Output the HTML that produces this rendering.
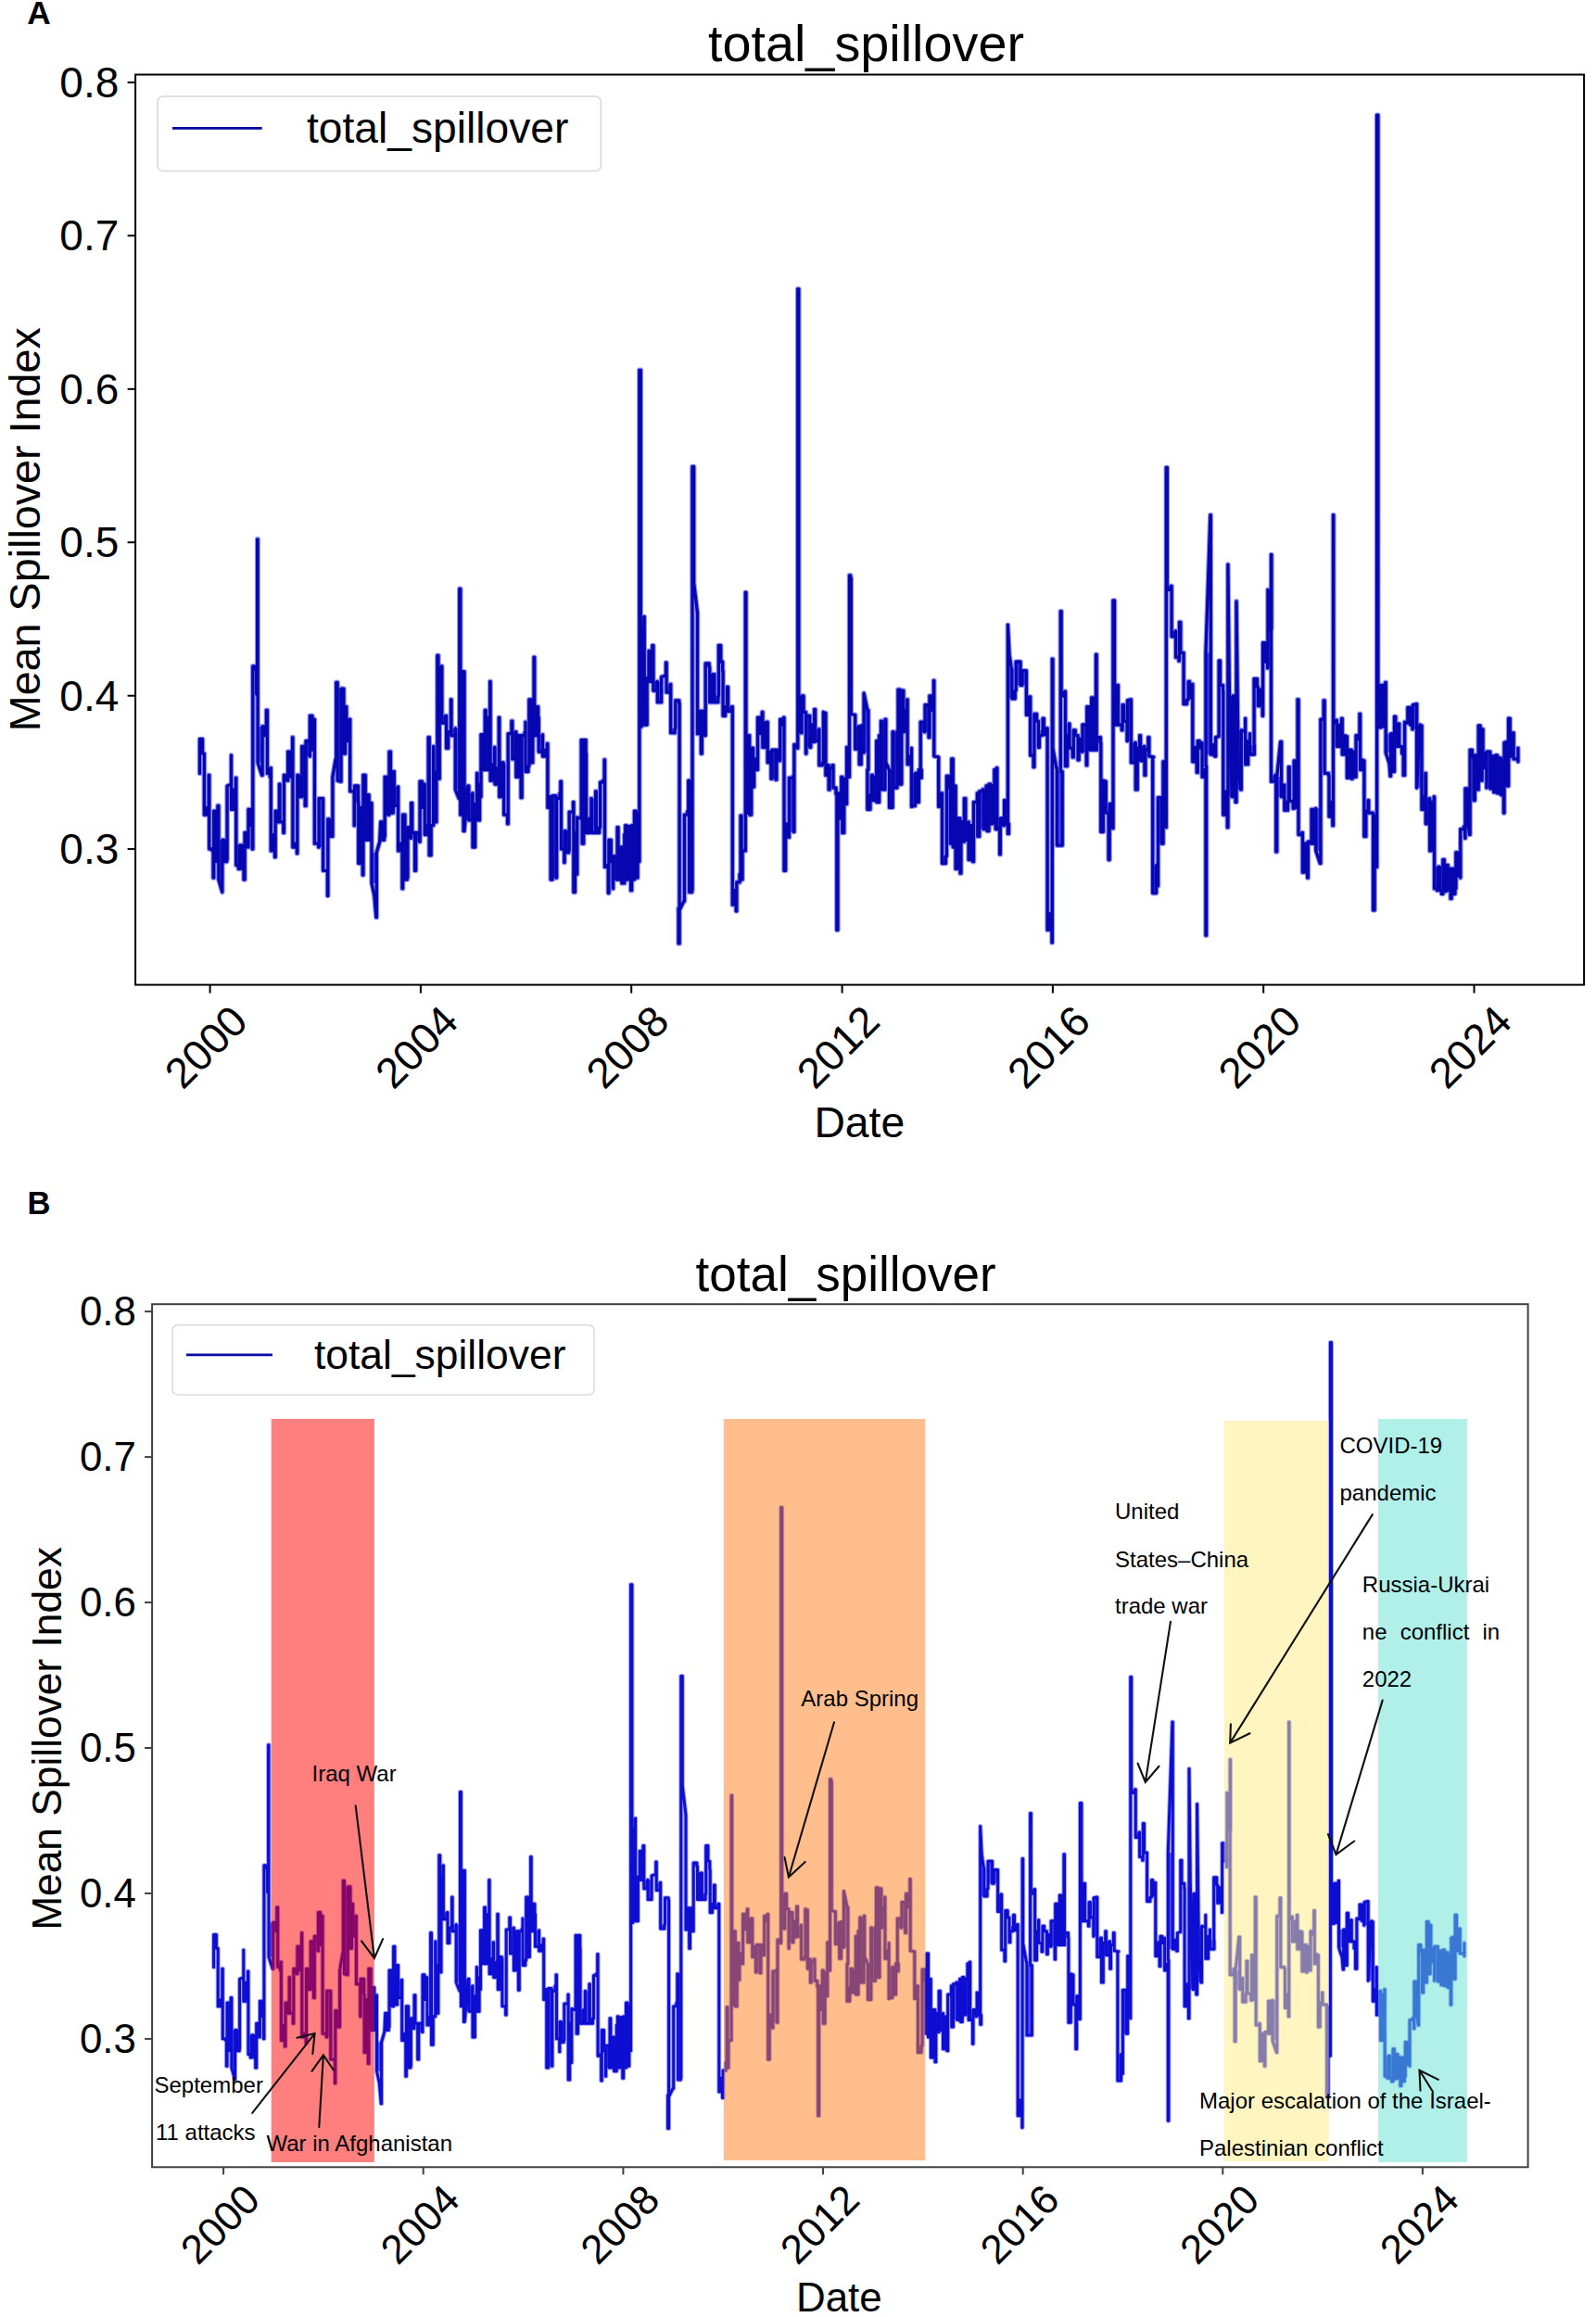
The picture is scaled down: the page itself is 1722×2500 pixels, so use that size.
<!DOCTYPE html>
<html lang="en"><head><meta charset="utf-8"><title>total_spillover</title>
<style>html,body{margin:0;padding:0;background:#fff}body{width:1722px;height:2500px;overflow:hidden}svg{display:block}text{font-family:'Liberation Sans', Arial, sans-serif;fill:#000}</style></head><body>
<svg width="1722" height="2500" viewBox="0 0 1722 2500">
<rect x="0" y="0" width="1722" height="2500" fill="#ffffff"/>
<text x="29.3" y="26.2" font-size="35.3" font-weight="bold">A</text>
<text x="29.6" y="1310" font-size="34.6" font-weight="bold">B</text>
<g id="chartA">
<path d="M215.5 799.5H218.5V813.1H215.5Z M220.4 871.3H223.3V879.1H220.4Z M230.7 875.2H233.0V929.6H230.7Z M233.0 875.2H235.0V929.6H233.0Z M235.9 906.3H239.8V949.0H235.9Z M239.8 906.3H241.8V929.6H239.8Z M241.8 906.3H245.1V927.6H241.8Z M249.5 851.9H252.4V873.3H249.5Z M258.3 912.1H261.2V937.4H258.3Z M264.1 898.5H267.0V914.0H264.1Z M268.0 873.3H270.9V890.7H268.0Z M278.1 783.9H283.1V822.8H278.1Z M283.1 783.9H285.5V793.6H283.1Z M285.5 783.9H287.4V793.6H285.5Z M292.3 900.5H295.2V917.9H292.3Z M295.2 900.5H296.5V917.9H295.2Z M297.1 875.2H300.0V886.9H297.1Z M300.0 875.2H301.4V886.9H300.0Z M306.4 836.4H309.7V842.2H306.4Z M310.7 811.1H313.6V838.3H310.7Z M313.6 811.1H315.6V838.3H313.6Z M315.9 910.2H318.5V914.0H315.9Z M318.5 910.2H320.4V914.0H318.5Z M320.8 836.4H322.4V859.7H320.8Z M322.4 836.4H325.8V859.7H322.4Z M325.8 805.3H329.2V859.7H325.8Z M330.1 799.5H334.0V816.0H330.1Z M334.4 772.3H336.9V809.2H334.4Z M336.9 776.2H339.4V809.2H336.9Z M344.1 863.6H348.6V914.0H344.1Z M353.8 883.9H355.4V902.4H353.8Z M355.4 883.9H358.9V902.4H355.4Z M362.8 736.3H364.1V818.9H362.8Z M364.1 743.1H368.0V842.2H364.1Z M368.0 743.1H370.9V813.1H368.0Z M370.9 762.6H372.5V813.1H370.9Z M372.5 762.6H373.8V799.5H372.5Z M373.8 776.2H377.1V799.5H373.8Z M382.6 848.0H386.4V865.5H382.6Z M386.8 871.3H388.4V931.5H386.8Z M388.4 871.3H391.3V931.5H388.4Z M391.9 836.4H394.2V906.3H391.9Z M394.2 857.7H396.2V906.3H394.2Z M396.2 857.7H398.1V906.3H396.2Z M398.1 866.5H401.0V906.3H398.1Z M401.0 919.9H406.3V952.9H401.0Z M412.7 902.4H414.6V906.3H412.7Z M415.2 838.3H418.5V879.1H415.2Z M418.5 838.3H420.0V879.1H418.5Z M420.0 811.1H421.4V877.1H420.0Z M421.4 832.5H424.3V877.1H421.4Z M425.3 849.0H429.2V869.4H425.3Z M429.6 910.2H432.1V917.9H429.6Z M432.1 910.2H434.0V917.9H432.1Z M434.6 879.1H436.9V949.0H434.6Z M436.9 892.7H439.9V947.1H436.9Z M439.9 892.7H442.8V904.3H439.9Z M448.6 898.5H452.5V908.2H448.6Z M453.1 843.2H455.4V871.3H453.1Z M455.4 846.1H457.9V871.3H455.4Z M458.3 890.7H461.2V900.5H458.3Z M463.2 890.7H465.1V922.8H463.2Z M468.0 832.5H470.9V886.9H468.0Z M472.9 731.5H474.2V840.2H472.9Z M476.8 772.3H480.6V780.0H476.8Z M481.6 789.7H483.6V807.2H481.6Z M487.0 785.9H491.3V793.6H487.0Z M491.3 785.9H495.8V851.9H491.3Z M496.8 724.7H499.1V879.1H496.8Z M501.0 848.0H505.8V884.9H501.0Z M505.8 855.8H509.7V884.9H505.8Z M510.1 867.4H512.6V914.0H510.1Z M515.1 846.1H517.5V884.9H515.1Z M519.0 792.7H521.4V830.5H519.0Z M521.4 792.7H523.3V830.5H521.4Z M524.3 774.2H527.2V830.5H524.3Z M529.1 824.7H532.0V842.2H529.1Z M534.0 828.6H536.9V846.1H534.0Z M538.8 822.8H540.8V859.7H538.8Z M540.8 824.7H543.7V859.7H540.8Z M552.8 789.7H556.3V818.9H552.8Z M556.9 793.6H559.2V838.3H556.9Z M559.2 795.6H562.1V838.3H559.2Z M567.0 826.6H569.9V832.5H567.0Z M570.9 754.8H573.4V822.8H570.9Z M573.4 754.8H574.8V822.8H573.4Z M576.7 762.6H578.7V793.6H576.7Z M578.7 762.6H580.6V774.2H578.7Z M581.2 792.7H585.5V811.1H581.2Z M585.5 809.2H588.4V816.0H585.5Z M590.9 859.7H593.2V871.3H590.9Z M594.2 859.7H596.1V949.0H594.2Z M596.1 858.7H600.0V947.1H596.1Z M609.1 896.6H610.7V919.9H609.1Z M610.7 896.6H614.2V917.9H610.7Z M618.9 898.5H620.4V962.6H618.9Z M620.4 898.5H622.4V943.2H620.4Z M628.2 798.5H629.7V910.2H628.2Z M629.7 798.5H632.1V813.1H629.7Z M632.5 883.0H635.9V898.5H632.5Z M638.3 861.6H642.7V898.5H638.3Z M643.3 892.7H646.6V898.5H643.3Z M656.9 906.3H659.3V929.6H656.9Z M661.6 923.8H665.1V949.0H661.6Z M667.0 914.0H669.9V949.0H667.0Z M670.9 914.0H673.8V952.9H670.9Z M675.8 891.7H677.7V949.0H675.8Z M677.7 891.7H680.6V949.0H677.7Z M681.6 890.7H683.5V949.0H681.6Z M684.5 875.2H686.4V947.1H684.5Z M686.4 879.1H688.0V947.1H686.4Z M688.0 879.1H689.4V929.6H688.0Z M689.9 399.4H691.3V783.9H689.9Z M695.2 731.5H698.1V782.0H695.2Z M701.0 702.4H703.9V735.4H701.0Z M704.9 735.4H708.8V745.1H704.9Z M709.4 735.4H713.6V757.7H709.4Z M719.1 738.3H723.3V747.0H719.1Z M723.7 785.9H728.2V790.7H723.7Z M743.7 842.2H747.0V960.7H743.7Z M747.0 503.5H748.6V628.6H747.0Z M752.5 767.4H754.4V791.7H752.5Z M754.4 767.4H756.4V791.7H754.4Z M757.3 767.4H760.2V793.6H757.3Z M761.2 715.9H765.1V719.8H761.2Z M765.7 727.6H769.0V757.7H765.7Z M769.0 727.6H770.9V757.7H769.0Z M770.9 750.9H774.8V757.7H770.9Z M775.4 696.5H777.7V714.0H775.4Z M780.1 762.6H782.6V772.3H780.1Z M785.5 762.6H789.4V767.4H785.5Z M791.3 960.7H794.2V976.2H791.3Z M804.9 793.6H807.8V877.1H804.9Z M808.7 807.2H810.7V879.1H808.7Z M810.7 807.2H812.6V849.0H810.7Z M813.6 818.9H816.5V830.5H813.6Z M817.5 774.2H820.4V791.7H817.5Z M820.4 774.2H822.3V791.7H820.4Z M822.9 780.0H825.2V806.3H822.9Z M825.2 780.0H828.2V806.3H825.2Z M828.2 811.1H831.1V822.8H828.2Z M833.0 809.2H836.9V840.2H833.0Z M837.9 809.2H840.8V820.8H837.9Z M841.8 776.2H844.3V782.0H841.8Z M844.3 776.2H845.6V782.0H844.3Z M846.0 888.8H847.6V939.3H846.0Z M847.6 888.8H850.9V903.4H847.6Z M851.5 839.3H856.3V897.5H851.5Z M856.9 803.3H860.2V807.2H856.9Z M865.1 750.9H867.0V768.4H865.1Z M869.9 772.3H873.8V806.3H869.9Z M874.8 782.0H876.7V800.4H874.8Z M876.7 782.0H878.7V800.4H876.7Z M879.6 786.8H883.5V799.5H879.6Z M888.4 769.4H890.9V822.8H888.4Z M890.9 825.7H893.2V836.4H890.9Z M903.9 855.8H905.8V883.0H903.9Z M905.8 855.8H907.8V883.0H905.8Z M908.8 840.2H910.7V898.5H908.8Z M910.7 840.2H912.6V867.4H910.7Z M913.6 806.3H916.1V838.3H913.6Z M922.7 783.9H926.2V808.2H922.7Z M927.2 783.9H929.2V824.7H927.2Z M929.2 783.0H931.1V812.1H929.2Z M932.1 766.4H936.9V812.1H932.1Z M935.9 857.7H938.9V873.3H935.9Z M940.2 836.4H941.8V857.7H940.2Z M941.8 838.3H944.7V863.6H941.8Z M946.0 799.5H948.6V865.5H946.0Z M951.5 778.1H955.0V851.9H951.5Z M959.6 832.5H963.1V871.3H959.6Z M964.1 789.7H968.0V850.0H964.1Z M969.0 744.1H970.9V788.8H969.0Z M970.9 745.1H972.8V846.1H970.9Z M972.8 745.1H974.8V789.7H972.8Z M979.1 816.0H981.6V824.7H979.1Z M983.5 834.4H987.4V869.4H983.5Z M987.4 834.4H990.3V865.5H987.4Z M991.3 830.5H994.2V839.3H991.3Z M993.2 779.1H997.1V789.7H993.2Z M998.1 760.6H1002.0V789.7H998.1Z M1003.0 750.9H1005.9V766.4H1003.0Z M1005.9 750.9H1007.4V766.4H1005.9Z M1012.7 855.8H1015.6V870.3H1012.7Z M1016.5 923.8H1020.4V931.5H1016.5Z M1021.4 837.3H1024.3V850.0H1021.4Z M1025.3 850.0H1026.8V910.2H1025.3Z M1026.8 818.9H1028.2V910.2H1026.8Z M1028.2 848.0H1030.7V914.0H1028.2Z M1031.1 883.0H1033.1V937.4H1031.1Z M1033.1 883.0H1036.0V937.4H1033.1Z M1036.9 886.9H1039.9V908.2H1036.9Z M1040.4 861.6H1041.8V906.3H1040.4Z M1041.8 886.9H1045.1V906.3H1041.8Z M1045.1 890.7H1047.6V927.6H1045.1Z M1047.6 890.7H1049.6V927.6H1047.6Z M1054.8 855.8H1056.7V902.4H1054.8Z M1056.7 853.8H1061.2V894.6H1056.7Z M1061.2 851.9H1064.1V894.6H1061.2Z M1065.1 848.0H1067.0V896.6H1065.1Z M1067.0 846.1H1069.0V888.8H1067.0Z M1069.0 848.0H1070.9V888.8H1069.0Z M1072.9 830.5H1074.2V848.0H1072.9Z M1074.2 830.5H1075.4V894.6H1074.2Z M1079.3 883.0H1082.6V890.7H1079.3Z M1087.4 721.8H1091.9V753.8H1087.4Z M1091.9 745.1H1095.2V753.8H1091.9Z M1096.2 714.0H1101.0V739.3H1096.2Z M1101.0 723.7H1102.9V739.3H1101.0Z M1102.9 723.7H1107.4V739.3H1102.9Z M1107.4 751.9H1110.7V771.3H1107.4Z M1115.9 770.3H1118.5V778.1H1115.9Z M1126.2 785.9H1129.1V792.7H1126.2Z M1130.1 985.9H1132.0V1003.4H1130.1Z M1132.0 985.9H1135.0V1003.4H1132.0Z M1140.4 832.5H1146.2V912.1H1140.4Z M1145.1 746.1H1148.6V750.9H1145.1Z M1149.5 793.6H1151.5V826.6H1149.5Z M1158.3 787.8H1160.2V793.6H1158.3Z M1164.1 797.5H1167.0V811.1H1164.1Z M1168.0 782.0H1172.2V811.1H1168.0Z M1172.8 762.6H1175.7V809.2H1172.8Z M1175.7 762.6H1177.7V809.2H1175.7Z M1177.7 752.8H1179.6V809.2H1177.7Z M1179.6 752.8H1182.5V809.2H1179.6Z M1183.5 795.6H1187.4V801.4H1183.5Z M1187.8 842.2H1190.3V897.5H1187.8Z M1190.3 843.2H1193.2V877.1H1190.3Z M1197.1 867.4H1200.0V893.7H1197.1Z M1201.0 648.0H1202.5V782.0H1201.0Z M1202.5 739.3H1204.9V782.0H1202.5Z M1204.9 739.3H1206.4V782.0H1204.9Z M1211.1 760.6H1212.6V778.1H1211.1Z M1216.5 755.8H1220.4V799.5H1216.5Z M1220.4 801.4H1224.3V822.8H1220.4Z M1225.3 807.2H1227.2V851.9H1225.3Z M1230.5 805.3H1234.0V820.8H1230.5Z M1243.7 933.5H1247.6V963.6H1243.7Z M1247.6 933.5H1249.2V955.8H1247.6Z M1249.5 860.6H1253.4V910.2H1249.5Z M1253.4 860.6H1255.0V910.2H1253.4Z M1255.0 821.8H1258.3V892.7H1255.0Z M1259.3 632.4H1263.1V636.3H1259.3Z M1264.1 681.0H1268.0V686.8H1264.1Z M1272.5 671.3H1273.8V704.3H1272.5Z M1277.1 754.8H1280.6V759.6H1277.1Z M1282.2 735.4H1283.5V752.8H1282.2Z M1283.5 738.3H1286.4V752.8H1283.5Z M1286.8 806.3H1289.4V821.8H1286.8Z M1289.4 806.3H1291.3V821.8H1289.4Z M1292.3 799.5H1294.2V807.2H1292.3Z M1294.2 801.4H1297.1V807.2H1294.2Z M1297.1 830.5H1300.0V838.3H1297.1Z M1301.0 704.3H1306.3V814.0H1301.0Z M1306.3 803.3H1308.8V814.0H1306.3Z M1308.8 803.3H1310.7V814.0H1308.8Z M1315.2 713.0H1316.5V739.3H1315.2Z M1319.8 853.8H1322.4V879.1H1319.8Z M1322.4 853.8H1324.3V879.1H1322.4Z M1324.9 750.9H1330.1V859.7H1324.9Z M1330.1 750.9H1333.1V859.7H1330.1Z M1334.0 787.8H1339.3V851.9H1334.0Z M1343.7 799.5H1346.6V824.7H1343.7Z M1348.6 804.3H1353.4V814.0H1348.6Z M1353.1 732.5H1356.4V741.2H1353.1Z M1357.3 744.1H1359.3V761.6H1357.3Z M1359.3 744.1H1362.2V761.6H1359.3Z M1362.6 693.6H1365.1V714.0H1362.6Z M1368.0 636.3H1371.9V679.0H1368.0Z M1371.5 836.4H1375.8V843.2H1371.5Z M1377.7 838.3H1382.6V859.7H1377.7Z M1382.6 847.0H1385.5V859.7H1382.6Z M1385.9 864.5H1389.4V874.2H1385.9Z M1396.2 820.8H1398.1V871.3H1396.2Z M1398.1 820.8H1400.1V871.3H1398.1Z M1405.4 910.2H1407.8V941.2H1405.4Z M1407.8 910.2H1410.7V941.2H1407.8Z M1415.1 873.3H1417.5V910.2H1415.1Z M1417.5 873.3H1419.4V910.2H1417.5Z M1419.8 872.3H1424.9V917.9H1419.8Z M1434.0 865.5H1435.9V881.0H1434.0Z M1435.9 865.5H1437.9V881.0H1435.9Z M1442.3 782.0H1445.6V805.3H1442.3Z M1448.2 793.6H1450.9V814.0H1448.2Z M1450.9 794.6H1453.4V814.0H1450.9Z M1453.4 809.2H1455.4V839.3H1453.4Z M1455.4 809.2H1458.3V839.3H1455.4Z M1459.2 811.1H1462.1V838.3H1459.2Z M1463.1 793.6H1465.6V797.5H1463.1Z M1465.6 793.6H1467.0V797.5H1465.6Z M1467.6 819.9H1469.9V830.5H1467.6Z M1469.9 820.8H1471.9V830.5H1469.9Z M1471.9 875.2H1473.8V902.4H1471.9Z M1481.6 880.1H1483.1V982.0H1481.6Z M1483.1 880.1H1484.7V935.4H1483.1Z M1485.6 124.2H1486.8V784.9H1485.6Z M1486.8 739.3H1489.7V784.9H1486.8Z M1489.7 739.3H1492.3V783.9H1489.7Z M1492.3 739.3H1494.8V783.9H1492.3Z M1495.2 791.7H1500.6V812.1H1495.2Z M1500.6 791.7H1502.9V832.5H1500.6Z M1502.9 791.7H1504.5V832.5H1502.9Z M1504.5 773.2H1505.8V805.3H1504.5Z M1505.8 781.0H1508.8V805.3H1505.8Z M1514.2 813.1H1515.6V836.4H1514.2Z M1518.9 763.5H1521.4V780.0H1518.9Z M1524.3 760.6H1528.6V786.8H1524.3Z M1528.6 783.0H1534.0V850.0H1528.6Z M1534.0 859.7H1535.9V873.3H1534.0Z M1538.3 861.6H1541.8V888.8H1538.3Z M1542.7 865.5H1544.7V917.9H1542.7Z M1547.6 935.4H1551.5V958.7H1547.6Z M1551.5 935.4H1553.4V960.7H1551.5Z M1555.4 960.7H1556.9V964.5H1555.4Z M1556.9 927.6H1558.3V961.6H1556.9Z M1558.3 933.5H1560.2V961.6H1558.3Z M1560.2 933.5H1562.2V960.7H1560.2Z M1565.1 937.4H1568.0V964.5H1565.1Z M1568.0 958.7H1569.9V964.5H1568.0Z M1570.9 919.9H1572.8V945.1H1570.9Z M1572.8 919.9H1575.8V945.1H1572.8Z M1581.0 850.9H1583.5V884.9H1581.0Z M1583.5 850.9H1586.1V884.9H1583.5Z M1586.1 809.2H1588.4V816.9H1586.1Z M1589.9 816.9H1591.3V863.6H1589.9Z M1591.3 815.0H1594.2V851.9H1591.3Z M1595.2 783.0H1597.1V842.2H1595.2Z M1597.1 786.8H1599.1V842.2H1597.1Z M1600.0 813.1H1602.0V828.6H1600.0Z M1602.0 813.1H1603.9V828.6H1602.0Z M1603.9 811.1H1607.8V850.0H1603.9Z M1608.8 816.0H1611.7V850.9H1608.8Z M1611.7 816.0H1613.6V854.8H1611.7Z M1613.6 815.0H1615.6V854.8H1613.6Z M1615.6 817.9H1617.5V855.8H1615.6Z M1617.5 817.9H1619.5V855.8H1617.5Z M1619.5 820.8H1621.4V857.7H1619.5Z M1623.0 801.4H1626.3V848.0H1623.0Z M1626.3 800.4H1627.6V848.0H1626.3Z M1627.6 775.2H1629.2V816.0H1627.6Z M1629.2 790.7H1632.1V816.0H1629.2Z" fill="#2a2aee" fill-opacity="0.80" stroke="none"/>
<path d="M215.5 834.4 L215.5 797.5 L218.5 797.5 L218.5 799.5 L218.5 813.1 L220.4 813.1 L220.4 879.1 L223.3 879.1 L223.3 871.3 L225.2 871.3 L225.2 836.4 L225.8 836.4 L225.8 916.0 L229.1 916.0 L229.1 917.9 L230.1 917.9 L230.1 947.1 L230.7 947.1 L230.7 875.2 L233.0 875.2 L233.0 929.6 L235.0 929.6 L235.0 869.4 L235.9 869.4 L235.9 949.0 L239.8 962.6 L239.8 906.3 L241.8 906.3 L241.8 929.6 L244.7 929.6 L244.7 927.6 L245.1 927.6 L245.1 848.0 L247.6 847.0 L249.5 847.0 L249.5 815.0 L249.5 873.3 L252.4 873.3 L252.4 851.9 L254.4 851.9 L254.4 839.3 L254.8 839.3 L254.8 933.5 L257.3 933.5 L257.3 937.4 L258.3 937.4 L258.3 912.1 L260.2 912.1 L261.2 912.1 L261.2 937.4 L263.1 937.4 L263.1 949.0 L264.1 949.0 L264.1 898.5 L267.0 898.5 L267.0 914.0 L268.0 914.0 L268.0 873.3 L270.9 873.3 L270.9 890.7 L272.2 890.7 L272.2 916.0 L272.8 916.0 L272.8 718.9 L274.8 718.9 L274.8 721.8 L276.7 721.8 L276.7 749.0 L277.7 749.0 L277.7 581.9 L278.1 581.9 L278.1 822.8 L282.5 836.4 L283.1 836.4 L283.1 783.9 L285.5 783.9 L285.5 793.6 L287.4 793.6 L287.4 766.4 L288.4 766.4 L288.4 834.4 L291.3 834.4 L291.3 838.3 L291.7 838.3 L291.7 828.6 L292.3 828.6 L292.3 917.9 L295.2 917.9 L295.2 900.5 L296.5 900.5 L296.5 924.7 L297.1 924.7 L297.1 875.2 L300.0 875.2 L300.0 886.9 L301.4 886.9 L301.4 846.1 L302.0 846.1 L302.0 886.9 L305.8 886.9 L305.8 898.5 L306.4 898.5 L306.4 836.4 L309.7 836.4 L309.7 842.2 L310.7 842.2 L310.7 811.1 L313.6 811.1 L313.6 838.3 L315.6 838.3 L315.6 795.6 L315.9 795.6 L315.9 914.0 L318.5 914.0 L318.5 910.2 L320.4 910.2 L320.4 920.8 L320.8 920.8 L320.8 836.4 L322.4 836.4 L322.4 859.7 L325.3 859.7 L325.8 859.7 L325.8 805.3 L329.2 805.3 L329.2 869.4 L330.1 869.4 L330.1 799.5 L334.0 799.5 L334.0 816.0 L334.4 816.0 L334.4 772.3 L336.9 772.3 L336.9 809.2 L339.4 809.2 L339.4 776.2 L339.4 910.2 L343.7 910.2 L343.7 914.0 L344.1 914.0 L344.1 861.6 L348.6 861.6 L348.6 863.6 L348.6 939.3 L351.5 939.3 L353.4 939.3 L353.4 966.5 L353.8 966.5 L353.8 883.9 L355.4 883.9 L355.4 902.4 L358.3 902.4 L358.9 902.4 L358.9 838.3 L362.2 818.9 L362.8 818.9 L362.8 736.3 L364.1 736.3 L364.1 842.2 L367.4 843.2 L368.0 843.2 L368.0 743.1 L370.9 743.1 L370.9 813.1 L372.5 813.1 L372.5 762.6 L373.8 762.6 L373.8 799.5 L377.1 799.5 L377.1 776.2 L377.7 776.2 L377.7 853.8 L380.6 853.8 L382.2 853.8 L382.2 890.7 L382.6 890.7 L382.6 848.0 L386.4 848.0 L386.4 865.5 L386.8 865.5 L386.8 931.5 L388.4 931.5 L388.4 871.3 L391.3 871.3 L391.3 944.1 L391.9 944.1 L391.9 836.4 L394.2 836.4 L394.2 906.3 L396.2 906.3 L396.2 857.7 L398.1 857.7 L398.1 906.3 L401.0 906.3 L401.0 866.5 L401.0 952.9 L403.9 966.5 L405.9 989.8 L406.3 989.8 L406.3 919.9 L409.7 908.2 L410.7 886.9 L412.7 886.9 L412.7 906.3 L414.6 906.3 L414.6 902.4 L415.2 902.4 L415.2 838.3 L418.5 838.3 L418.5 879.1 L420.0 879.1 L420.0 811.1 L421.4 811.1 L421.4 877.1 L424.3 877.1 L424.3 832.5 L425.3 832.5 L425.3 869.4 L429.2 869.4 L429.2 849.0 L429.6 849.0 L429.6 917.9 L432.1 917.9 L432.1 910.2 L434.0 910.2 L434.0 958.7 L434.6 958.7 L434.6 879.1 L436.9 879.1 L436.9 949.0 L439.3 949.0 L439.3 947.1 L439.9 947.1 L439.9 892.7 L442.8 892.7 L442.8 904.3 L443.7 904.3 L443.7 866.5 L444.7 866.5 L444.7 898.5 L447.6 898.5 L447.6 939.3 L448.6 939.3 L448.6 898.5 L452.5 898.5 L452.5 908.2 L453.1 908.2 L453.1 843.2 L455.4 843.2 L455.4 871.3 L457.9 871.3 L457.9 846.1 L458.3 846.1 L458.3 900.5 L461.2 900.5 L461.2 890.7 L462.2 890.7 L462.2 795.6 L463.2 795.6 L463.2 922.8 L465.1 922.8 L465.1 890.7 L467.6 890.7 L467.6 805.3 L468.0 805.3 L468.0 886.9 L470.9 886.9 L470.9 832.5 L471.9 832.5 L471.9 707.2 L472.9 707.2 L472.9 840.2 L474.2 840.2 L474.2 731.5 L476.2 731.5 L476.2 718.9 L476.8 718.9 L476.8 780.0 L480.6 780.0 L480.6 772.3 L481.6 772.3 L481.6 807.2 L483.6 807.2 L483.6 789.7 L486.5 789.7 L486.5 754.8 L487.0 754.8 L487.0 793.6 L491.3 793.6 L491.3 785.9 L491.3 851.9 L495.2 861.6 L495.8 861.6 L495.8 635.4 L496.8 635.4 L496.8 879.1 L499.1 879.1 L499.1 724.7 L500.1 724.7 L500.1 896.6 L500.0 724.7 L501.0 724.7 L501.0 896.6 L504.9 848.0 L505.8 848.0 L505.8 884.9 L509.7 884.9 L509.7 855.8 L510.1 855.8 L510.1 914.0 L512.6 914.0 L512.6 867.4 L514.6 867.4 L514.6 834.4 L515.1 834.4 L515.1 884.9 L517.5 884.9 L517.5 846.1 L518.5 846.1 L518.5 859.7 L519.0 859.7 L519.0 792.7 L521.4 792.7 L521.4 830.5 L523.3 830.5 L523.3 766.4 L524.3 766.4 L524.3 830.5 L527.2 830.5 L527.2 774.2 L528.7 774.2 L528.7 735.4 L529.1 735.4 L529.1 842.2 L532.0 842.2 L532.0 824.7 L533.4 824.7 L533.4 806.3 L534.0 806.3 L534.0 846.1 L536.9 846.1 L536.9 828.6 L538.3 828.6 L538.3 774.2 L538.8 774.2 L538.8 859.7 L540.8 859.7 L540.8 822.8 L543.1 822.8 L543.1 824.7 L543.7 824.7 L543.7 879.1 L547.6 879.1 L547.6 888.8 L548.2 888.8 L548.2 791.7 L552.0 791.7 L552.0 778.1 L552.8 778.1 L552.8 818.9 L555.4 818.9 L556.3 818.9 L556.3 789.7 L556.9 789.7 L556.9 838.3 L559.2 838.3 L559.2 793.6 L561.8 793.6 L561.8 795.6 L562.1 795.6 L562.1 860.6 L563.1 860.6 L563.1 793.6 L566.0 793.6 L566.0 790.7 L567.0 790.7 L567.0 779.1 L567.0 832.5 L569.9 832.5 L569.9 826.6 L570.9 826.6 L570.9 754.8 L573.4 754.8 L573.4 822.8 L574.8 822.8 L574.8 754.8 L576.1 754.8 L576.1 709.2 L576.7 709.2 L576.7 793.6 L578.7 793.6 L578.7 762.6 L580.6 762.6 L580.6 774.2 L581.2 774.2 L581.2 811.1 L583.5 811.1 L585.5 811.1 L585.5 792.7 L585.5 816.0 L588.4 816.0 L588.4 809.2 L590.3 809.2 L590.3 802.4 L590.9 802.4 L590.9 871.3 L593.2 871.3 L593.2 859.7 L594.2 859.7 L594.2 949.0 L596.1 949.0 L596.1 858.7 L600.0 858.7 L600.0 947.1 L600.6 947.1 L600.6 861.6 L603.9 861.6 L603.9 855.8 L604.9 855.8 L604.9 843.2 L605.5 843.2 L605.5 916.0 L608.8 916.0 L608.8 930.6 L609.1 930.6 L609.1 896.6 L610.7 896.6 L610.7 919.9 L613.6 919.9 L613.6 917.9 L614.2 917.9 L614.2 876.2 L618.5 876.2 L618.5 865.5 L618.9 865.5 L618.9 962.6 L620.4 962.6 L620.4 898.5 L622.4 898.5 L622.4 943.2 L622.7 943.2 L622.7 882.0 L626.2 883.0 L627.2 883.0 L627.2 798.5 L628.2 798.5 L628.2 910.2 L629.7 910.2 L629.7 798.5 L632.1 798.5 L632.1 813.1 L632.5 813.1 L632.5 898.5 L635.9 898.5 L635.9 883.0 L637.9 883.0 L637.9 861.6 L638.3 861.6 L638.3 898.5 L641.8 898.5 L642.7 898.5 L642.7 853.8 L643.3 853.8 L643.3 898.5 L646.6 898.5 L646.6 892.7 L647.6 892.7 L647.6 844.1 L650.5 844.1 L650.5 842.2 L652.1 842.2 L652.1 819.9 L652.5 819.9 L652.5 935.4 L655.4 935.4 L655.4 933.5 L656.3 933.5 L656.3 963.6 L656.9 963.6 L656.9 906.3 L659.3 906.3 L659.3 929.6 L661.2 929.6 L661.2 958.7 L661.6 958.7 L661.6 923.8 L665.1 923.8 L665.1 949.0 L666.1 949.0 L666.1 892.7 L667.0 892.7 L667.0 949.0 L669.9 949.0 L669.9 914.0 L670.9 914.0 L670.9 952.9 L673.8 952.9 L673.8 900.5 L674.8 900.5 L674.8 890.7 L675.8 890.7 L675.8 949.0 L677.7 949.0 L677.7 891.7 L680.6 891.7 L680.6 960.7 L681.6 960.7 L681.6 890.7 L683.5 890.7 L683.5 949.0 L684.5 949.0 L684.5 875.2 L686.4 875.2 L686.4 947.1 L688.0 947.1 L688.0 879.1 L689.4 879.1 L689.4 929.6 L689.9 929.6 L689.9 399.4 L691.3 399.4 L691.3 783.9 L692.3 783.9 L692.3 677.1 L694.8 677.1 L694.8 665.5 L695.2 665.5 L695.2 782.0 L698.1 782.0 L698.1 731.5 L700.0 731.5 L700.0 702.4 L701.0 702.4 L701.0 735.4 L703.9 735.4 L703.9 696.5 L704.9 696.5 L704.9 745.1 L708.8 745.1 L708.8 735.4 L709.4 735.4 L709.4 757.7 L712.7 757.7 L713.6 757.7 L713.6 730.5 L716.5 729.5 L718.5 729.5 L718.5 715.0 L719.1 715.0 L719.1 747.0 L723.3 747.0 L723.3 738.3 L723.7 738.3 L723.7 790.7 L728.2 790.7 L728.2 785.9 L728.8 785.9 L728.8 755.8 L732.7 755.8 L732.7 758.7 L733.1 758.7 L733.1 980.1 L732.1 980.1 L732.1 1017.9 L733.1 1017.9 L733.1 982.0 L737.9 972.3 L738.5 972.3 L738.5 879.1 L741.8 879.1 L741.8 875.2 L742.8 875.2 L742.8 842.2 L743.7 842.2 L743.7 962.6 L746.6 962.6 L746.6 960.7 L747.0 960.7 L747.0 503.5 L748.6 503.5 L748.6 628.6 L752.5 661.6 L752.5 791.7 L754.4 791.7 L754.4 767.4 L756.4 767.4 L756.4 813.1 L757.3 813.1 L757.3 767.4 L760.2 767.4 L760.2 793.6 L761.2 793.6 L761.2 715.9 L765.1 715.9 L765.1 719.8 L765.7 719.8 L765.7 757.7 L769.0 757.7 L769.0 727.6 L770.9 727.6 L770.9 757.7 L774.8 757.7 L774.8 750.9 L775.4 750.9 L775.4 696.5 L777.7 696.5 L777.7 714.0 L779.7 714.0 L779.7 723.7 L780.1 723.7 L780.1 772.3 L782.6 772.3 L782.6 762.6 L784.5 762.6 L784.5 741.2 L785.5 741.2 L785.5 767.4 L789.4 767.4 L789.4 762.6 L790.3 762.6 L790.3 976.2 L791.3 976.2 L791.3 960.7 L794.2 960.7 L794.2 983.0 L794.8 983.0 L794.8 951.9 L798.1 951.9 L798.1 943.2 L799.1 943.2 L799.1 880.1 L800.1 880.1 L800.1 943.2 L800.0 880.1 L800.0 949.0 L801.0 949.0 L801.0 917.9 L803.9 917.9 L804.3 917.9 L804.3 639.2 L804.9 639.2 L804.9 877.1 L807.8 877.1 L807.8 793.6 L808.7 793.6 L808.7 879.1 L810.7 879.1 L810.7 807.2 L812.6 807.2 L812.6 849.0 L813.6 849.0 L813.6 818.9 L816.5 818.9 L816.5 830.5 L817.5 830.5 L817.5 774.2 L820.4 774.2 L820.4 791.7 L822.3 791.7 L822.3 768.4 L822.9 768.4 L822.9 806.3 L825.2 806.3 L825.2 780.0 L827.6 779.1 L828.2 779.1 L828.2 822.8 L831.1 822.8 L831.1 811.1 L832.0 811.1 L832.0 840.2 L833.0 840.2 L833.0 809.2 L836.9 809.2 L836.9 841.2 L837.9 841.2 L837.9 809.2 L840.8 809.2 L840.8 820.8 L841.8 820.8 L841.8 776.2 L844.3 776.2 L844.3 782.0 L845.6 782.0 L845.6 774.2 L846.0 774.2 L846.0 939.3 L847.6 939.3 L847.6 888.8 L850.9 888.8 L850.9 903.4 L851.5 903.4 L851.5 839.3 L855.9 839.3 L855.9 837.3 L856.3 837.3 L856.3 897.5 L856.9 897.5 L856.9 803.3 L860.2 803.3 L860.2 807.2 L860.8 807.2 L860.8 311.8 L861.8 311.8 L861.8 754.8 L864.1 754.8 L864.1 790.7 L865.1 790.7 L865.1 750.9 L867.0 750.9 L867.0 768.4 L869.5 768.4 L869.5 813.1 L869.9 813.1 L869.9 772.3 L873.8 772.3 L873.8 806.3 L874.8 806.3 L874.8 782.0 L876.7 782.0 L876.7 800.4 L878.7 800.4 L878.7 765.5 L879.6 765.5 L879.6 799.5 L883.5 799.5 L883.5 786.8 L883.9 786.8 L883.9 825.7 L887.4 825.7 L887.4 822.8 L888.4 822.8 L888.4 768.4 L890.3 769.4 L890.9 769.4 L890.9 836.4 L893.2 836.4 L893.2 825.7 L894.2 825.7 L894.2 851.9 L895.2 851.9 L895.2 828.6 L898.1 828.6 L898.1 825.7 L899.0 825.7 L899.0 850.0 L902.0 850.0 L902.0 856.8 L902.9 856.8 L902.9 1003.4 L903.9 1003.4 L903.9 855.8 L905.8 855.8 L905.8 883.0 L907.8 883.0 L907.8 838.3 L908.8 838.3 L908.8 898.5 L910.7 898.5 L910.7 840.2 L912.6 840.2 L912.6 867.4 L913.6 867.4 L913.6 806.3 L916.1 806.3 L916.1 838.3 L916.5 838.3 L916.5 620.8 L917.7 620.8 L917.7 623.7 L918.3 623.7 L918.3 770.3 L922.0 771.3 L922.7 771.3 L922.7 808.2 L926.2 808.2 L926.2 783.9 L927.2 783.9 L927.2 824.7 L929.2 824.7 L929.2 783.0 L931.1 783.0 L931.1 812.1 L932.1 812.1 L932.1 748.0 L935.9 766.4 L936.9 766.4 L936.9 830.5 L935.9 830.5 L935.9 873.3 L938.9 873.3 L938.9 857.7 L940.2 857.7 L940.2 836.4 L941.8 836.4 L941.8 863.6 L944.7 863.6 L944.7 838.3 L945.7 838.3 L945.7 799.5 L946.0 799.5 L946.0 865.5 L948.6 865.5 L948.6 793.6 L950.5 793.6 L950.5 778.1 L951.5 778.1 L951.5 851.9 L955.0 851.9 L955.0 776.2 L955.8 776.2 L955.8 822.8 L960.2 832.5 L959.6 832.5 L959.6 871.3 L963.1 871.3 L963.1 789.7 L964.1 789.7 L964.1 850.0 L968.0 850.0 L968.0 788.8 L969.0 788.8 L969.0 744.1 L970.9 744.1 L970.9 846.1 L972.8 846.1 L972.8 745.1 L974.8 745.1 L974.8 789.7 L975.8 789.7 L975.8 766.4 L978.7 766.4 L978.7 754.8 L979.1 754.8 L979.1 824.7 L981.6 824.7 L981.6 816.0 L983.5 816.0 L983.5 807.2 L983.5 870.3 L986.4 869.4 L987.4 869.4 L987.4 834.4 L990.3 834.4 L990.3 865.5 L991.3 865.5 L991.3 830.5 L994.2 830.5 L994.2 839.3 L993.2 839.3 L993.2 779.1 L997.1 779.1 L997.1 789.7 L998.1 789.7 L998.1 760.6 L1002.0 760.6 L1002.0 795.6 L1003.0 795.6 L1003.0 750.9 L1005.9 750.9 L1005.9 766.4 L1007.4 766.4 L1007.4 734.4 L1007.8 734.4 L1007.8 816.0 L1012.7 816.9 L1012.7 870.3 L1015.6 870.3 L1015.6 855.8 L1016.5 855.8 L1016.5 931.5 L1020.4 931.5 L1020.4 923.8 L1021.4 923.8 L1021.4 837.3 L1024.3 837.3 L1024.3 850.0 L1025.3 850.0 L1025.3 910.2 L1026.8 910.2 L1026.8 818.9 L1028.2 818.9 L1028.2 914.0 L1030.7 914.0 L1030.7 848.0 L1031.1 848.0 L1031.1 937.4 L1033.1 937.4 L1033.1 883.0 L1036.0 883.0 L1036.0 942.2 L1036.9 942.2 L1036.9 886.9 L1039.9 886.9 L1039.9 908.2 L1040.4 908.2 L1040.4 861.6 L1041.8 861.6 L1041.8 906.3 L1045.1 906.3 L1045.1 886.9 L1045.1 927.6 L1047.6 927.6 L1047.6 890.7 L1049.6 890.7 L1049.6 929.6 L1050.5 929.6 L1050.5 865.5 L1054.4 865.5 L1054.4 855.8 L1054.8 855.8 L1054.8 902.4 L1056.7 902.4 L1056.7 853.8 L1060.2 853.8 L1060.2 851.9 L1061.2 851.9 L1061.2 894.6 L1064.1 894.6 L1064.1 848.0 L1065.1 848.0 L1065.1 896.6 L1067.0 896.6 L1067.0 846.1 L1069.0 846.1 L1069.0 888.8 L1070.9 888.8 L1070.9 848.0 L1072.9 848.0 L1072.9 830.5 L1074.2 830.5 L1074.2 894.6 L1075.4 894.6 L1075.4 828.6 L1075.8 828.6 L1075.8 894.6 L1078.7 894.6 L1078.7 921.8 L1079.3 921.8 L1079.3 883.0 L1082.6 883.0 L1082.6 890.7 L1083.6 890.7 L1083.6 863.6 L1084.5 863.6 L1084.5 888.8 L1088.4 888.8 L1088.4 899.5 L1087.4 899.5 L1087.4 674.2 L1089.0 706.2 L1091.3 721.8 L1091.9 721.8 L1091.9 753.8 L1095.2 753.8 L1095.2 745.1 L1096.2 745.1 L1096.2 714.0 L1100.1 714.0 L1100.0 714.0 L1101.0 714.0 L1101.0 739.3 L1102.9 739.3 L1102.9 723.7 L1106.8 723.7 L1107.4 723.7 L1107.4 771.3 L1110.7 771.3 L1110.7 751.9 L1111.7 751.9 L1111.7 815.0 L1115.1 815.0 L1115.1 827.6 L1115.9 827.6 L1115.9 770.3 L1118.5 770.3 L1118.5 778.1 L1120.4 778.1 L1120.4 806.3 L1121.4 806.3 L1121.4 793.6 L1124.3 793.6 L1124.3 788.8 L1125.2 788.8 L1125.2 775.2 L1126.2 775.2 L1126.2 792.7 L1129.1 792.7 L1129.1 785.9 L1130.1 785.9 L1130.1 1003.4 L1132.0 1003.4 L1132.0 985.9 L1135.0 985.9 L1135.0 1017.0 L1135.3 1017.0 L1135.3 711.1 L1135.9 711.1 L1135.9 807.2 L1139.8 828.6 L1140.4 828.6 L1140.4 912.1 L1145.6 912.1 L1146.2 912.1 L1146.2 832.5 L1144.3 832.5 L1144.3 659.6 L1145.1 659.6 L1145.1 750.9 L1148.6 750.9 L1148.6 746.1 L1149.5 746.1 L1149.5 826.6 L1151.5 826.6 L1151.5 793.6 L1153.4 793.6 L1153.4 781.0 L1154.0 781.0 L1154.0 807.2 L1157.3 807.2 L1157.3 816.9 L1158.3 816.9 L1158.3 787.8 L1160.2 787.8 L1160.2 793.6 L1163.1 793.6 L1163.1 819.9 L1164.1 819.9 L1164.1 797.5 L1167.0 797.5 L1167.0 811.1 L1168.0 811.1 L1168.0 782.0 L1172.2 782.0 L1172.2 825.7 L1172.8 825.7 L1172.8 762.6 L1175.7 762.6 L1175.7 809.2 L1177.7 809.2 L1177.7 752.8 L1179.6 752.8 L1179.6 809.2 L1182.5 809.2 L1182.5 706.2 L1183.1 706.2 L1183.1 809.2 L1183.5 809.2 L1183.5 795.6 L1187.4 795.6 L1187.4 801.4 L1187.8 801.4 L1187.8 897.5 L1190.3 897.5 L1190.3 842.2 L1192.8 843.2 L1193.2 843.2 L1193.2 877.1 L1196.1 877.1 L1196.1 927.6 L1197.1 927.6 L1197.1 867.4 L1200.0 867.4 L1200.0 893.7 L1201.0 893.7 L1201.0 648.0 L1202.5 648.0 L1202.5 782.0 L1204.9 782.0 L1204.9 739.3 L1206.4 739.3 L1206.4 782.0 L1210.3 782.0 L1210.3 787.8 L1211.1 787.8 L1211.1 760.6 L1212.6 760.6 L1212.6 778.1 L1216.1 778.1 L1216.1 799.5 L1216.5 799.5 L1216.5 755.8 L1220.0 754.8 L1220.4 754.8 L1220.4 822.8 L1224.3 822.8 L1224.3 801.4 L1225.3 801.4 L1225.3 851.9 L1227.2 851.9 L1227.2 807.2 L1229.7 807.2 L1229.7 793.6 L1230.5 793.6 L1230.5 820.8 L1234.0 820.8 L1234.0 805.3 L1235.0 805.3 L1235.0 836.4 L1235.9 836.4 L1235.9 809.2 L1238.9 809.2 L1238.9 795.6 L1239.8 795.6 L1239.8 816.0 L1244.7 816.9 L1243.7 816.9 L1243.7 963.6 L1247.6 963.6 L1247.6 933.5 L1249.2 933.5 L1249.2 955.8 L1249.5 955.8 L1249.5 860.6 L1253.4 860.6 L1253.4 910.2 L1255.0 910.2 L1255.0 821.8 L1258.3 821.8 L1258.3 892.7 L1258.3 504.5 L1259.3 504.5 L1259.3 636.3 L1263.1 636.3 L1263.1 632.4 L1264.1 632.4 L1264.1 686.8 L1268.0 686.8 L1268.0 681.0 L1268.6 681.0 L1268.6 709.2 L1271.9 709.2 L1271.9 713.0 L1272.5 713.0 L1272.5 671.3 L1273.8 671.3 L1273.8 704.3 L1277.1 704.3 L1277.1 706.2 L1277.1 759.6 L1280.6 759.6 L1280.6 754.8 L1282.2 754.8 L1282.2 735.4 L1283.5 735.4 L1283.5 752.8 L1286.4 752.8 L1286.4 738.3 L1286.8 738.3 L1286.8 821.8 L1289.4 821.8 L1289.4 806.3 L1291.3 806.3 L1291.3 833.4 L1292.3 833.4 L1292.3 799.5 L1294.2 799.5 L1294.2 807.2 L1297.1 807.2 L1297.1 801.4 L1297.1 838.3 L1300.0 838.3 L1300.0 830.5 L1301.0 830.5 L1301.0 1009.2 L1301.6 1009.2 L1301.6 826.6 L1301.0 826.6 L1301.0 704.3 L1305.9 555.7 L1306.3 555.7 L1306.3 814.0 L1308.8 814.0 L1308.8 803.3 L1310.7 803.3 L1310.7 816.0 L1311.7 816.0 L1311.7 795.6 L1314.6 794.6 L1315.2 794.6 L1315.2 713.0 L1316.5 713.0 L1316.5 739.3 L1319.5 739.3 L1319.5 745.1 L1319.8 745.1 L1319.8 879.1 L1322.4 879.1 L1322.4 853.8 L1324.3 853.8 L1324.3 892.7 L1324.9 892.7 L1324.9 609.1 L1326.3 739.3 L1329.2 859.7 L1330.1 859.7 L1330.1 750.9 L1333.1 750.9 L1333.1 865.5 L1334.0 865.5 L1334.0 648.9 L1336.0 824.7 L1338.5 851.9 L1339.3 851.9 L1339.3 787.8 L1342.8 788.8 L1343.7 788.8 L1343.7 775.2 L1343.7 824.7 L1346.6 824.7 L1346.6 799.5 L1348.6 799.5 L1348.6 791.7 L1348.6 814.0 L1353.4 814.0 L1353.4 804.3 L1353.1 804.3 L1353.1 732.5 L1356.4 732.5 L1356.4 741.2 L1357.3 741.2 L1357.3 761.6 L1359.3 761.6 L1359.3 744.1 L1362.2 744.1 L1362.2 772.3 L1362.6 772.3 L1362.6 693.6 L1365.1 693.6 L1365.1 714.0 L1367.6 714.0 L1367.6 720.8 L1368.0 720.8 L1368.0 636.3 L1370.9 679.0 L1371.9 679.0 L1371.9 598.5 L1371.5 598.5 L1371.5 843.2 L1375.8 843.2 L1375.8 836.4 L1376.8 836.4 L1376.8 918.9 L1377.7 918.9 L1377.7 838.3 L1381.6 800.4 L1382.6 800.4 L1382.6 859.7 L1385.5 859.7 L1385.5 847.0 L1385.9 847.0 L1385.9 874.2 L1389.4 874.2 L1389.4 864.5 L1390.3 864.5 L1390.3 827.6 L1391.3 827.6 L1391.3 864.5 L1395.2 864.5 L1395.2 872.3 L1396.2 872.3 L1396.2 820.8 L1398.1 820.8 L1398.1 871.3 L1400.1 871.3 L1400.1 754.8 L1400.0 754.8 L1401.0 754.8 L1401.0 900.5 L1404.9 900.5 L1404.9 898.5 L1405.4 898.5 L1405.4 941.2 L1407.8 941.2 L1407.8 910.2 L1410.7 910.2 L1410.7 947.1 L1411.3 947.1 L1411.3 908.2 L1414.6 908.2 L1414.6 910.2 L1415.1 910.2 L1415.1 873.3 L1417.5 873.3 L1417.5 910.2 L1419.4 910.2 L1419.4 872.3 L1419.8 872.3 L1419.8 917.9 L1424.3 931.5 L1424.9 931.5 L1424.9 776.2 L1427.2 776.2 L1428.2 776.2 L1428.2 755.8 L1429.1 755.8 L1429.1 834.4 L1433.4 834.4 L1433.4 836.4 L1434.0 836.4 L1434.0 881.0 L1435.9 881.0 L1435.9 865.5 L1437.9 865.5 L1437.9 890.7 L1438.5 890.7 L1438.5 555.7 L1438.8 555.7 L1438.8 780.0 L1441.8 780.0 L1441.8 777.1 L1442.3 777.1 L1442.3 805.3 L1445.6 805.3 L1445.6 782.0 L1447.6 782.0 L1447.6 775.2 L1448.2 775.2 L1448.2 814.0 L1450.9 814.0 L1450.9 793.6 L1452.8 794.6 L1453.4 794.6 L1453.4 839.3 L1455.4 839.3 L1455.4 809.2 L1458.3 809.2 L1458.3 840.2 L1459.2 840.2 L1459.2 811.1 L1462.1 811.1 L1462.1 838.3 L1463.1 838.3 L1463.1 793.6 L1465.6 793.6 L1465.6 797.5 L1467.0 797.5 L1467.0 770.3 L1467.6 770.3 L1467.6 830.5 L1469.9 830.5 L1469.9 819.9 L1471.5 820.8 L1471.9 820.8 L1471.9 902.4 L1473.8 902.4 L1473.8 875.2 L1476.1 875.2 L1476.1 863.6 L1476.7 863.6 L1476.7 877.1 L1481.6 877.1 L1481.6 880.1 L1481.6 982.0 L1483.1 982.0 L1483.1 880.1 L1484.7 880.1 L1484.7 935.4 L1485.6 935.4 L1485.6 124.2 L1486.8 124.2 L1486.8 784.9 L1489.7 784.9 L1489.7 739.3 L1492.3 739.3 L1492.3 783.9 L1494.8 783.9 L1494.8 736.3 L1495.2 736.3 L1495.2 812.1 L1499.0 823.7 L1500.0 837.3 L1500.6 837.3 L1500.6 791.7 L1502.9 791.7 L1502.9 832.5 L1504.5 832.5 L1504.5 773.2 L1505.8 773.2 L1505.8 805.3 L1508.8 805.3 L1508.8 781.0 L1509.7 781.0 L1509.7 805.3 L1512.6 805.3 L1512.6 813.1 L1514.2 813.1 L1514.2 836.4 L1515.6 836.4 L1515.6 779.1 L1518.5 780.0 L1518.9 780.0 L1518.9 763.5 L1521.4 763.5 L1521.4 782.0 L1523.9 782.0 L1523.9 786.8 L1524.3 786.8 L1524.3 760.6 L1528.2 759.6 L1528.6 759.6 L1528.6 850.0 L1532.1 782.0 L1533.6 783.0 L1534.0 783.0 L1534.0 873.3 L1535.9 873.3 L1535.9 859.7 L1537.9 859.7 L1537.9 834.4 L1538.3 834.4 L1538.3 888.8 L1541.8 888.8 L1541.8 861.6 L1542.7 861.6 L1542.7 917.9 L1544.7 917.9 L1544.7 865.5 L1547.2 865.5 L1547.2 859.7 L1547.6 859.7 L1547.6 958.7 L1550.5 958.7 L1550.5 960.7 L1551.5 960.7 L1551.5 935.4 L1553.4 935.4 L1553.4 960.7 L1555.4 960.7 L1555.4 964.5 L1556.9 964.5 L1556.9 927.6 L1558.3 927.6 L1558.3 961.6 L1560.2 961.6 L1560.2 933.5 L1562.2 933.5 L1562.2 960.7 L1566.1 960.7 L1566.1 969.4 L1565.1 969.4 L1565.1 937.4 L1568.0 937.4 L1568.0 964.5 L1569.9 964.5 L1569.9 958.7 L1570.9 958.7 L1570.9 919.9 L1572.8 919.9 L1572.8 945.1 L1575.8 945.1 L1575.8 947.1 L1575.8 894.6 L1579.6 894.6 L1579.6 891.7 L1580.6 891.7 L1580.6 904.3 L1581.0 904.3 L1581.0 850.9 L1583.5 850.9 L1583.5 884.9 L1585.5 900.5 L1586.1 900.5 L1586.1 809.2 L1588.4 809.2 L1588.4 816.9 L1589.9 816.9 L1589.9 863.6 L1591.3 863.6 L1591.3 815.0 L1594.2 815.0 L1594.2 851.9 L1595.2 851.9 L1595.2 783.0 L1597.1 783.0 L1597.1 842.2 L1599.1 842.2 L1599.1 786.8 L1600.0 786.8 L1600.0 828.6 L1602.0 828.6 L1602.0 813.1 L1603.9 813.1 L1603.9 850.0 L1603.9 811.1 L1607.8 811.1 L1607.8 850.9 L1608.8 850.9 L1608.8 816.0 L1611.7 816.0 L1611.7 854.8 L1613.6 854.8 L1613.6 815.0 L1615.6 815.0 L1615.6 855.8 L1617.5 855.8 L1617.5 817.9 L1619.5 817.9 L1619.5 857.7 L1621.4 857.7 L1621.4 820.8 L1622.4 820.8 L1622.4 877.1 L1623.0 877.1 L1623.0 801.4 L1625.3 800.4 L1626.3 800.4 L1626.3 848.0 L1627.6 848.0 L1627.6 775.2 L1629.2 775.2 L1629.2 816.0 L1632.1 816.0 L1632.1 790.7 L1633.1 790.7 L1633.1 818.9 L1637.9 818.9 L1637.9 821.8 L1637.9 807.2" fill="none" stroke="#2424f0" stroke-opacity="0.5" stroke-width="5.6" stroke-linejoin="round" stroke-linecap="round"/>
<path d="M215.5 834.4 L215.5 797.5 L218.5 797.5 L218.5 799.5 L218.5 813.1 L220.4 813.1 L220.4 879.1 L223.3 879.1 L223.3 871.3 L225.2 871.3 L225.2 836.4 L225.8 836.4 L225.8 916.0 L229.1 916.0 L229.1 917.9 L230.1 917.9 L230.1 947.1 L230.7 947.1 L230.7 875.2 L233.0 875.2 L233.0 929.6 L235.0 929.6 L235.0 869.4 L235.9 869.4 L235.9 949.0 L239.8 962.6 L239.8 906.3 L241.8 906.3 L241.8 929.6 L244.7 929.6 L244.7 927.6 L245.1 927.6 L245.1 848.0 L247.6 847.0 L249.5 847.0 L249.5 815.0 L249.5 873.3 L252.4 873.3 L252.4 851.9 L254.4 851.9 L254.4 839.3 L254.8 839.3 L254.8 933.5 L257.3 933.5 L257.3 937.4 L258.3 937.4 L258.3 912.1 L260.2 912.1 L261.2 912.1 L261.2 937.4 L263.1 937.4 L263.1 949.0 L264.1 949.0 L264.1 898.5 L267.0 898.5 L267.0 914.0 L268.0 914.0 L268.0 873.3 L270.9 873.3 L270.9 890.7 L272.2 890.7 L272.2 916.0 L272.8 916.0 L272.8 718.9 L274.8 718.9 L274.8 721.8 L276.7 721.8 L276.7 749.0 L277.7 749.0 L277.7 581.9 L278.1 581.9 L278.1 822.8 L282.5 836.4 L283.1 836.4 L283.1 783.9 L285.5 783.9 L285.5 793.6 L287.4 793.6 L287.4 766.4 L288.4 766.4 L288.4 834.4 L291.3 834.4 L291.3 838.3 L291.7 838.3 L291.7 828.6 L292.3 828.6 L292.3 917.9 L295.2 917.9 L295.2 900.5 L296.5 900.5 L296.5 924.7 L297.1 924.7 L297.1 875.2 L300.0 875.2 L300.0 886.9 L301.4 886.9 L301.4 846.1 L302.0 846.1 L302.0 886.9 L305.8 886.9 L305.8 898.5 L306.4 898.5 L306.4 836.4 L309.7 836.4 L309.7 842.2 L310.7 842.2 L310.7 811.1 L313.6 811.1 L313.6 838.3 L315.6 838.3 L315.6 795.6 L315.9 795.6 L315.9 914.0 L318.5 914.0 L318.5 910.2 L320.4 910.2 L320.4 920.8 L320.8 920.8 L320.8 836.4 L322.4 836.4 L322.4 859.7 L325.3 859.7 L325.8 859.7 L325.8 805.3 L329.2 805.3 L329.2 869.4 L330.1 869.4 L330.1 799.5 L334.0 799.5 L334.0 816.0 L334.4 816.0 L334.4 772.3 L336.9 772.3 L336.9 809.2 L339.4 809.2 L339.4 776.2 L339.4 910.2 L343.7 910.2 L343.7 914.0 L344.1 914.0 L344.1 861.6 L348.6 861.6 L348.6 863.6 L348.6 939.3 L351.5 939.3 L353.4 939.3 L353.4 966.5 L353.8 966.5 L353.8 883.9 L355.4 883.9 L355.4 902.4 L358.3 902.4 L358.9 902.4 L358.9 838.3 L362.2 818.9 L362.8 818.9 L362.8 736.3 L364.1 736.3 L364.1 842.2 L367.4 843.2 L368.0 843.2 L368.0 743.1 L370.9 743.1 L370.9 813.1 L372.5 813.1 L372.5 762.6 L373.8 762.6 L373.8 799.5 L377.1 799.5 L377.1 776.2 L377.7 776.2 L377.7 853.8 L380.6 853.8 L382.2 853.8 L382.2 890.7 L382.6 890.7 L382.6 848.0 L386.4 848.0 L386.4 865.5 L386.8 865.5 L386.8 931.5 L388.4 931.5 L388.4 871.3 L391.3 871.3 L391.3 944.1 L391.9 944.1 L391.9 836.4 L394.2 836.4 L394.2 906.3 L396.2 906.3 L396.2 857.7 L398.1 857.7 L398.1 906.3 L401.0 906.3 L401.0 866.5 L401.0 952.9 L403.9 966.5 L405.9 989.8 L406.3 989.8 L406.3 919.9 L409.7 908.2 L410.7 886.9 L412.7 886.9 L412.7 906.3 L414.6 906.3 L414.6 902.4 L415.2 902.4 L415.2 838.3 L418.5 838.3 L418.5 879.1 L420.0 879.1 L420.0 811.1 L421.4 811.1 L421.4 877.1 L424.3 877.1 L424.3 832.5 L425.3 832.5 L425.3 869.4 L429.2 869.4 L429.2 849.0 L429.6 849.0 L429.6 917.9 L432.1 917.9 L432.1 910.2 L434.0 910.2 L434.0 958.7 L434.6 958.7 L434.6 879.1 L436.9 879.1 L436.9 949.0 L439.3 949.0 L439.3 947.1 L439.9 947.1 L439.9 892.7 L442.8 892.7 L442.8 904.3 L443.7 904.3 L443.7 866.5 L444.7 866.5 L444.7 898.5 L447.6 898.5 L447.6 939.3 L448.6 939.3 L448.6 898.5 L452.5 898.5 L452.5 908.2 L453.1 908.2 L453.1 843.2 L455.4 843.2 L455.4 871.3 L457.9 871.3 L457.9 846.1 L458.3 846.1 L458.3 900.5 L461.2 900.5 L461.2 890.7 L462.2 890.7 L462.2 795.6 L463.2 795.6 L463.2 922.8 L465.1 922.8 L465.1 890.7 L467.6 890.7 L467.6 805.3 L468.0 805.3 L468.0 886.9 L470.9 886.9 L470.9 832.5 L471.9 832.5 L471.9 707.2 L472.9 707.2 L472.9 840.2 L474.2 840.2 L474.2 731.5 L476.2 731.5 L476.2 718.9 L476.8 718.9 L476.8 780.0 L480.6 780.0 L480.6 772.3 L481.6 772.3 L481.6 807.2 L483.6 807.2 L483.6 789.7 L486.5 789.7 L486.5 754.8 L487.0 754.8 L487.0 793.6 L491.3 793.6 L491.3 785.9 L491.3 851.9 L495.2 861.6 L495.8 861.6 L495.8 635.4 L496.8 635.4 L496.8 879.1 L499.1 879.1 L499.1 724.7 L500.1 724.7 L500.1 896.6 L500.0 724.7 L501.0 724.7 L501.0 896.6 L504.9 848.0 L505.8 848.0 L505.8 884.9 L509.7 884.9 L509.7 855.8 L510.1 855.8 L510.1 914.0 L512.6 914.0 L512.6 867.4 L514.6 867.4 L514.6 834.4 L515.1 834.4 L515.1 884.9 L517.5 884.9 L517.5 846.1 L518.5 846.1 L518.5 859.7 L519.0 859.7 L519.0 792.7 L521.4 792.7 L521.4 830.5 L523.3 830.5 L523.3 766.4 L524.3 766.4 L524.3 830.5 L527.2 830.5 L527.2 774.2 L528.7 774.2 L528.7 735.4 L529.1 735.4 L529.1 842.2 L532.0 842.2 L532.0 824.7 L533.4 824.7 L533.4 806.3 L534.0 806.3 L534.0 846.1 L536.9 846.1 L536.9 828.6 L538.3 828.6 L538.3 774.2 L538.8 774.2 L538.8 859.7 L540.8 859.7 L540.8 822.8 L543.1 822.8 L543.1 824.7 L543.7 824.7 L543.7 879.1 L547.6 879.1 L547.6 888.8 L548.2 888.8 L548.2 791.7 L552.0 791.7 L552.0 778.1 L552.8 778.1 L552.8 818.9 L555.4 818.9 L556.3 818.9 L556.3 789.7 L556.9 789.7 L556.9 838.3 L559.2 838.3 L559.2 793.6 L561.8 793.6 L561.8 795.6 L562.1 795.6 L562.1 860.6 L563.1 860.6 L563.1 793.6 L566.0 793.6 L566.0 790.7 L567.0 790.7 L567.0 779.1 L567.0 832.5 L569.9 832.5 L569.9 826.6 L570.9 826.6 L570.9 754.8 L573.4 754.8 L573.4 822.8 L574.8 822.8 L574.8 754.8 L576.1 754.8 L576.1 709.2 L576.7 709.2 L576.7 793.6 L578.7 793.6 L578.7 762.6 L580.6 762.6 L580.6 774.2 L581.2 774.2 L581.2 811.1 L583.5 811.1 L585.5 811.1 L585.5 792.7 L585.5 816.0 L588.4 816.0 L588.4 809.2 L590.3 809.2 L590.3 802.4 L590.9 802.4 L590.9 871.3 L593.2 871.3 L593.2 859.7 L594.2 859.7 L594.2 949.0 L596.1 949.0 L596.1 858.7 L600.0 858.7 L600.0 947.1 L600.6 947.1 L600.6 861.6 L603.9 861.6 L603.9 855.8 L604.9 855.8 L604.9 843.2 L605.5 843.2 L605.5 916.0 L608.8 916.0 L608.8 930.6 L609.1 930.6 L609.1 896.6 L610.7 896.6 L610.7 919.9 L613.6 919.9 L613.6 917.9 L614.2 917.9 L614.2 876.2 L618.5 876.2 L618.5 865.5 L618.9 865.5 L618.9 962.6 L620.4 962.6 L620.4 898.5 L622.4 898.5 L622.4 943.2 L622.7 943.2 L622.7 882.0 L626.2 883.0 L627.2 883.0 L627.2 798.5 L628.2 798.5 L628.2 910.2 L629.7 910.2 L629.7 798.5 L632.1 798.5 L632.1 813.1 L632.5 813.1 L632.5 898.5 L635.9 898.5 L635.9 883.0 L637.9 883.0 L637.9 861.6 L638.3 861.6 L638.3 898.5 L641.8 898.5 L642.7 898.5 L642.7 853.8 L643.3 853.8 L643.3 898.5 L646.6 898.5 L646.6 892.7 L647.6 892.7 L647.6 844.1 L650.5 844.1 L650.5 842.2 L652.1 842.2 L652.1 819.9 L652.5 819.9 L652.5 935.4 L655.4 935.4 L655.4 933.5 L656.3 933.5 L656.3 963.6 L656.9 963.6 L656.9 906.3 L659.3 906.3 L659.3 929.6 L661.2 929.6 L661.2 958.7 L661.6 958.7 L661.6 923.8 L665.1 923.8 L665.1 949.0 L666.1 949.0 L666.1 892.7 L667.0 892.7 L667.0 949.0 L669.9 949.0 L669.9 914.0 L670.9 914.0 L670.9 952.9 L673.8 952.9 L673.8 900.5 L674.8 900.5 L674.8 890.7 L675.8 890.7 L675.8 949.0 L677.7 949.0 L677.7 891.7 L680.6 891.7 L680.6 960.7 L681.6 960.7 L681.6 890.7 L683.5 890.7 L683.5 949.0 L684.5 949.0 L684.5 875.2 L686.4 875.2 L686.4 947.1 L688.0 947.1 L688.0 879.1 L689.4 879.1 L689.4 929.6 L689.9 929.6 L689.9 399.4 L691.3 399.4 L691.3 783.9 L692.3 783.9 L692.3 677.1 L694.8 677.1 L694.8 665.5 L695.2 665.5 L695.2 782.0 L698.1 782.0 L698.1 731.5 L700.0 731.5 L700.0 702.4 L701.0 702.4 L701.0 735.4 L703.9 735.4 L703.9 696.5 L704.9 696.5 L704.9 745.1 L708.8 745.1 L708.8 735.4 L709.4 735.4 L709.4 757.7 L712.7 757.7 L713.6 757.7 L713.6 730.5 L716.5 729.5 L718.5 729.5 L718.5 715.0 L719.1 715.0 L719.1 747.0 L723.3 747.0 L723.3 738.3 L723.7 738.3 L723.7 790.7 L728.2 790.7 L728.2 785.9 L728.8 785.9 L728.8 755.8 L732.7 755.8 L732.7 758.7 L733.1 758.7 L733.1 980.1 L732.1 980.1 L732.1 1017.9 L733.1 1017.9 L733.1 982.0 L737.9 972.3 L738.5 972.3 L738.5 879.1 L741.8 879.1 L741.8 875.2 L742.8 875.2 L742.8 842.2 L743.7 842.2 L743.7 962.6 L746.6 962.6 L746.6 960.7 L747.0 960.7 L747.0 503.5 L748.6 503.5 L748.6 628.6 L752.5 661.6 L752.5 791.7 L754.4 791.7 L754.4 767.4 L756.4 767.4 L756.4 813.1 L757.3 813.1 L757.3 767.4 L760.2 767.4 L760.2 793.6 L761.2 793.6 L761.2 715.9 L765.1 715.9 L765.1 719.8 L765.7 719.8 L765.7 757.7 L769.0 757.7 L769.0 727.6 L770.9 727.6 L770.9 757.7 L774.8 757.7 L774.8 750.9 L775.4 750.9 L775.4 696.5 L777.7 696.5 L777.7 714.0 L779.7 714.0 L779.7 723.7 L780.1 723.7 L780.1 772.3 L782.6 772.3 L782.6 762.6 L784.5 762.6 L784.5 741.2 L785.5 741.2 L785.5 767.4 L789.4 767.4 L789.4 762.6 L790.3 762.6 L790.3 976.2 L791.3 976.2 L791.3 960.7 L794.2 960.7 L794.2 983.0 L794.8 983.0 L794.8 951.9 L798.1 951.9 L798.1 943.2 L799.1 943.2 L799.1 880.1 L800.1 880.1 L800.1 943.2 L800.0 880.1 L800.0 949.0 L801.0 949.0 L801.0 917.9 L803.9 917.9 L804.3 917.9 L804.3 639.2 L804.9 639.2 L804.9 877.1 L807.8 877.1 L807.8 793.6 L808.7 793.6 L808.7 879.1 L810.7 879.1 L810.7 807.2 L812.6 807.2 L812.6 849.0 L813.6 849.0 L813.6 818.9 L816.5 818.9 L816.5 830.5 L817.5 830.5 L817.5 774.2 L820.4 774.2 L820.4 791.7 L822.3 791.7 L822.3 768.4 L822.9 768.4 L822.9 806.3 L825.2 806.3 L825.2 780.0 L827.6 779.1 L828.2 779.1 L828.2 822.8 L831.1 822.8 L831.1 811.1 L832.0 811.1 L832.0 840.2 L833.0 840.2 L833.0 809.2 L836.9 809.2 L836.9 841.2 L837.9 841.2 L837.9 809.2 L840.8 809.2 L840.8 820.8 L841.8 820.8 L841.8 776.2 L844.3 776.2 L844.3 782.0 L845.6 782.0 L845.6 774.2 L846.0 774.2 L846.0 939.3 L847.6 939.3 L847.6 888.8 L850.9 888.8 L850.9 903.4 L851.5 903.4 L851.5 839.3 L855.9 839.3 L855.9 837.3 L856.3 837.3 L856.3 897.5 L856.9 897.5 L856.9 803.3 L860.2 803.3 L860.2 807.2 L860.8 807.2 L860.8 311.8 L861.8 311.8 L861.8 754.8 L864.1 754.8 L864.1 790.7 L865.1 790.7 L865.1 750.9 L867.0 750.9 L867.0 768.4 L869.5 768.4 L869.5 813.1 L869.9 813.1 L869.9 772.3 L873.8 772.3 L873.8 806.3 L874.8 806.3 L874.8 782.0 L876.7 782.0 L876.7 800.4 L878.7 800.4 L878.7 765.5 L879.6 765.5 L879.6 799.5 L883.5 799.5 L883.5 786.8 L883.9 786.8 L883.9 825.7 L887.4 825.7 L887.4 822.8 L888.4 822.8 L888.4 768.4 L890.3 769.4 L890.9 769.4 L890.9 836.4 L893.2 836.4 L893.2 825.7 L894.2 825.7 L894.2 851.9 L895.2 851.9 L895.2 828.6 L898.1 828.6 L898.1 825.7 L899.0 825.7 L899.0 850.0 L902.0 850.0 L902.0 856.8 L902.9 856.8 L902.9 1003.4 L903.9 1003.4 L903.9 855.8 L905.8 855.8 L905.8 883.0 L907.8 883.0 L907.8 838.3 L908.8 838.3 L908.8 898.5 L910.7 898.5 L910.7 840.2 L912.6 840.2 L912.6 867.4 L913.6 867.4 L913.6 806.3 L916.1 806.3 L916.1 838.3 L916.5 838.3 L916.5 620.8 L917.7 620.8 L917.7 623.7 L918.3 623.7 L918.3 770.3 L922.0 771.3 L922.7 771.3 L922.7 808.2 L926.2 808.2 L926.2 783.9 L927.2 783.9 L927.2 824.7 L929.2 824.7 L929.2 783.0 L931.1 783.0 L931.1 812.1 L932.1 812.1 L932.1 748.0 L935.9 766.4 L936.9 766.4 L936.9 830.5 L935.9 830.5 L935.9 873.3 L938.9 873.3 L938.9 857.7 L940.2 857.7 L940.2 836.4 L941.8 836.4 L941.8 863.6 L944.7 863.6 L944.7 838.3 L945.7 838.3 L945.7 799.5 L946.0 799.5 L946.0 865.5 L948.6 865.5 L948.6 793.6 L950.5 793.6 L950.5 778.1 L951.5 778.1 L951.5 851.9 L955.0 851.9 L955.0 776.2 L955.8 776.2 L955.8 822.8 L960.2 832.5 L959.6 832.5 L959.6 871.3 L963.1 871.3 L963.1 789.7 L964.1 789.7 L964.1 850.0 L968.0 850.0 L968.0 788.8 L969.0 788.8 L969.0 744.1 L970.9 744.1 L970.9 846.1 L972.8 846.1 L972.8 745.1 L974.8 745.1 L974.8 789.7 L975.8 789.7 L975.8 766.4 L978.7 766.4 L978.7 754.8 L979.1 754.8 L979.1 824.7 L981.6 824.7 L981.6 816.0 L983.5 816.0 L983.5 807.2 L983.5 870.3 L986.4 869.4 L987.4 869.4 L987.4 834.4 L990.3 834.4 L990.3 865.5 L991.3 865.5 L991.3 830.5 L994.2 830.5 L994.2 839.3 L993.2 839.3 L993.2 779.1 L997.1 779.1 L997.1 789.7 L998.1 789.7 L998.1 760.6 L1002.0 760.6 L1002.0 795.6 L1003.0 795.6 L1003.0 750.9 L1005.9 750.9 L1005.9 766.4 L1007.4 766.4 L1007.4 734.4 L1007.8 734.4 L1007.8 816.0 L1012.7 816.9 L1012.7 870.3 L1015.6 870.3 L1015.6 855.8 L1016.5 855.8 L1016.5 931.5 L1020.4 931.5 L1020.4 923.8 L1021.4 923.8 L1021.4 837.3 L1024.3 837.3 L1024.3 850.0 L1025.3 850.0 L1025.3 910.2 L1026.8 910.2 L1026.8 818.9 L1028.2 818.9 L1028.2 914.0 L1030.7 914.0 L1030.7 848.0 L1031.1 848.0 L1031.1 937.4 L1033.1 937.4 L1033.1 883.0 L1036.0 883.0 L1036.0 942.2 L1036.9 942.2 L1036.9 886.9 L1039.9 886.9 L1039.9 908.2 L1040.4 908.2 L1040.4 861.6 L1041.8 861.6 L1041.8 906.3 L1045.1 906.3 L1045.1 886.9 L1045.1 927.6 L1047.6 927.6 L1047.6 890.7 L1049.6 890.7 L1049.6 929.6 L1050.5 929.6 L1050.5 865.5 L1054.4 865.5 L1054.4 855.8 L1054.8 855.8 L1054.8 902.4 L1056.7 902.4 L1056.7 853.8 L1060.2 853.8 L1060.2 851.9 L1061.2 851.9 L1061.2 894.6 L1064.1 894.6 L1064.1 848.0 L1065.1 848.0 L1065.1 896.6 L1067.0 896.6 L1067.0 846.1 L1069.0 846.1 L1069.0 888.8 L1070.9 888.8 L1070.9 848.0 L1072.9 848.0 L1072.9 830.5 L1074.2 830.5 L1074.2 894.6 L1075.4 894.6 L1075.4 828.6 L1075.8 828.6 L1075.8 894.6 L1078.7 894.6 L1078.7 921.8 L1079.3 921.8 L1079.3 883.0 L1082.6 883.0 L1082.6 890.7 L1083.6 890.7 L1083.6 863.6 L1084.5 863.6 L1084.5 888.8 L1088.4 888.8 L1088.4 899.5 L1087.4 899.5 L1087.4 674.2 L1089.0 706.2 L1091.3 721.8 L1091.9 721.8 L1091.9 753.8 L1095.2 753.8 L1095.2 745.1 L1096.2 745.1 L1096.2 714.0 L1100.1 714.0 L1100.0 714.0 L1101.0 714.0 L1101.0 739.3 L1102.9 739.3 L1102.9 723.7 L1106.8 723.7 L1107.4 723.7 L1107.4 771.3 L1110.7 771.3 L1110.7 751.9 L1111.7 751.9 L1111.7 815.0 L1115.1 815.0 L1115.1 827.6 L1115.9 827.6 L1115.9 770.3 L1118.5 770.3 L1118.5 778.1 L1120.4 778.1 L1120.4 806.3 L1121.4 806.3 L1121.4 793.6 L1124.3 793.6 L1124.3 788.8 L1125.2 788.8 L1125.2 775.2 L1126.2 775.2 L1126.2 792.7 L1129.1 792.7 L1129.1 785.9 L1130.1 785.9 L1130.1 1003.4 L1132.0 1003.4 L1132.0 985.9 L1135.0 985.9 L1135.0 1017.0 L1135.3 1017.0 L1135.3 711.1 L1135.9 711.1 L1135.9 807.2 L1139.8 828.6 L1140.4 828.6 L1140.4 912.1 L1145.6 912.1 L1146.2 912.1 L1146.2 832.5 L1144.3 832.5 L1144.3 659.6 L1145.1 659.6 L1145.1 750.9 L1148.6 750.9 L1148.6 746.1 L1149.5 746.1 L1149.5 826.6 L1151.5 826.6 L1151.5 793.6 L1153.4 793.6 L1153.4 781.0 L1154.0 781.0 L1154.0 807.2 L1157.3 807.2 L1157.3 816.9 L1158.3 816.9 L1158.3 787.8 L1160.2 787.8 L1160.2 793.6 L1163.1 793.6 L1163.1 819.9 L1164.1 819.9 L1164.1 797.5 L1167.0 797.5 L1167.0 811.1 L1168.0 811.1 L1168.0 782.0 L1172.2 782.0 L1172.2 825.7 L1172.8 825.7 L1172.8 762.6 L1175.7 762.6 L1175.7 809.2 L1177.7 809.2 L1177.7 752.8 L1179.6 752.8 L1179.6 809.2 L1182.5 809.2 L1182.5 706.2 L1183.1 706.2 L1183.1 809.2 L1183.5 809.2 L1183.5 795.6 L1187.4 795.6 L1187.4 801.4 L1187.8 801.4 L1187.8 897.5 L1190.3 897.5 L1190.3 842.2 L1192.8 843.2 L1193.2 843.2 L1193.2 877.1 L1196.1 877.1 L1196.1 927.6 L1197.1 927.6 L1197.1 867.4 L1200.0 867.4 L1200.0 893.7 L1201.0 893.7 L1201.0 648.0 L1202.5 648.0 L1202.5 782.0 L1204.9 782.0 L1204.9 739.3 L1206.4 739.3 L1206.4 782.0 L1210.3 782.0 L1210.3 787.8 L1211.1 787.8 L1211.1 760.6 L1212.6 760.6 L1212.6 778.1 L1216.1 778.1 L1216.1 799.5 L1216.5 799.5 L1216.5 755.8 L1220.0 754.8 L1220.4 754.8 L1220.4 822.8 L1224.3 822.8 L1224.3 801.4 L1225.3 801.4 L1225.3 851.9 L1227.2 851.9 L1227.2 807.2 L1229.7 807.2 L1229.7 793.6 L1230.5 793.6 L1230.5 820.8 L1234.0 820.8 L1234.0 805.3 L1235.0 805.3 L1235.0 836.4 L1235.9 836.4 L1235.9 809.2 L1238.9 809.2 L1238.9 795.6 L1239.8 795.6 L1239.8 816.0 L1244.7 816.9 L1243.7 816.9 L1243.7 963.6 L1247.6 963.6 L1247.6 933.5 L1249.2 933.5 L1249.2 955.8 L1249.5 955.8 L1249.5 860.6 L1253.4 860.6 L1253.4 910.2 L1255.0 910.2 L1255.0 821.8 L1258.3 821.8 L1258.3 892.7 L1258.3 504.5 L1259.3 504.5 L1259.3 636.3 L1263.1 636.3 L1263.1 632.4 L1264.1 632.4 L1264.1 686.8 L1268.0 686.8 L1268.0 681.0 L1268.6 681.0 L1268.6 709.2 L1271.9 709.2 L1271.9 713.0 L1272.5 713.0 L1272.5 671.3 L1273.8 671.3 L1273.8 704.3 L1277.1 704.3 L1277.1 706.2 L1277.1 759.6 L1280.6 759.6 L1280.6 754.8 L1282.2 754.8 L1282.2 735.4 L1283.5 735.4 L1283.5 752.8 L1286.4 752.8 L1286.4 738.3 L1286.8 738.3 L1286.8 821.8 L1289.4 821.8 L1289.4 806.3 L1291.3 806.3 L1291.3 833.4 L1292.3 833.4 L1292.3 799.5 L1294.2 799.5 L1294.2 807.2 L1297.1 807.2 L1297.1 801.4 L1297.1 838.3 L1300.0 838.3 L1300.0 830.5 L1301.0 830.5 L1301.0 1009.2 L1301.6 1009.2 L1301.6 826.6 L1301.0 826.6 L1301.0 704.3 L1305.9 555.7 L1306.3 555.7 L1306.3 814.0 L1308.8 814.0 L1308.8 803.3 L1310.7 803.3 L1310.7 816.0 L1311.7 816.0 L1311.7 795.6 L1314.6 794.6 L1315.2 794.6 L1315.2 713.0 L1316.5 713.0 L1316.5 739.3 L1319.5 739.3 L1319.5 745.1 L1319.8 745.1 L1319.8 879.1 L1322.4 879.1 L1322.4 853.8 L1324.3 853.8 L1324.3 892.7 L1324.9 892.7 L1324.9 609.1 L1326.3 739.3 L1329.2 859.7 L1330.1 859.7 L1330.1 750.9 L1333.1 750.9 L1333.1 865.5 L1334.0 865.5 L1334.0 648.9 L1336.0 824.7 L1338.5 851.9 L1339.3 851.9 L1339.3 787.8 L1342.8 788.8 L1343.7 788.8 L1343.7 775.2 L1343.7 824.7 L1346.6 824.7 L1346.6 799.5 L1348.6 799.5 L1348.6 791.7 L1348.6 814.0 L1353.4 814.0 L1353.4 804.3 L1353.1 804.3 L1353.1 732.5 L1356.4 732.5 L1356.4 741.2 L1357.3 741.2 L1357.3 761.6 L1359.3 761.6 L1359.3 744.1 L1362.2 744.1 L1362.2 772.3 L1362.6 772.3 L1362.6 693.6 L1365.1 693.6 L1365.1 714.0 L1367.6 714.0 L1367.6 720.8 L1368.0 720.8 L1368.0 636.3 L1370.9 679.0 L1371.9 679.0 L1371.9 598.5 L1371.5 598.5 L1371.5 843.2 L1375.8 843.2 L1375.8 836.4 L1376.8 836.4 L1376.8 918.9 L1377.7 918.9 L1377.7 838.3 L1381.6 800.4 L1382.6 800.4 L1382.6 859.7 L1385.5 859.7 L1385.5 847.0 L1385.9 847.0 L1385.9 874.2 L1389.4 874.2 L1389.4 864.5 L1390.3 864.5 L1390.3 827.6 L1391.3 827.6 L1391.3 864.5 L1395.2 864.5 L1395.2 872.3 L1396.2 872.3 L1396.2 820.8 L1398.1 820.8 L1398.1 871.3 L1400.1 871.3 L1400.1 754.8 L1400.0 754.8 L1401.0 754.8 L1401.0 900.5 L1404.9 900.5 L1404.9 898.5 L1405.4 898.5 L1405.4 941.2 L1407.8 941.2 L1407.8 910.2 L1410.7 910.2 L1410.7 947.1 L1411.3 947.1 L1411.3 908.2 L1414.6 908.2 L1414.6 910.2 L1415.1 910.2 L1415.1 873.3 L1417.5 873.3 L1417.5 910.2 L1419.4 910.2 L1419.4 872.3 L1419.8 872.3 L1419.8 917.9 L1424.3 931.5 L1424.9 931.5 L1424.9 776.2 L1427.2 776.2 L1428.2 776.2 L1428.2 755.8 L1429.1 755.8 L1429.1 834.4 L1433.4 834.4 L1433.4 836.4 L1434.0 836.4 L1434.0 881.0 L1435.9 881.0 L1435.9 865.5 L1437.9 865.5 L1437.9 890.7 L1438.5 890.7 L1438.5 555.7 L1438.8 555.7 L1438.8 780.0 L1441.8 780.0 L1441.8 777.1 L1442.3 777.1 L1442.3 805.3 L1445.6 805.3 L1445.6 782.0 L1447.6 782.0 L1447.6 775.2 L1448.2 775.2 L1448.2 814.0 L1450.9 814.0 L1450.9 793.6 L1452.8 794.6 L1453.4 794.6 L1453.4 839.3 L1455.4 839.3 L1455.4 809.2 L1458.3 809.2 L1458.3 840.2 L1459.2 840.2 L1459.2 811.1 L1462.1 811.1 L1462.1 838.3 L1463.1 838.3 L1463.1 793.6 L1465.6 793.6 L1465.6 797.5 L1467.0 797.5 L1467.0 770.3 L1467.6 770.3 L1467.6 830.5 L1469.9 830.5 L1469.9 819.9 L1471.5 820.8 L1471.9 820.8 L1471.9 902.4 L1473.8 902.4 L1473.8 875.2 L1476.1 875.2 L1476.1 863.6 L1476.7 863.6 L1476.7 877.1 L1481.6 877.1 L1481.6 880.1 L1481.6 982.0 L1483.1 982.0 L1483.1 880.1 L1484.7 880.1 L1484.7 935.4 L1485.6 935.4 L1485.6 124.2 L1486.8 124.2 L1486.8 784.9 L1489.7 784.9 L1489.7 739.3 L1492.3 739.3 L1492.3 783.9 L1494.8 783.9 L1494.8 736.3 L1495.2 736.3 L1495.2 812.1 L1499.0 823.7 L1500.0 837.3 L1500.6 837.3 L1500.6 791.7 L1502.9 791.7 L1502.9 832.5 L1504.5 832.5 L1504.5 773.2 L1505.8 773.2 L1505.8 805.3 L1508.8 805.3 L1508.8 781.0 L1509.7 781.0 L1509.7 805.3 L1512.6 805.3 L1512.6 813.1 L1514.2 813.1 L1514.2 836.4 L1515.6 836.4 L1515.6 779.1 L1518.5 780.0 L1518.9 780.0 L1518.9 763.5 L1521.4 763.5 L1521.4 782.0 L1523.9 782.0 L1523.9 786.8 L1524.3 786.8 L1524.3 760.6 L1528.2 759.6 L1528.6 759.6 L1528.6 850.0 L1532.1 782.0 L1533.6 783.0 L1534.0 783.0 L1534.0 873.3 L1535.9 873.3 L1535.9 859.7 L1537.9 859.7 L1537.9 834.4 L1538.3 834.4 L1538.3 888.8 L1541.8 888.8 L1541.8 861.6 L1542.7 861.6 L1542.7 917.9 L1544.7 917.9 L1544.7 865.5 L1547.2 865.5 L1547.2 859.7 L1547.6 859.7 L1547.6 958.7 L1550.5 958.7 L1550.5 960.7 L1551.5 960.7 L1551.5 935.4 L1553.4 935.4 L1553.4 960.7 L1555.4 960.7 L1555.4 964.5 L1556.9 964.5 L1556.9 927.6 L1558.3 927.6 L1558.3 961.6 L1560.2 961.6 L1560.2 933.5 L1562.2 933.5 L1562.2 960.7 L1566.1 960.7 L1566.1 969.4 L1565.1 969.4 L1565.1 937.4 L1568.0 937.4 L1568.0 964.5 L1569.9 964.5 L1569.9 958.7 L1570.9 958.7 L1570.9 919.9 L1572.8 919.9 L1572.8 945.1 L1575.8 945.1 L1575.8 947.1 L1575.8 894.6 L1579.6 894.6 L1579.6 891.7 L1580.6 891.7 L1580.6 904.3 L1581.0 904.3 L1581.0 850.9 L1583.5 850.9 L1583.5 884.9 L1585.5 900.5 L1586.1 900.5 L1586.1 809.2 L1588.4 809.2 L1588.4 816.9 L1589.9 816.9 L1589.9 863.6 L1591.3 863.6 L1591.3 815.0 L1594.2 815.0 L1594.2 851.9 L1595.2 851.9 L1595.2 783.0 L1597.1 783.0 L1597.1 842.2 L1599.1 842.2 L1599.1 786.8 L1600.0 786.8 L1600.0 828.6 L1602.0 828.6 L1602.0 813.1 L1603.9 813.1 L1603.9 850.0 L1603.9 811.1 L1607.8 811.1 L1607.8 850.9 L1608.8 850.9 L1608.8 816.0 L1611.7 816.0 L1611.7 854.8 L1613.6 854.8 L1613.6 815.0 L1615.6 815.0 L1615.6 855.8 L1617.5 855.8 L1617.5 817.9 L1619.5 817.9 L1619.5 857.7 L1621.4 857.7 L1621.4 820.8 L1622.4 820.8 L1622.4 877.1 L1623.0 877.1 L1623.0 801.4 L1625.3 800.4 L1626.3 800.4 L1626.3 848.0 L1627.6 848.0 L1627.6 775.2 L1629.2 775.2 L1629.2 816.0 L1632.1 816.0 L1632.1 790.7 L1633.1 790.7 L1633.1 818.9 L1637.9 818.9 L1637.9 821.8 L1637.9 807.2" fill="none" stroke="#0707b2" stroke-width="3.3" stroke-linejoin="round" stroke-linecap="round"/>
<rect x="146.1" y="80.5" width="1563.0" height="982.1" fill="none" stroke="#000" stroke-width="2"/>
<line x1="137.6" y1="916.1" x2="146.1" y2="916.1" stroke="#000" stroke-width="2"/>
<text x="128.3" y="932.0" font-size="46" text-anchor="end">0.3</text>
<line x1="137.6" y1="750.7" x2="146.1" y2="750.7" stroke="#000" stroke-width="2"/>
<text x="128.3" y="766.6" font-size="46" text-anchor="end">0.4</text>
<line x1="137.6" y1="585.2" x2="146.1" y2="585.2" stroke="#000" stroke-width="2"/>
<text x="128.3" y="601.1" font-size="46" text-anchor="end">0.5</text>
<line x1="137.6" y1="419.8" x2="146.1" y2="419.8" stroke="#000" stroke-width="2"/>
<text x="128.3" y="435.7" font-size="46" text-anchor="end">0.6</text>
<line x1="137.6" y1="254.3" x2="146.1" y2="254.3" stroke="#000" stroke-width="2"/>
<text x="128.3" y="270.2" font-size="46" text-anchor="end">0.7</text>
<line x1="137.6" y1="88.9" x2="146.1" y2="88.9" stroke="#000" stroke-width="2"/>
<text x="128.3" y="104.8" font-size="46" text-anchor="end">0.8</text>
<line x1="226.6" y1="1062.6" x2="226.6" y2="1071.6" stroke="#000" stroke-width="2"/>
<text transform="translate(221.8 1129.2) rotate(-45)" x="0" y="16.5" font-size="46" text-anchor="middle">2000</text>
<line x1="453.9" y1="1062.6" x2="453.9" y2="1071.6" stroke="#000" stroke-width="2"/>
<text transform="translate(449.1 1129.2) rotate(-45)" x="0" y="16.5" font-size="46" text-anchor="middle">2004</text>
<line x1="681.2" y1="1062.6" x2="681.2" y2="1071.6" stroke="#000" stroke-width="2"/>
<text transform="translate(676.4 1129.2) rotate(-45)" x="0" y="16.5" font-size="46" text-anchor="middle">2008</text>
<line x1="908.6" y1="1062.6" x2="908.6" y2="1071.6" stroke="#000" stroke-width="2"/>
<text transform="translate(903.8 1129.2) rotate(-45)" x="0" y="16.5" font-size="46" text-anchor="middle">2012</text>
<line x1="1135.9" y1="1062.6" x2="1135.9" y2="1071.6" stroke="#000" stroke-width="2"/>
<text transform="translate(1131.1 1129.2) rotate(-45)" x="0" y="16.5" font-size="46" text-anchor="middle">2016</text>
<line x1="1363.2" y1="1062.6" x2="1363.2" y2="1071.6" stroke="#000" stroke-width="2"/>
<text transform="translate(1358.4 1129.2) rotate(-45)" x="0" y="16.5" font-size="46" text-anchor="middle">2020</text>
<line x1="1590.5" y1="1062.6" x2="1590.5" y2="1071.6" stroke="#000" stroke-width="2"/>
<text transform="translate(1585.7 1129.2) rotate(-45)" x="0" y="16.5" font-size="46" text-anchor="middle">2024</text>
<text x="934.5" y="65.8" font-size="55.8" text-anchor="middle">total_spillover</text>
<text x="927.3" y="1226.7" font-size="46.3" text-anchor="middle">Date</text>
<text transform="translate(42.7 571.2) rotate(-90)" font-size="46.7" text-anchor="middle">Mean Spillover Index</text>
<rect x="170" y="104" width="478.4" height="80.5" rx="6" ry="6" fill="#fff" stroke="#d8d8d8" stroke-width="1.6"/>
<line x1="186" y1="138.4" x2="282.7" y2="138.4" stroke="#0505a2" stroke-width="2.7"/>
<text x="331" y="154" font-size="46.2">total_spillover</text>
</g>
<g id="chartB">
<path d="M230.6 2089.3H233.4V2102.2H230.6Z M235.2 2157.4H238.0V2164.8H235.2Z M245.0 2161.1H247.2V2212.7H245.0Z M247.2 2161.1H249.1V2212.7H247.2Z M249.9 2190.6H253.6V2231.1H249.9Z M253.6 2190.6H255.5V2212.7H253.6Z M255.5 2190.6H258.6V2210.8H255.5Z M262.8 2139.0H265.6V2159.3H262.8Z M271.2 2196.1H273.9V2220.1H271.2Z M276.7 2183.2H279.4V2197.9H276.7Z M280.4 2159.3H283.1V2175.8H280.4Z M290.0 2074.5H294.7V2111.4H290.0Z M294.7 2074.5H297.0V2083.7H294.7Z M297.0 2074.5H298.8V2083.7H297.0Z M303.4 2185.1H306.2V2201.6H303.4Z M306.2 2185.1H307.4V2201.6H306.2Z M308.0 2161.1H310.7V2172.2H308.0Z M310.7 2161.1H312.1V2172.2H310.7Z M316.8 2124.3H319.9V2129.8H316.8Z M320.9 2100.3H323.6V2126.1H320.9Z M323.6 2100.3H325.5V2126.1H323.6Z M325.8 2194.3H328.3V2197.9H325.8Z M328.3 2194.3H330.1V2197.9H328.3Z M330.5 2124.3H332.0V2146.4H330.5Z M332.0 2124.3H335.2V2146.4H332.0Z M335.2 2094.8H338.4V2146.4H335.2Z M339.3 2089.3H343.0V2104.9H339.3Z M343.4 2063.5H345.7V2098.5H343.4Z M345.7 2067.2H348.1V2098.5H345.7Z M352.6 2150.1H356.8V2197.9H352.6Z M361.8 2169.4H363.3V2186.9H361.8Z M363.3 2169.4H366.6V2186.9H363.3Z M370.3 2029.3H371.5V2107.7H370.3Z M371.5 2035.8H375.2V2129.8H371.5Z M375.2 2035.8H378.0V2102.2H375.2Z M378.0 2054.3H379.5V2102.2H378.0Z M379.5 2054.3H380.7V2089.3H379.5Z M380.7 2067.2H383.9V2089.3H380.7Z M389.1 2135.3H392.7V2151.9H389.1Z M393.1 2157.4H394.6V2214.5H393.1Z M394.6 2157.4H397.3V2214.5H394.6Z M397.9 2124.3H400.1V2190.6H397.9Z M400.1 2144.5H402.0V2190.6H400.1Z M402.0 2144.5H403.8V2190.6H402.0Z M403.8 2152.8H406.5V2190.6H403.8Z M406.5 2203.5H411.6V2234.8H406.5Z M417.6 2186.9H419.4V2190.6H417.6Z M420.0 2126.1H423.1V2164.8H420.0Z M423.1 2126.1H424.6V2164.8H423.1Z M424.6 2100.3H425.9V2162.9H424.6Z M425.9 2120.6H428.6V2162.9H425.9Z M429.6 2136.2H433.3V2155.6H429.6Z M433.7 2194.3H436.0V2201.6H433.7Z M436.0 2194.3H437.8V2201.6H436.0Z M438.4 2164.8H440.6V2231.1H438.4Z M440.6 2177.7H443.4V2229.3H440.6Z M443.4 2177.7H446.2V2188.7H443.4Z M451.7 2183.2H455.4V2192.4H451.7Z M456.0 2130.7H458.1V2157.4H456.0Z M458.1 2133.5H460.5V2157.4H458.1Z M460.9 2175.8H463.6V2185.1H460.9Z M465.5 2175.8H467.3V2206.3H465.5Z M470.1 2120.6H472.8V2172.2H470.1Z M474.7 2024.8H476.0V2127.9H474.7Z M478.4 2063.5H482.0V2070.8H478.4Z M483.0 2080.0H484.9V2096.6H483.0Z M488.1 2076.4H492.2V2083.7H488.1Z M492.2 2076.4H496.5V2139.0H492.2Z M497.4 2018.3H499.6V2164.8H497.4Z M501.4 2135.3H506.0V2170.3H501.4Z M506.0 2142.7H509.7V2170.3H506.0Z M510.0 2153.7H512.4V2197.9H510.0Z M514.8 2133.5H517.1V2170.3H514.8Z M518.5 2082.8H520.8V2118.7H518.5Z M520.8 2082.8H522.6V2118.7H520.8Z M523.5 2065.3H526.3V2118.7H523.5Z M528.1 2113.2H530.8V2129.8H528.1Z M532.7 2116.9H535.5V2133.5H532.7Z M537.3 2111.4H539.2V2146.4H537.3Z M539.2 2113.2H541.9V2146.4H539.2Z M550.5 2080.0H553.9V2107.7H550.5Z M554.4 2083.7H556.6V2126.1H554.4Z M556.6 2085.6H559.4V2126.1H556.6Z M564.0 2115.0H566.8V2120.6H564.0Z M567.7 2046.9H570.1V2111.4H567.7Z M570.1 2046.9H571.4V2111.4H570.1Z M573.2 2054.3H575.1V2083.7H573.2Z M575.1 2054.3H576.9V2065.3H575.1Z M577.5 2082.8H581.6V2100.3H577.5Z M581.6 2098.5H584.3V2104.9H581.6Z M586.7 2146.4H588.9V2157.4H586.7Z M589.8 2146.4H591.6V2231.1H589.8Z M591.6 2145.4H595.3V2229.3H591.6Z M603.9 2181.4H605.5V2203.5H603.9Z M605.5 2181.4H608.8V2201.6H605.5Z M613.2 2183.2H614.7V2244.0H613.2Z M614.7 2183.2H616.6V2225.6H614.7Z M622.1 2088.3H623.5V2194.3H622.1Z M623.5 2088.3H625.8V2102.2H623.5Z M626.1 2168.5H629.4V2183.2H626.1Z M631.6 2148.2H635.8V2183.2H631.6Z M636.4 2177.7H639.5V2183.2H636.4Z M649.3 2190.6H651.6V2212.7H649.3Z M653.7 2207.2H657.1V2231.1H653.7Z M658.9 2197.9H661.6V2231.1H658.9Z M662.6 2197.9H665.3V2234.8H662.6Z M667.2 2176.8H669.0V2231.1H667.2Z M669.0 2176.8H671.8V2231.1H669.0Z M672.7 2175.8H674.5V2231.1H672.7Z M675.5 2161.1H677.3V2229.3H675.5Z M677.3 2164.8H678.8V2229.3H677.3Z M678.8 2164.8H680.1V2212.7H678.8Z M680.6 1709.7H681.9V2074.5H680.6Z M685.6 2024.8H688.4V2072.7H685.6Z M691.1 1997.2H693.9V2028.5H691.1Z M694.8 2028.5H698.5V2037.7H694.8Z M699.1 2028.5H703.1V2049.6H699.1Z M708.3 2031.2H712.3V2039.5H708.3Z M712.7 2076.4H716.9V2080.9H712.7Z M731.6 2129.8H734.8V2242.2H731.6Z M734.8 1808.4H736.3V1927.1H734.8Z M740.0 2058.8H741.8V2081.9H740.0Z M741.8 2058.8H743.7V2081.9H741.8Z M744.5 2058.8H747.3V2083.7H744.5Z M748.2 2010.0H751.9V2013.7H748.2Z M752.5 2021.1H755.6V2049.6H752.5Z M755.6 2021.1H757.4V2049.6H755.6Z M757.4 2043.2H761.1V2049.6H757.4Z M761.7 1991.6H763.9V2008.2H761.7Z M766.2 2054.3H768.5V2063.5H766.2Z M771.3 2054.3H775.0V2058.8H771.3Z M776.8 2242.2H779.5V2256.9H776.8Z M789.7 2083.7H792.4V2162.9H789.7Z M793.3 2096.6H795.2V2164.8H793.3Z M795.2 2096.6H797.0V2136.2H795.2Z M797.9 2107.7H800.7V2118.7H797.9Z M801.6 2065.3H804.4V2081.9H801.6Z M804.4 2065.3H806.2V2081.9H804.4Z M806.8 2070.8H808.9V2095.7H806.8Z M808.9 2070.8H811.8V2095.7H808.9Z M811.8 2100.3H814.5V2111.4H811.8Z M816.3 2098.5H820.0V2127.9H816.3Z M821.0 2098.5H823.7V2109.5H821.0Z M824.7 2067.2H827.1V2072.7H824.7Z M827.1 2067.2H828.3V2072.7H827.1Z M828.7 2174.0H830.2V2221.9H828.7Z M830.2 2174.0H833.3V2187.9H830.2Z M833.9 2127.0H838.4V2182.3H833.9Z M839.0 2092.9H842.1V2096.6H839.0Z M846.8 2043.2H848.6V2059.8H846.8Z M851.3 2063.5H855.0V2095.7H851.3Z M856.0 2072.7H857.8V2090.1H856.0Z M857.8 2072.7H859.7V2090.1H857.8Z M860.5 2077.2H864.2V2089.3H860.5Z M868.9 2060.7H871.3V2111.4H868.9Z M871.3 2114.1H873.4V2124.3H871.3Z M883.6 2142.7H885.4V2168.5H883.6Z M885.4 2142.7H887.3V2168.5H885.4Z M888.2 2127.9H890.1V2183.2H888.2Z M890.1 2127.9H891.9V2153.7H890.1Z M892.8 2095.7H895.2V2126.1H892.8Z M901.4 2074.5H904.8V2097.5H901.4Z M905.7 2074.5H907.6V2113.2H905.7Z M907.6 2073.6H909.4V2101.2H907.6Z M910.4 2057.9H914.9V2101.2H910.4Z M914.0 2144.5H916.8V2159.3H914.0Z M918.0 2124.3H919.6V2144.5H918.0Z M919.6 2126.1H922.3V2150.1H919.6Z M923.5 2089.3H926.0V2151.9H923.5Z M928.8 2069.0H932.1V2139.0H928.8Z M936.4 2120.6H939.8V2157.4H936.4Z M940.7 2080.0H944.4V2137.2H940.7Z M945.4 2036.7H947.2V2079.1H945.4Z M947.2 2037.7H949.0V2133.5H947.2Z M949.0 2037.7H950.9V2080.0H949.0Z M954.9 2104.9H957.3V2113.2H954.9Z M959.1 2122.4H962.8V2155.6H959.1Z M962.8 2122.4H965.6V2151.9H962.8Z M966.5 2118.7H969.3V2127.0H966.5Z M968.3 2069.9H972.0V2080.0H968.3Z M973.0 2052.4H976.7V2080.0H973.0Z M977.6 2043.2H980.4V2057.9H977.6Z M980.4 2043.2H981.8V2057.9H980.4Z M986.8 2142.7H989.6V2156.4H986.8Z M990.4 2207.2H994.1V2214.5H990.4Z M995.1 2125.1H997.8V2137.2H995.1Z M998.8 2137.2H1000.2V2194.3H998.8Z M1000.2 2107.7H1001.5V2194.3H1000.2Z M1001.5 2135.3H1003.9V2197.9H1001.5Z M1004.3 2168.5H1006.2V2220.1H1004.3Z M1006.2 2168.5H1008.9V2220.1H1006.2Z M1009.8 2172.2H1012.6V2192.4H1009.8Z M1013.1 2148.2H1014.4V2190.6H1013.1Z M1014.4 2172.2H1017.5V2190.6H1014.4Z M1017.5 2175.8H1019.9V2210.8H1017.5Z M1019.9 2175.8H1021.8V2210.8H1019.9Z M1026.7 2142.7H1028.5V2186.9H1026.7Z M1028.5 2140.8H1032.8V2179.5H1028.5Z M1032.8 2139.0H1035.6V2179.5H1032.8Z M1036.5 2135.3H1038.3V2181.4H1036.5Z M1038.3 2133.5H1040.2V2174.0H1038.3Z M1040.2 2135.3H1042.0V2174.0H1040.2Z M1043.9 2118.7H1045.1V2135.3H1043.9Z M1045.1 2118.7H1046.3V2179.5H1045.1Z M1050.0 2168.5H1053.1V2175.8H1050.0Z M1057.7 2015.6H1061.9V2045.9H1057.7Z M1061.9 2037.7H1065.1V2045.9H1061.9Z M1066.0 2008.2H1070.6V2032.2H1066.0Z M1070.6 2017.4H1072.4V2032.2H1070.6Z M1072.4 2017.4H1076.6V2032.2H1072.4Z M1076.6 2044.1H1079.8V2062.5H1076.6Z M1084.7 2061.6H1087.2V2069.0H1084.7Z M1094.5 2076.4H1097.2V2082.8H1094.5Z M1098.2 2266.1H1100.0V2282.7H1098.2Z M1100.0 2266.1H1102.8V2282.7H1100.0Z M1107.9 2120.6H1113.4V2196.1H1107.9Z M1112.4 2038.6H1115.7V2043.2H1112.4Z M1116.6 2083.7H1118.5V2115.0H1116.6Z M1124.9 2078.2H1126.7V2083.7H1124.9Z M1130.4 2087.4H1133.2V2100.3H1130.4Z M1134.1 2072.7H1138.1V2100.3H1134.1Z M1138.7 2054.3H1141.4V2098.5H1138.7Z M1141.4 2054.3H1143.3V2098.5H1141.4Z M1143.3 2045.0H1145.1V2098.5H1143.3Z M1145.1 2045.0H1147.9V2098.5H1145.1Z M1148.8 2085.6H1152.5V2091.1H1148.8Z M1152.9 2129.8H1155.3V2182.3H1152.9Z M1155.3 2130.7H1158.0V2162.9H1155.3Z M1161.7 2153.7H1164.5V2178.6H1161.7Z M1165.4 1945.5H1166.9V2072.7H1165.4Z M1166.9 2032.2H1169.1V2072.7H1166.9Z M1169.1 2032.2H1170.6V2072.7H1169.1Z M1175.0 2052.4H1176.4V2069.0H1175.0Z M1180.1 2047.8H1183.8V2089.3H1180.1Z M1183.8 2091.1H1187.5V2111.4H1183.8Z M1188.5 2096.6H1190.3V2139.0H1188.5Z M1193.4 2094.8H1196.7V2109.5H1193.4Z M1205.9 2216.4H1209.6V2245.0H1205.9Z M1209.6 2216.4H1211.2V2237.6H1209.6Z M1211.4 2147.2H1215.1V2194.3H1211.4Z M1215.1 2147.2H1216.7V2194.3H1215.1Z M1216.7 2110.4H1219.8V2177.7H1216.7Z M1220.7 1930.7H1224.3V1934.4H1220.7Z M1225.3 1976.9H1229.0V1982.4H1225.3Z M1233.3 1967.6H1234.5V1999.0H1233.3Z M1237.6 2046.9H1240.9V2051.4H1237.6Z M1242.5 2028.5H1243.7V2045.0H1242.5Z M1243.7 2031.2H1246.4V2045.0H1243.7Z M1246.8 2095.7H1249.3V2110.4H1246.8Z M1249.3 2095.7H1251.1V2110.4H1249.3Z M1252.0 2089.3H1253.8V2096.6H1252.0Z M1253.8 2091.1H1256.6V2096.6H1253.8Z M1256.6 2118.7H1259.3V2126.1H1256.6Z M1260.3 1999.0H1265.3V2103.0H1260.3Z M1265.3 2092.9H1267.7V2103.0H1265.3Z M1267.7 2092.9H1269.5V2103.0H1267.7Z M1273.8 2007.2H1275.0V2032.2H1273.8Z M1278.1 2140.8H1280.6V2164.8H1278.1Z M1280.6 2140.8H1282.4V2164.8H1280.6Z M1283.0 2043.2H1287.9V2146.4H1283.0Z M1287.9 2043.2H1290.7V2146.4H1287.9Z M1291.6 2078.2H1296.6V2139.0H1291.6Z M1300.8 2089.3H1303.6V2113.2H1300.8Z M1305.5 2093.8H1310.0V2103.0H1305.5Z M1309.7 2025.7H1312.8V2034.0H1309.7Z M1313.7 2036.7H1315.6V2053.3H1313.7Z M1315.6 2036.7H1318.4V2053.3H1315.6Z M1318.7 1988.8H1321.1V2008.2H1318.7Z M1323.9 1934.4H1327.6V1975.0H1323.9Z M1327.2 2124.3H1331.3V2130.7H1327.2Z M1333.1 2126.1H1337.7V2146.4H1333.1Z M1337.7 2134.3H1340.5V2146.4H1337.7Z M1340.8 2150.9H1344.2V2160.1H1340.8Z M1350.6 2109.5H1352.4V2157.4H1350.6Z M1352.4 2109.5H1354.3V2157.4H1352.4Z M1359.3 2194.3H1361.6V2223.7H1359.3Z M1361.6 2194.3H1364.4V2223.7H1361.6Z M1368.5 2159.3H1370.8V2194.3H1368.5Z M1370.8 2159.3H1372.6V2194.3H1370.8Z M1373.0 2158.3H1377.8V2201.6H1373.0Z M1386.5 2151.9H1388.3V2166.6H1386.5Z M1388.3 2151.9H1390.2V2166.6H1388.3Z M1394.3 2072.7H1397.5V2094.8H1394.3Z M1399.9 2083.7H1402.5V2103.0H1399.9Z M1402.5 2084.6H1404.9V2103.0H1402.5Z M1404.9 2098.5H1406.8V2127.0H1404.9Z M1406.8 2098.5H1409.5V2127.0H1406.8Z M1410.4 2100.3H1413.1V2126.1H1410.4Z M1414.1 2083.7H1416.4V2087.4H1414.1Z M1416.4 2083.7H1417.8V2087.4H1416.4Z M1418.3 2108.6H1420.5V2118.7H1418.3Z M1420.5 2109.5H1422.4V2118.7H1420.5Z M1422.4 2161.1H1424.2V2186.9H1422.4Z M1431.6 2165.7H1433.0V2262.4H1431.6Z M1433.0 2165.7H1434.6V2218.2H1433.0Z M1435.4 1448.6H1436.5V2075.4H1435.4Z M1436.5 2032.2H1439.3V2075.4H1436.5Z M1439.3 2032.2H1441.8V2074.5H1439.3Z M1441.8 2032.2H1444.1V2074.5H1441.8Z M1444.5 2081.9H1449.6V2101.2H1444.5Z M1449.6 2081.9H1451.8V2120.6H1449.6Z M1451.8 2081.9H1453.3V2120.6H1451.8Z M1453.3 2064.3H1454.6V2094.8H1453.3Z M1454.6 2071.7H1457.4V2094.8H1454.6Z M1462.5 2102.2H1463.9V2124.3H1462.5Z M1467.0 2055.1H1469.4V2070.8H1467.0Z M1472.1 2052.4H1476.2V2077.2H1472.1Z M1476.2 2073.6H1481.3V2137.2H1476.2Z M1481.3 2146.4H1483.1V2159.3H1481.3Z M1485.4 2148.2H1488.7V2174.0H1485.4Z M1489.6 2151.9H1491.5V2201.6H1489.6Z M1494.2 2218.2H1497.9V2240.3H1494.2Z M1497.9 2218.2H1499.7V2242.2H1497.9Z M1501.6 2242.2H1503.0V2245.8H1501.6Z M1503.0 2210.8H1504.4V2243.1H1503.0Z M1504.4 2216.4H1506.2V2243.1H1504.4Z M1506.2 2216.4H1508.1V2242.2H1506.2Z M1510.8 2220.1H1513.6V2245.8H1510.8Z M1513.6 2240.3H1515.4V2245.8H1513.6Z M1516.3 2203.5H1518.1V2227.4H1516.3Z M1518.1 2203.5H1521.0V2227.4H1518.1Z M1525.9 2138.0H1528.3V2170.3H1525.9Z M1528.3 2138.0H1530.7V2170.3H1528.3Z M1530.7 2098.5H1532.9V2105.8H1530.7Z M1534.4 2105.8H1535.7V2150.1H1534.4Z M1535.7 2104.0H1538.4V2139.0H1535.7Z M1539.4 2073.6H1541.2V2129.8H1539.4Z M1541.2 2077.2H1543.1V2129.8H1541.2Z M1543.9 2102.2H1545.8V2116.9H1543.9Z M1545.8 2102.2H1547.6V2116.9H1545.8Z M1547.6 2100.3H1551.3V2137.2H1547.6Z M1552.3 2104.9H1555.0V2138.0H1552.3Z M1555.0 2104.9H1556.8V2141.7H1555.0Z M1556.8 2104.0H1558.7V2141.7H1556.8Z M1558.7 2106.7H1560.5V2142.7H1558.7Z M1560.5 2106.7H1562.4V2142.7H1560.5Z M1562.4 2109.5H1564.2V2144.5H1562.4Z M1565.8 2091.1H1568.9V2135.3H1565.8Z M1568.9 2090.1H1570.1V2135.3H1568.9Z M1570.1 2066.2H1571.6V2104.9H1570.1Z M1571.6 2080.9H1574.4V2104.9H1571.6Z" fill="#3434f4" fill-opacity="0.80" stroke="none"/>
<path d="M230.6 2122.4 L230.6 2087.4 L233.4 2087.4 L233.4 2089.3 L233.4 2102.2 L235.2 2102.2 L235.2 2164.8 L238.0 2164.8 L238.0 2157.4 L239.8 2157.4 L239.8 2124.3 L240.3 2124.3 L240.3 2199.8 L243.5 2199.8 L243.5 2201.6 L244.4 2201.6 L244.4 2229.3 L245.0 2229.3 L245.0 2161.1 L247.2 2161.1 L247.2 2212.7 L249.1 2212.7 L249.1 2155.6 L249.9 2155.6 L249.9 2231.1 L253.6 2244.0 L253.6 2190.6 L255.5 2190.6 L255.5 2212.7 L258.3 2212.7 L258.3 2210.8 L258.6 2210.8 L258.6 2135.3 L261.0 2134.3 L262.8 2134.3 L262.8 2104.0 L262.8 2159.3 L265.6 2159.3 L265.6 2139.0 L267.5 2139.0 L267.5 2127.0 L267.9 2127.0 L267.9 2216.4 L270.2 2216.4 L270.2 2220.1 L271.2 2220.1 L271.2 2196.1 L273.0 2196.1 L273.9 2196.1 L273.9 2220.1 L275.7 2220.1 L275.7 2231.1 L276.7 2231.1 L276.7 2183.2 L279.4 2183.2 L279.4 2197.9 L280.4 2197.9 L280.4 2159.3 L283.1 2159.3 L283.1 2175.8 L284.4 2175.8 L284.4 2199.8 L284.9 2199.8 L284.9 2012.8 L286.8 2012.8 L286.8 2015.6 L288.6 2015.6 L288.6 2041.4 L289.6 2041.4 L289.6 1882.8 L290.0 1882.8 L290.0 2111.4 L294.1 2124.3 L294.7 2124.3 L294.7 2074.5 L297.0 2074.5 L297.0 2083.7 L298.8 2083.7 L298.8 2057.9 L299.7 2057.9 L299.7 2122.4 L302.5 2122.4 L302.5 2126.1 L302.9 2126.1 L302.9 2116.9 L303.4 2116.9 L303.4 2201.6 L306.2 2201.6 L306.2 2185.1 L307.4 2185.1 L307.4 2208.1 L308.0 2208.1 L308.0 2161.1 L310.7 2161.1 L310.7 2172.2 L312.1 2172.2 L312.1 2133.5 L312.6 2133.5 L312.6 2172.2 L316.2 2172.2 L316.2 2183.2 L316.8 2183.2 L316.8 2124.3 L319.9 2124.3 L319.9 2129.8 L320.9 2129.8 L320.9 2100.3 L323.6 2100.3 L323.6 2126.1 L325.5 2126.1 L325.5 2085.6 L325.8 2085.6 L325.8 2197.9 L328.3 2197.9 L328.3 2194.3 L330.1 2194.3 L330.1 2204.4 L330.5 2204.4 L330.5 2124.3 L332.0 2124.3 L332.0 2146.4 L334.7 2146.4 L335.2 2146.4 L335.2 2094.8 L338.4 2094.8 L338.4 2155.6 L339.3 2155.6 L339.3 2089.3 L343.0 2089.3 L343.0 2104.9 L343.4 2104.9 L343.4 2063.5 L345.7 2063.5 L345.7 2098.5 L348.1 2098.5 L348.1 2067.2 L348.1 2194.3 L352.2 2194.3 L352.2 2197.9 L352.6 2197.9 L352.6 2148.2 L356.8 2148.2 L356.8 2150.1 L356.8 2221.9 L359.6 2221.9 L361.4 2221.9 L361.4 2247.7 L361.8 2247.7 L361.8 2169.4 L363.3 2169.4 L363.3 2186.9 L366.0 2186.9 L366.6 2186.9 L366.6 2126.1 L369.7 2107.7 L370.3 2107.7 L370.3 2029.3 L371.5 2029.3 L371.5 2129.8 L374.7 2130.7 L375.2 2130.7 L375.2 2035.8 L378.0 2035.8 L378.0 2102.2 L379.5 2102.2 L379.5 2054.3 L380.7 2054.3 L380.7 2089.3 L383.9 2089.3 L383.9 2067.2 L384.4 2067.2 L384.4 2140.8 L387.2 2140.8 L388.7 2140.8 L388.7 2175.8 L389.1 2175.8 L389.1 2135.3 L392.7 2135.3 L392.7 2151.9 L393.1 2151.9 L393.1 2214.5 L394.6 2214.5 L394.6 2157.4 L397.3 2157.4 L397.3 2226.5 L397.9 2226.5 L397.9 2124.3 L400.1 2124.3 L400.1 2190.6 L402.0 2190.6 L402.0 2144.5 L403.8 2144.5 L403.8 2190.6 L406.5 2190.6 L406.5 2152.8 L406.5 2234.8 L409.3 2247.7 L411.2 2269.8 L411.6 2269.8 L411.6 2203.5 L414.8 2192.4 L415.7 2172.2 L417.6 2172.2 L417.6 2190.6 L419.4 2190.6 L419.4 2186.9 L420.0 2186.9 L420.0 2126.1 L423.1 2126.1 L423.1 2164.8 L424.6 2164.8 L424.6 2100.3 L425.9 2100.3 L425.9 2162.9 L428.6 2162.9 L428.6 2120.6 L429.6 2120.6 L429.6 2155.6 L433.3 2155.6 L433.3 2136.2 L433.7 2136.2 L433.7 2201.6 L436.0 2201.6 L436.0 2194.3 L437.8 2194.3 L437.8 2240.3 L438.4 2240.3 L438.4 2164.8 L440.6 2164.8 L440.6 2231.1 L442.9 2231.1 L442.9 2229.3 L443.4 2229.3 L443.4 2177.7 L446.2 2177.7 L446.2 2188.7 L447.0 2188.7 L447.0 2152.8 L448.0 2152.8 L448.0 2183.2 L450.7 2183.2 L450.7 2221.9 L451.7 2221.9 L451.7 2183.2 L455.4 2183.2 L455.4 2192.4 L456.0 2192.4 L456.0 2130.7 L458.1 2130.7 L458.1 2157.4 L460.5 2157.4 L460.5 2133.5 L460.9 2133.5 L460.9 2185.1 L463.6 2185.1 L463.6 2175.8 L464.6 2175.8 L464.6 2085.6 L465.5 2085.6 L465.5 2206.3 L467.3 2206.3 L467.3 2175.8 L469.7 2175.8 L469.7 2094.8 L470.1 2094.8 L470.1 2172.2 L472.8 2172.2 L472.8 2120.6 L473.8 2120.6 L473.8 2001.7 L474.7 2001.7 L474.7 2127.9 L476.0 2127.9 L476.0 2024.8 L477.9 2024.8 L477.9 2012.8 L478.4 2012.8 L478.4 2070.8 L482.0 2070.8 L482.0 2063.5 L483.0 2063.5 L483.0 2096.6 L484.9 2096.6 L484.9 2080.0 L487.6 2080.0 L487.6 2046.9 L488.1 2046.9 L488.1 2083.7 L492.2 2083.7 L492.2 2076.4 L492.2 2139.0 L495.9 2148.2 L496.5 2148.2 L496.5 1933.6 L497.4 1933.6 L497.4 2164.8 L499.6 2164.8 L499.6 2018.3 L500.5 2018.3 L500.5 2181.4 L500.5 2018.3 L501.4 2018.3 L501.4 2181.4 L505.1 2135.3 L506.0 2135.3 L506.0 2170.3 L509.7 2170.3 L509.7 2142.7 L510.0 2142.7 L510.0 2197.9 L512.4 2197.9 L512.4 2153.7 L514.3 2153.7 L514.3 2122.4 L514.8 2122.4 L514.8 2170.3 L517.1 2170.3 L517.1 2133.5 L518.0 2133.5 L518.0 2146.4 L518.5 2146.4 L518.5 2082.8 L520.8 2082.8 L520.8 2118.7 L522.6 2118.7 L522.6 2057.9 L523.5 2057.9 L523.5 2118.7 L526.3 2118.7 L526.3 2065.3 L527.7 2065.3 L527.7 2028.5 L528.1 2028.5 L528.1 2129.8 L530.8 2129.8 L530.8 2113.2 L532.1 2113.2 L532.1 2095.7 L532.7 2095.7 L532.7 2133.5 L535.5 2133.5 L535.5 2116.9 L536.8 2116.9 L536.8 2065.3 L537.3 2065.3 L537.3 2146.4 L539.2 2146.4 L539.2 2111.4 L541.3 2111.4 L541.3 2113.2 L541.9 2113.2 L541.9 2164.8 L545.6 2164.8 L545.6 2174.0 L546.2 2174.0 L546.2 2081.9 L549.8 2081.9 L549.8 2069.0 L550.5 2069.0 L550.5 2107.7 L553.0 2107.7 L553.9 2107.7 L553.9 2080.0 L554.4 2080.0 L554.4 2126.1 L556.6 2126.1 L556.6 2083.7 L559.1 2083.7 L559.1 2085.6 L559.4 2085.6 L559.4 2147.2 L560.3 2147.2 L560.3 2083.7 L563.1 2083.7 L563.1 2080.9 L564.0 2080.9 L564.0 2069.9 L564.0 2120.6 L566.8 2120.6 L566.8 2115.0 L567.7 2115.0 L567.7 2046.9 L570.1 2046.9 L570.1 2111.4 L571.4 2111.4 L571.4 2046.9 L572.6 2046.9 L572.6 2003.6 L573.2 2003.6 L573.2 2083.7 L575.1 2083.7 L575.1 2054.3 L576.9 2054.3 L576.9 2065.3 L577.5 2065.3 L577.5 2100.3 L579.7 2100.3 L581.6 2100.3 L581.6 2082.8 L581.6 2104.9 L584.3 2104.9 L584.3 2098.5 L586.1 2098.5 L586.1 2092.0 L586.7 2092.0 L586.7 2157.4 L588.9 2157.4 L588.9 2146.4 L589.8 2146.4 L589.8 2231.1 L591.6 2231.1 L591.6 2145.4 L595.3 2145.4 L595.3 2229.3 L595.9 2229.3 L595.9 2148.2 L599.0 2148.2 L599.0 2142.7 L600.0 2142.7 L600.0 2130.7 L600.5 2130.7 L600.5 2199.8 L603.7 2199.8 L603.7 2213.7 L603.9 2213.7 L603.9 2181.4 L605.5 2181.4 L605.5 2203.5 L608.2 2203.5 L608.2 2201.6 L608.8 2201.6 L608.8 2162.0 L612.9 2162.0 L612.9 2151.9 L613.2 2151.9 L613.2 2244.0 L614.7 2244.0 L614.7 2183.2 L616.6 2183.2 L616.6 2225.6 L616.8 2225.6 L616.8 2167.5 L620.2 2168.5 L621.1 2168.5 L621.1 2088.3 L622.1 2088.3 L622.1 2194.3 L623.5 2194.3 L623.5 2088.3 L625.8 2088.3 L625.8 2102.2 L626.1 2102.2 L626.1 2183.2 L629.4 2183.2 L629.4 2168.5 L631.3 2168.5 L631.3 2148.2 L631.6 2148.2 L631.6 2183.2 L635.0 2183.2 L635.8 2183.2 L635.8 2140.8 L636.4 2140.8 L636.4 2183.2 L639.5 2183.2 L639.5 2177.7 L640.5 2177.7 L640.5 2131.6 L643.2 2131.6 L643.2 2129.8 L644.7 2129.8 L644.7 2108.6 L645.1 2108.6 L645.1 2218.2 L647.9 2218.2 L647.9 2216.4 L648.7 2216.4 L648.7 2245.0 L649.3 2245.0 L649.3 2190.6 L651.6 2190.6 L651.6 2212.7 L653.4 2212.7 L653.4 2240.3 L653.7 2240.3 L653.7 2207.2 L657.1 2207.2 L657.1 2231.1 L658.0 2231.1 L658.0 2177.7 L658.9 2177.7 L658.9 2231.1 L661.6 2231.1 L661.6 2197.9 L662.6 2197.9 L662.6 2234.8 L665.3 2234.8 L665.3 2185.1 L666.3 2185.1 L666.3 2175.8 L667.2 2175.8 L667.2 2231.1 L669.0 2231.1 L669.0 2176.8 L671.8 2176.8 L671.8 2242.2 L672.7 2242.2 L672.7 2175.8 L674.5 2175.8 L674.5 2231.1 L675.5 2231.1 L675.5 2161.1 L677.3 2161.1 L677.3 2229.3 L678.8 2229.3 L678.8 2164.8 L680.1 2164.8 L680.1 2212.7 L680.6 2212.7 L680.6 1709.7 L681.9 1709.7 L681.9 2074.5 L682.9 2074.5 L682.9 1973.2 L685.2 1973.2 L685.2 1962.1 L685.6 1962.1 L685.6 2072.7 L688.4 2072.7 L688.4 2024.8 L690.2 2024.8 L690.2 1997.2 L691.1 1997.2 L691.1 2028.5 L693.9 2028.5 L693.9 1991.6 L694.8 1991.6 L694.8 2037.7 L698.5 2037.7 L698.5 2028.5 L699.1 2028.5 L699.1 2049.6 L702.2 2049.6 L703.1 2049.6 L703.1 2023.8 L705.8 2022.9 L707.7 2022.9 L707.7 2009.1 L708.3 2009.1 L708.3 2039.5 L712.3 2039.5 L712.3 2031.2 L712.7 2031.2 L712.7 2080.9 L716.9 2080.9 L716.9 2076.4 L717.5 2076.4 L717.5 2047.8 L721.2 2047.8 L721.2 2050.6 L721.6 2050.6 L721.6 2260.6 L720.6 2260.6 L720.6 2296.5 L721.6 2296.5 L721.6 2262.4 L726.1 2253.2 L726.7 2253.2 L726.7 2164.8 L729.8 2164.8 L729.8 2161.1 L730.8 2161.1 L730.8 2129.8 L731.6 2129.8 L731.6 2244.0 L734.4 2244.0 L734.4 2242.2 L734.8 2242.2 L734.8 1808.4 L736.3 1808.4 L736.3 1927.1 L740.0 1958.4 L740.0 2081.9 L741.8 2081.9 L741.8 2058.8 L743.7 2058.8 L743.7 2102.2 L744.5 2102.2 L744.5 2058.8 L747.3 2058.8 L747.3 2083.7 L748.2 2083.7 L748.2 2010.0 L751.9 2010.0 L751.9 2013.7 L752.5 2013.7 L752.5 2049.6 L755.6 2049.6 L755.6 2021.1 L757.4 2021.1 L757.4 2049.6 L761.1 2049.6 L761.1 2043.2 L761.7 2043.2 L761.7 1991.6 L763.9 1991.6 L763.9 2008.2 L765.8 2008.2 L765.8 2017.4 L766.2 2017.4 L766.2 2063.5 L768.5 2063.5 L768.5 2054.3 L770.3 2054.3 L770.3 2034.0 L771.3 2034.0 L771.3 2058.8 L775.0 2058.8 L775.0 2054.3 L775.8 2054.3 L775.8 2256.9 L776.8 2256.9 L776.8 2242.2 L779.5 2242.2 L779.5 2263.4 L780.1 2263.4 L780.1 2233.9 L783.2 2233.9 L783.2 2225.6 L784.2 2225.6 L784.2 2165.7 L785.1 2165.7 L785.1 2225.6 L785.0 2165.7 L785.0 2231.1 L786.0 2231.1 L786.0 2201.6 L788.7 2201.6 L789.1 2201.6 L789.1 1937.2 L789.7 1937.2 L789.7 2162.9 L792.4 2162.9 L792.4 2083.7 L793.3 2083.7 L793.3 2164.8 L795.2 2164.8 L795.2 2096.6 L797.0 2096.6 L797.0 2136.2 L797.9 2136.2 L797.9 2107.7 L800.7 2107.7 L800.7 2118.7 L801.6 2118.7 L801.6 2065.3 L804.4 2065.3 L804.4 2081.9 L806.2 2081.9 L806.2 2059.8 L806.8 2059.8 L806.8 2095.7 L808.9 2095.7 L808.9 2070.8 L811.2 2069.9 L811.8 2069.9 L811.8 2111.4 L814.5 2111.4 L814.5 2100.3 L815.4 2100.3 L815.4 2127.9 L816.3 2127.9 L816.3 2098.5 L820.0 2098.5 L820.0 2128.8 L821.0 2128.8 L821.0 2098.5 L823.7 2098.5 L823.7 2109.5 L824.7 2109.5 L824.7 2067.2 L827.1 2067.2 L827.1 2072.7 L828.3 2072.7 L828.3 2065.3 L828.7 2065.3 L828.7 2221.9 L830.2 2221.9 L830.2 2174.0 L833.3 2174.0 L833.3 2187.9 L833.9 2187.9 L833.9 2127.0 L838.1 2127.0 L838.1 2125.1 L838.4 2125.1 L838.4 2182.3 L839.0 2182.3 L839.0 2092.9 L842.1 2092.9 L842.1 2096.6 L842.7 2096.6 L842.7 1626.6 L843.7 1626.6 L843.7 2046.9 L845.8 2046.9 L845.8 2080.9 L846.8 2080.9 L846.8 2043.2 L848.6 2043.2 L848.6 2059.8 L851.0 2059.8 L851.0 2102.2 L851.3 2102.2 L851.3 2063.5 L855.0 2063.5 L855.0 2095.7 L856.0 2095.7 L856.0 2072.7 L857.8 2072.7 L857.8 2090.1 L859.7 2090.1 L859.7 2057.0 L860.5 2057.0 L860.5 2089.3 L864.2 2089.3 L864.2 2077.2 L864.6 2077.2 L864.6 2114.1 L867.9 2114.1 L867.9 2111.4 L868.9 2111.4 L868.9 2059.8 L870.7 2060.7 L871.3 2060.7 L871.3 2124.3 L873.4 2124.3 L873.4 2114.1 L874.4 2114.1 L874.4 2139.0 L875.3 2139.0 L875.3 2116.9 L878.1 2116.9 L878.1 2114.1 L879.0 2114.1 L879.0 2137.2 L881.8 2137.2 L881.8 2143.6 L882.7 2143.6 L882.7 2282.7 L883.6 2282.7 L883.6 2142.7 L885.4 2142.7 L885.4 2168.5 L887.3 2168.5 L887.3 2126.1 L888.2 2126.1 L888.2 2183.2 L890.1 2183.2 L890.1 2127.9 L891.9 2127.9 L891.9 2153.7 L892.8 2153.7 L892.8 2095.7 L895.2 2095.7 L895.2 2126.1 L895.6 2126.1 L895.6 1919.7 L896.7 1919.7 L896.7 1922.5 L897.3 1922.5 L897.3 2061.6 L900.8 2062.5 L901.4 2062.5 L901.4 2097.5 L904.8 2097.5 L904.8 2074.5 L905.7 2074.5 L905.7 2113.2 L907.6 2113.2 L907.6 2073.6 L909.4 2073.6 L909.4 2101.2 L910.4 2101.2 L910.4 2040.4 L914.0 2057.9 L914.9 2057.9 L914.9 2118.7 L914.0 2118.7 L914.0 2159.3 L916.8 2159.3 L916.8 2144.5 L918.0 2144.5 L918.0 2124.3 L919.6 2124.3 L919.6 2150.1 L922.3 2150.1 L922.3 2126.1 L923.3 2126.1 L923.3 2089.3 L923.5 2089.3 L923.5 2151.9 L926.0 2151.9 L926.0 2083.7 L927.8 2083.7 L927.8 2069.0 L928.8 2069.0 L928.8 2139.0 L932.1 2139.0 L932.1 2067.2 L932.8 2067.2 L932.8 2111.4 L937.0 2120.6 L936.4 2120.6 L936.4 2157.4 L939.8 2157.4 L939.8 2080.0 L940.7 2080.0 L940.7 2137.2 L944.4 2137.2 L944.4 2079.1 L945.4 2079.1 L945.4 2036.7 L947.2 2036.7 L947.2 2133.5 L949.0 2133.5 L949.0 2037.7 L950.9 2037.7 L950.9 2080.0 L951.8 2080.0 L951.8 2057.9 L954.6 2057.9 L954.6 2046.9 L954.9 2046.9 L954.9 2113.2 L957.3 2113.2 L957.3 2104.9 L959.1 2104.9 L959.1 2096.6 L959.1 2156.4 L961.9 2155.6 L962.8 2155.6 L962.8 2122.4 L965.6 2122.4 L965.6 2151.9 L966.5 2151.9 L966.5 2118.7 L969.3 2118.7 L969.3 2127.0 L968.3 2127.0 L968.3 2069.9 L972.0 2069.9 L972.0 2080.0 L973.0 2080.0 L973.0 2052.4 L976.7 2052.4 L976.7 2085.6 L977.6 2085.6 L977.6 2043.2 L980.4 2043.2 L980.4 2057.9 L981.8 2057.9 L981.8 2027.5 L982.2 2027.5 L982.2 2104.9 L986.8 2105.8 L986.8 2156.4 L989.6 2156.4 L989.6 2142.7 L990.4 2142.7 L990.4 2214.5 L994.1 2214.5 L994.1 2207.2 L995.1 2207.2 L995.1 2125.1 L997.8 2125.1 L997.8 2137.2 L998.8 2137.2 L998.8 2194.3 L1000.2 2194.3 L1000.2 2107.7 L1001.5 2107.7 L1001.5 2197.9 L1003.9 2197.9 L1003.9 2135.3 L1004.3 2135.3 L1004.3 2220.1 L1006.2 2220.1 L1006.2 2168.5 L1008.9 2168.5 L1008.9 2224.7 L1009.8 2224.7 L1009.8 2172.2 L1012.6 2172.2 L1012.6 2192.4 L1013.1 2192.4 L1013.1 2148.2 L1014.4 2148.2 L1014.4 2190.6 L1017.5 2190.6 L1017.5 2172.2 L1017.5 2210.8 L1019.9 2210.8 L1019.9 2175.8 L1021.8 2175.8 L1021.8 2212.7 L1022.7 2212.7 L1022.7 2151.9 L1026.4 2151.9 L1026.4 2142.7 L1026.7 2142.7 L1026.7 2186.9 L1028.5 2186.9 L1028.5 2140.8 L1031.9 2140.8 L1031.9 2139.0 L1032.8 2139.0 L1032.8 2179.5 L1035.6 2179.5 L1035.6 2135.3 L1036.5 2135.3 L1036.5 2181.4 L1038.3 2181.4 L1038.3 2133.5 L1040.2 2133.5 L1040.2 2174.0 L1042.0 2174.0 L1042.0 2135.3 L1043.9 2135.3 L1043.9 2118.7 L1045.1 2118.7 L1045.1 2179.5 L1046.3 2179.5 L1046.3 2116.9 L1046.7 2116.9 L1046.7 2179.5 L1049.4 2179.5 L1049.4 2205.3 L1050.0 2205.3 L1050.0 2168.5 L1053.1 2168.5 L1053.1 2175.8 L1054.1 2175.8 L1054.1 2150.1 L1054.9 2150.1 L1054.9 2174.0 L1058.6 2174.0 L1058.6 2184.2 L1057.7 2184.2 L1057.7 1970.4 L1059.2 2000.8 L1061.4 2015.6 L1061.9 2015.6 L1061.9 2045.9 L1065.1 2045.9 L1065.1 2037.7 L1066.0 2037.7 L1066.0 2008.2 L1069.7 2008.2 L1069.6 2008.2 L1070.6 2008.2 L1070.6 2032.2 L1072.4 2032.2 L1072.4 2017.4 L1076.1 2017.4 L1076.6 2017.4 L1076.6 2062.5 L1079.8 2062.5 L1079.8 2044.1 L1080.7 2044.1 L1080.7 2104.0 L1083.9 2104.0 L1083.9 2115.9 L1084.7 2115.9 L1084.7 2061.6 L1087.2 2061.6 L1087.2 2069.0 L1089.0 2069.0 L1089.0 2095.7 L1089.9 2095.7 L1089.9 2083.7 L1092.7 2083.7 L1092.7 2079.1 L1093.5 2079.1 L1093.5 2066.2 L1094.5 2066.2 L1094.5 2082.8 L1097.2 2082.8 L1097.2 2076.4 L1098.2 2076.4 L1098.2 2282.7 L1100.0 2282.7 L1100.0 2266.1 L1102.8 2266.1 L1102.8 2295.6 L1103.1 2295.6 L1103.1 2005.4 L1103.7 2005.4 L1103.7 2096.6 L1107.4 2116.9 L1107.9 2116.9 L1107.9 2196.1 L1112.9 2196.1 L1113.4 2196.1 L1113.4 2120.6 L1111.6 2120.6 L1111.6 1956.5 L1112.4 1956.5 L1112.4 2043.2 L1115.7 2043.2 L1115.7 2038.6 L1116.6 2038.6 L1116.6 2115.0 L1118.5 2115.0 L1118.5 2083.7 L1120.3 2083.7 L1120.3 2071.7 L1120.8 2071.7 L1120.8 2096.6 L1124.0 2096.6 L1124.0 2105.8 L1124.9 2105.8 L1124.9 2078.2 L1126.7 2078.2 L1126.7 2083.7 L1129.5 2083.7 L1129.5 2108.6 L1130.4 2108.6 L1130.4 2087.4 L1133.2 2087.4 L1133.2 2100.3 L1134.1 2100.3 L1134.1 2072.7 L1138.1 2072.7 L1138.1 2114.1 L1138.7 2114.1 L1138.7 2054.3 L1141.4 2054.3 L1141.4 2098.5 L1143.3 2098.5 L1143.3 2045.0 L1145.1 2045.0 L1145.1 2098.5 L1147.9 2098.5 L1147.9 2000.8 L1148.5 2000.8 L1148.5 2098.5 L1148.8 2098.5 L1148.8 2085.6 L1152.5 2085.6 L1152.5 2091.1 L1152.9 2091.1 L1152.9 2182.3 L1155.3 2182.3 L1155.3 2129.8 L1157.7 2130.7 L1158.0 2130.7 L1158.0 2162.9 L1160.8 2162.9 L1160.8 2210.8 L1161.7 2210.8 L1161.7 2153.7 L1164.5 2153.7 L1164.5 2178.6 L1165.4 2178.6 L1165.4 1945.5 L1166.9 1945.5 L1166.9 2072.7 L1169.1 2072.7 L1169.1 2032.2 L1170.6 2032.2 L1170.6 2072.7 L1174.3 2072.7 L1174.3 2078.2 L1175.0 2078.2 L1175.0 2052.4 L1176.4 2052.4 L1176.4 2069.0 L1179.8 2069.0 L1179.8 2089.3 L1180.1 2089.3 L1180.1 2047.8 L1183.5 2046.9 L1183.8 2046.9 L1183.8 2111.4 L1187.5 2111.4 L1187.5 2091.1 L1188.5 2091.1 L1188.5 2139.0 L1190.3 2139.0 L1190.3 2096.6 L1192.7 2096.6 L1192.7 2083.7 L1193.4 2083.7 L1193.4 2109.5 L1196.7 2109.5 L1196.7 2094.8 L1197.7 2094.8 L1197.7 2124.3 L1198.5 2124.3 L1198.5 2098.5 L1201.4 2098.5 L1201.4 2085.6 L1202.2 2085.6 L1202.2 2104.9 L1206.9 2105.8 L1205.9 2105.8 L1205.9 2245.0 L1209.6 2245.0 L1209.6 2216.4 L1211.2 2216.4 L1211.2 2237.6 L1211.4 2237.6 L1211.4 2147.2 L1215.1 2147.2 L1215.1 2194.3 L1216.7 2194.3 L1216.7 2110.4 L1219.8 2110.4 L1219.8 2177.7 L1219.8 1809.4 L1220.7 1809.4 L1220.7 1934.4 L1224.3 1934.4 L1224.3 1930.7 L1225.3 1930.7 L1225.3 1982.4 L1229.0 1982.4 L1229.0 1976.9 L1229.6 1976.9 L1229.6 2003.6 L1232.7 2003.6 L1232.7 2007.2 L1233.3 2007.2 L1233.3 1967.6 L1234.5 1967.6 L1234.5 1999.0 L1237.6 1999.0 L1237.6 2000.8 L1237.6 2051.4 L1240.9 2051.4 L1240.9 2046.9 L1242.5 2046.9 L1242.5 2028.5 L1243.7 2028.5 L1243.7 2045.0 L1246.4 2045.0 L1246.4 2031.2 L1246.8 2031.2 L1246.8 2110.4 L1249.3 2110.4 L1249.3 2095.7 L1251.1 2095.7 L1251.1 2121.4 L1252.0 2121.4 L1252.0 2089.3 L1253.8 2089.3 L1253.8 2096.6 L1256.6 2096.6 L1256.6 2091.1 L1256.6 2126.1 L1259.3 2126.1 L1259.3 2118.7 L1260.3 2118.7 L1260.3 2288.2 L1260.9 2288.2 L1260.9 2115.0 L1260.3 2115.0 L1260.3 1999.0 L1264.9 1858.0 L1265.3 1858.0 L1265.3 2103.0 L1267.7 2103.0 L1267.7 2092.9 L1269.5 2092.9 L1269.5 2104.9 L1270.4 2104.9 L1270.4 2085.6 L1273.2 2084.6 L1273.8 2084.6 L1273.8 2007.2 L1275.0 2007.2 L1275.0 2032.2 L1277.8 2032.2 L1277.8 2037.7 L1278.1 2037.7 L1278.1 2164.8 L1280.6 2164.8 L1280.6 2140.8 L1282.4 2140.8 L1282.4 2177.7 L1283.0 2177.7 L1283.0 1908.6 L1284.3 2032.2 L1287.0 2146.4 L1287.9 2146.4 L1287.9 2043.2 L1290.7 2043.2 L1290.7 2151.9 L1291.6 2151.9 L1291.6 1946.4 L1293.5 2113.2 L1295.9 2139.0 L1296.6 2139.0 L1296.6 2078.2 L1299.9 2079.1 L1300.8 2079.1 L1300.8 2066.2 L1300.8 2113.2 L1303.6 2113.2 L1303.6 2089.3 L1305.5 2089.3 L1305.5 2081.9 L1305.5 2103.0 L1310.0 2103.0 L1310.0 2093.8 L1309.7 2093.8 L1309.7 2025.7 L1312.8 2025.7 L1312.8 2034.0 L1313.7 2034.0 L1313.7 2053.3 L1315.6 2053.3 L1315.6 2036.7 L1318.4 2036.7 L1318.4 2063.5 L1318.7 2063.5 L1318.7 1988.8 L1321.1 1988.8 L1321.1 2008.2 L1323.5 2008.2 L1323.5 2014.6 L1323.9 2014.6 L1323.9 1934.4 L1326.6 1975.0 L1327.6 1975.0 L1327.6 1898.6 L1327.2 1898.6 L1327.2 2130.7 L1331.3 2130.7 L1331.3 2124.3 L1332.2 2124.3 L1332.2 2202.6 L1333.1 2202.6 L1333.1 2126.1 L1336.8 2090.1 L1337.7 2090.1 L1337.7 2146.4 L1340.5 2146.4 L1340.5 2134.3 L1340.8 2134.3 L1340.8 2160.1 L1344.2 2160.1 L1344.2 2150.9 L1345.0 2150.9 L1345.0 2115.9 L1346.0 2115.9 L1346.0 2150.9 L1349.7 2150.9 L1349.7 2158.3 L1350.6 2158.3 L1350.6 2109.5 L1352.4 2109.5 L1352.4 2157.4 L1354.3 2157.4 L1354.3 2046.9 L1354.2 2046.9 L1355.2 2046.9 L1355.2 2185.1 L1358.9 2185.1 L1358.9 2183.2 L1359.3 2183.2 L1359.3 2223.7 L1361.6 2223.7 L1361.6 2194.3 L1364.4 2194.3 L1364.4 2229.3 L1364.9 2229.3 L1364.9 2192.4 L1368.1 2192.4 L1368.1 2194.3 L1368.5 2194.3 L1368.5 2159.3 L1370.8 2159.3 L1370.8 2194.3 L1372.6 2194.3 L1372.6 2158.3 L1373.0 2158.3 L1373.0 2201.6 L1377.3 2214.5 L1377.8 2214.5 L1377.8 2067.2 L1380.0 2067.2 L1381.0 2067.2 L1381.0 2047.8 L1381.8 2047.8 L1381.8 2122.4 L1385.9 2122.4 L1385.9 2124.3 L1386.5 2124.3 L1386.5 2166.6 L1388.3 2166.6 L1388.3 2151.9 L1390.2 2151.9 L1390.2 2175.8 L1390.7 2175.8 L1390.7 1858.0 L1391.0 1858.0 L1391.0 2070.8 L1393.9 2070.8 L1393.9 2068.0 L1394.3 2068.0 L1394.3 2094.8 L1397.5 2094.8 L1397.5 2072.7 L1399.4 2072.7 L1399.4 2066.2 L1399.9 2066.2 L1399.9 2103.0 L1402.5 2103.0 L1402.5 2083.7 L1404.3 2084.6 L1404.9 2084.6 L1404.9 2127.0 L1406.8 2127.0 L1406.8 2098.5 L1409.5 2098.5 L1409.5 2127.9 L1410.4 2127.9 L1410.4 2100.3 L1413.1 2100.3 L1413.1 2126.1 L1414.1 2126.1 L1414.1 2083.7 L1416.4 2083.7 L1416.4 2087.4 L1417.8 2087.4 L1417.8 2061.6 L1418.3 2061.6 L1418.3 2118.7 L1420.5 2118.7 L1420.5 2108.6 L1422.0 2109.5 L1422.4 2109.5 L1422.4 2186.9 L1424.2 2186.9 L1424.2 2161.1 L1426.4 2161.1 L1426.4 2150.1 L1427.0 2150.1 L1427.0 2162.9 L1431.6 2162.9 L1431.6 2165.7 L1431.6 2262.4 L1433.0 2262.4 L1433.0 2165.7 L1434.6 2165.7 L1434.6 2218.2 L1435.4 2218.2 L1435.4 1448.6 L1436.5 1448.6 L1436.5 2075.4 L1439.3 2075.4 L1439.3 2032.2 L1441.8 2032.2 L1441.8 2074.5 L1444.1 2074.5 L1444.1 2029.3 L1444.5 2029.3 L1444.5 2101.2 L1448.1 2112.2 L1449.1 2125.1 L1449.6 2125.1 L1449.6 2081.9 L1451.8 2081.9 L1451.8 2120.6 L1453.3 2120.6 L1453.3 2064.3 L1454.6 2064.3 L1454.6 2094.8 L1457.4 2094.8 L1457.4 2071.7 L1458.3 2071.7 L1458.3 2094.8 L1461.0 2094.8 L1461.0 2102.2 L1462.5 2102.2 L1462.5 2124.3 L1463.9 2124.3 L1463.9 2069.9 L1466.6 2070.8 L1467.0 2070.8 L1467.0 2055.1 L1469.4 2055.1 L1469.4 2072.7 L1471.7 2072.7 L1471.7 2077.2 L1472.1 2077.2 L1472.1 2052.4 L1475.8 2051.4 L1476.2 2051.4 L1476.2 2137.2 L1479.5 2072.7 L1480.9 2073.6 L1481.3 2073.6 L1481.3 2159.3 L1483.1 2159.3 L1483.1 2146.4 L1485.0 2146.4 L1485.0 2122.4 L1485.4 2122.4 L1485.4 2174.0 L1488.7 2174.0 L1488.7 2148.2 L1489.6 2148.2 L1489.6 2201.6 L1491.5 2201.6 L1491.5 2151.9 L1493.8 2151.9 L1493.8 2146.4 L1494.2 2146.4 L1494.2 2240.3 L1497.0 2240.3 L1497.0 2242.2 L1497.9 2242.2 L1497.9 2218.2 L1499.7 2218.2 L1499.7 2242.2 L1501.6 2242.2 L1501.6 2245.8 L1503.0 2245.8 L1503.0 2210.8 L1504.4 2210.8 L1504.4 2243.1 L1506.2 2243.1 L1506.2 2216.4 L1508.1 2216.4 L1508.1 2242.2 L1511.8 2242.2 L1511.8 2250.5 L1510.8 2250.5 L1510.8 2220.1 L1513.6 2220.1 L1513.6 2245.8 L1515.4 2245.8 L1515.4 2240.3 L1516.3 2240.3 L1516.3 2203.5 L1518.1 2203.5 L1518.1 2227.4 L1521.0 2227.4 L1521.0 2229.3 L1521.0 2179.5 L1524.6 2179.5 L1524.6 2176.8 L1525.5 2176.8 L1525.5 2188.7 L1525.9 2188.7 L1525.9 2138.0 L1528.3 2138.0 L1528.3 2170.3 L1530.2 2185.1 L1530.7 2185.1 L1530.7 2098.5 L1532.9 2098.5 L1532.9 2105.8 L1534.4 2105.8 L1534.4 2150.1 L1535.7 2150.1 L1535.7 2104.0 L1538.4 2104.0 L1538.4 2139.0 L1539.4 2139.0 L1539.4 2073.6 L1541.2 2073.6 L1541.2 2129.8 L1543.1 2129.8 L1543.1 2077.2 L1543.9 2077.2 L1543.9 2116.9 L1545.8 2116.9 L1545.8 2102.2 L1547.6 2102.2 L1547.6 2137.2 L1547.6 2100.3 L1551.3 2100.3 L1551.3 2138.0 L1552.3 2138.0 L1552.3 2104.9 L1555.0 2104.9 L1555.0 2141.7 L1556.8 2141.7 L1556.8 2104.0 L1558.7 2104.0 L1558.7 2142.7 L1560.5 2142.7 L1560.5 2106.7 L1562.4 2106.7 L1562.4 2144.5 L1564.2 2144.5 L1564.2 2109.5 L1565.2 2109.5 L1565.2 2162.9 L1565.8 2162.9 L1565.8 2091.1 L1567.9 2090.1 L1568.9 2090.1 L1568.9 2135.3 L1570.1 2135.3 L1570.1 2066.2 L1571.6 2066.2 L1571.6 2104.9 L1574.4 2104.9 L1574.4 2080.9 L1575.3 2080.9 L1575.3 2107.7 L1579.9 2107.7 L1579.9 2110.4 L1579.9 2096.6" fill="none" stroke="#3030f8" stroke-opacity="0.45" stroke-width="5.0" stroke-linejoin="round" stroke-linecap="round"/>
<path d="M230.6 2122.4 L230.6 2087.4 L233.4 2087.4 L233.4 2089.3 L233.4 2102.2 L235.2 2102.2 L235.2 2164.8 L238.0 2164.8 L238.0 2157.4 L239.8 2157.4 L239.8 2124.3 L240.3 2124.3 L240.3 2199.8 L243.5 2199.8 L243.5 2201.6 L244.4 2201.6 L244.4 2229.3 L245.0 2229.3 L245.0 2161.1 L247.2 2161.1 L247.2 2212.7 L249.1 2212.7 L249.1 2155.6 L249.9 2155.6 L249.9 2231.1 L253.6 2244.0 L253.6 2190.6 L255.5 2190.6 L255.5 2212.7 L258.3 2212.7 L258.3 2210.8 L258.6 2210.8 L258.6 2135.3 L261.0 2134.3 L262.8 2134.3 L262.8 2104.0 L262.8 2159.3 L265.6 2159.3 L265.6 2139.0 L267.5 2139.0 L267.5 2127.0 L267.9 2127.0 L267.9 2216.4 L270.2 2216.4 L270.2 2220.1 L271.2 2220.1 L271.2 2196.1 L273.0 2196.1 L273.9 2196.1 L273.9 2220.1 L275.7 2220.1 L275.7 2231.1 L276.7 2231.1 L276.7 2183.2 L279.4 2183.2 L279.4 2197.9 L280.4 2197.9 L280.4 2159.3 L283.1 2159.3 L283.1 2175.8 L284.4 2175.8 L284.4 2199.8 L284.9 2199.8 L284.9 2012.8 L286.8 2012.8 L286.8 2015.6 L288.6 2015.6 L288.6 2041.4 L289.6 2041.4 L289.6 1882.8 L290.0 1882.8 L290.0 2111.4 L294.1 2124.3 L294.7 2124.3 L294.7 2074.5 L297.0 2074.5 L297.0 2083.7 L298.8 2083.7 L298.8 2057.9 L299.7 2057.9 L299.7 2122.4 L302.5 2122.4 L302.5 2126.1 L302.9 2126.1 L302.9 2116.9 L303.4 2116.9 L303.4 2201.6 L306.2 2201.6 L306.2 2185.1 L307.4 2185.1 L307.4 2208.1 L308.0 2208.1 L308.0 2161.1 L310.7 2161.1 L310.7 2172.2 L312.1 2172.2 L312.1 2133.5 L312.6 2133.5 L312.6 2172.2 L316.2 2172.2 L316.2 2183.2 L316.8 2183.2 L316.8 2124.3 L319.9 2124.3 L319.9 2129.8 L320.9 2129.8 L320.9 2100.3 L323.6 2100.3 L323.6 2126.1 L325.5 2126.1 L325.5 2085.6 L325.8 2085.6 L325.8 2197.9 L328.3 2197.9 L328.3 2194.3 L330.1 2194.3 L330.1 2204.4 L330.5 2204.4 L330.5 2124.3 L332.0 2124.3 L332.0 2146.4 L334.7 2146.4 L335.2 2146.4 L335.2 2094.8 L338.4 2094.8 L338.4 2155.6 L339.3 2155.6 L339.3 2089.3 L343.0 2089.3 L343.0 2104.9 L343.4 2104.9 L343.4 2063.5 L345.7 2063.5 L345.7 2098.5 L348.1 2098.5 L348.1 2067.2 L348.1 2194.3 L352.2 2194.3 L352.2 2197.9 L352.6 2197.9 L352.6 2148.2 L356.8 2148.2 L356.8 2150.1 L356.8 2221.9 L359.6 2221.9 L361.4 2221.9 L361.4 2247.7 L361.8 2247.7 L361.8 2169.4 L363.3 2169.4 L363.3 2186.9 L366.0 2186.9 L366.6 2186.9 L366.6 2126.1 L369.7 2107.7 L370.3 2107.7 L370.3 2029.3 L371.5 2029.3 L371.5 2129.8 L374.7 2130.7 L375.2 2130.7 L375.2 2035.8 L378.0 2035.8 L378.0 2102.2 L379.5 2102.2 L379.5 2054.3 L380.7 2054.3 L380.7 2089.3 L383.9 2089.3 L383.9 2067.2 L384.4 2067.2 L384.4 2140.8 L387.2 2140.8 L388.7 2140.8 L388.7 2175.8 L389.1 2175.8 L389.1 2135.3 L392.7 2135.3 L392.7 2151.9 L393.1 2151.9 L393.1 2214.5 L394.6 2214.5 L394.6 2157.4 L397.3 2157.4 L397.3 2226.5 L397.9 2226.5 L397.9 2124.3 L400.1 2124.3 L400.1 2190.6 L402.0 2190.6 L402.0 2144.5 L403.8 2144.5 L403.8 2190.6 L406.5 2190.6 L406.5 2152.8 L406.5 2234.8 L409.3 2247.7 L411.2 2269.8 L411.6 2269.8 L411.6 2203.5 L414.8 2192.4 L415.7 2172.2 L417.6 2172.2 L417.6 2190.6 L419.4 2190.6 L419.4 2186.9 L420.0 2186.9 L420.0 2126.1 L423.1 2126.1 L423.1 2164.8 L424.6 2164.8 L424.6 2100.3 L425.9 2100.3 L425.9 2162.9 L428.6 2162.9 L428.6 2120.6 L429.6 2120.6 L429.6 2155.6 L433.3 2155.6 L433.3 2136.2 L433.7 2136.2 L433.7 2201.6 L436.0 2201.6 L436.0 2194.3 L437.8 2194.3 L437.8 2240.3 L438.4 2240.3 L438.4 2164.8 L440.6 2164.8 L440.6 2231.1 L442.9 2231.1 L442.9 2229.3 L443.4 2229.3 L443.4 2177.7 L446.2 2177.7 L446.2 2188.7 L447.0 2188.7 L447.0 2152.8 L448.0 2152.8 L448.0 2183.2 L450.7 2183.2 L450.7 2221.9 L451.7 2221.9 L451.7 2183.2 L455.4 2183.2 L455.4 2192.4 L456.0 2192.4 L456.0 2130.7 L458.1 2130.7 L458.1 2157.4 L460.5 2157.4 L460.5 2133.5 L460.9 2133.5 L460.9 2185.1 L463.6 2185.1 L463.6 2175.8 L464.6 2175.8 L464.6 2085.6 L465.5 2085.6 L465.5 2206.3 L467.3 2206.3 L467.3 2175.8 L469.7 2175.8 L469.7 2094.8 L470.1 2094.8 L470.1 2172.2 L472.8 2172.2 L472.8 2120.6 L473.8 2120.6 L473.8 2001.7 L474.7 2001.7 L474.7 2127.9 L476.0 2127.9 L476.0 2024.8 L477.9 2024.8 L477.9 2012.8 L478.4 2012.8 L478.4 2070.8 L482.0 2070.8 L482.0 2063.5 L483.0 2063.5 L483.0 2096.6 L484.9 2096.6 L484.9 2080.0 L487.6 2080.0 L487.6 2046.9 L488.1 2046.9 L488.1 2083.7 L492.2 2083.7 L492.2 2076.4 L492.2 2139.0 L495.9 2148.2 L496.5 2148.2 L496.5 1933.6 L497.4 1933.6 L497.4 2164.8 L499.6 2164.8 L499.6 2018.3 L500.5 2018.3 L500.5 2181.4 L500.5 2018.3 L501.4 2018.3 L501.4 2181.4 L505.1 2135.3 L506.0 2135.3 L506.0 2170.3 L509.7 2170.3 L509.7 2142.7 L510.0 2142.7 L510.0 2197.9 L512.4 2197.9 L512.4 2153.7 L514.3 2153.7 L514.3 2122.4 L514.8 2122.4 L514.8 2170.3 L517.1 2170.3 L517.1 2133.5 L518.0 2133.5 L518.0 2146.4 L518.5 2146.4 L518.5 2082.8 L520.8 2082.8 L520.8 2118.7 L522.6 2118.7 L522.6 2057.9 L523.5 2057.9 L523.5 2118.7 L526.3 2118.7 L526.3 2065.3 L527.7 2065.3 L527.7 2028.5 L528.1 2028.5 L528.1 2129.8 L530.8 2129.8 L530.8 2113.2 L532.1 2113.2 L532.1 2095.7 L532.7 2095.7 L532.7 2133.5 L535.5 2133.5 L535.5 2116.9 L536.8 2116.9 L536.8 2065.3 L537.3 2065.3 L537.3 2146.4 L539.2 2146.4 L539.2 2111.4 L541.3 2111.4 L541.3 2113.2 L541.9 2113.2 L541.9 2164.8 L545.6 2164.8 L545.6 2174.0 L546.2 2174.0 L546.2 2081.9 L549.8 2081.9 L549.8 2069.0 L550.5 2069.0 L550.5 2107.7 L553.0 2107.7 L553.9 2107.7 L553.9 2080.0 L554.4 2080.0 L554.4 2126.1 L556.6 2126.1 L556.6 2083.7 L559.1 2083.7 L559.1 2085.6 L559.4 2085.6 L559.4 2147.2 L560.3 2147.2 L560.3 2083.7 L563.1 2083.7 L563.1 2080.9 L564.0 2080.9 L564.0 2069.9 L564.0 2120.6 L566.8 2120.6 L566.8 2115.0 L567.7 2115.0 L567.7 2046.9 L570.1 2046.9 L570.1 2111.4 L571.4 2111.4 L571.4 2046.9 L572.6 2046.9 L572.6 2003.6 L573.2 2003.6 L573.2 2083.7 L575.1 2083.7 L575.1 2054.3 L576.9 2054.3 L576.9 2065.3 L577.5 2065.3 L577.5 2100.3 L579.7 2100.3 L581.6 2100.3 L581.6 2082.8 L581.6 2104.9 L584.3 2104.9 L584.3 2098.5 L586.1 2098.5 L586.1 2092.0 L586.7 2092.0 L586.7 2157.4 L588.9 2157.4 L588.9 2146.4 L589.8 2146.4 L589.8 2231.1 L591.6 2231.1 L591.6 2145.4 L595.3 2145.4 L595.3 2229.3 L595.9 2229.3 L595.9 2148.2 L599.0 2148.2 L599.0 2142.7 L600.0 2142.7 L600.0 2130.7 L600.5 2130.7 L600.5 2199.8 L603.7 2199.8 L603.7 2213.7 L603.9 2213.7 L603.9 2181.4 L605.5 2181.4 L605.5 2203.5 L608.2 2203.5 L608.2 2201.6 L608.8 2201.6 L608.8 2162.0 L612.9 2162.0 L612.9 2151.9 L613.2 2151.9 L613.2 2244.0 L614.7 2244.0 L614.7 2183.2 L616.6 2183.2 L616.6 2225.6 L616.8 2225.6 L616.8 2167.5 L620.2 2168.5 L621.1 2168.5 L621.1 2088.3 L622.1 2088.3 L622.1 2194.3 L623.5 2194.3 L623.5 2088.3 L625.8 2088.3 L625.8 2102.2 L626.1 2102.2 L626.1 2183.2 L629.4 2183.2 L629.4 2168.5 L631.3 2168.5 L631.3 2148.2 L631.6 2148.2 L631.6 2183.2 L635.0 2183.2 L635.8 2183.2 L635.8 2140.8 L636.4 2140.8 L636.4 2183.2 L639.5 2183.2 L639.5 2177.7 L640.5 2177.7 L640.5 2131.6 L643.2 2131.6 L643.2 2129.8 L644.7 2129.8 L644.7 2108.6 L645.1 2108.6 L645.1 2218.2 L647.9 2218.2 L647.9 2216.4 L648.7 2216.4 L648.7 2245.0 L649.3 2245.0 L649.3 2190.6 L651.6 2190.6 L651.6 2212.7 L653.4 2212.7 L653.4 2240.3 L653.7 2240.3 L653.7 2207.2 L657.1 2207.2 L657.1 2231.1 L658.0 2231.1 L658.0 2177.7 L658.9 2177.7 L658.9 2231.1 L661.6 2231.1 L661.6 2197.9 L662.6 2197.9 L662.6 2234.8 L665.3 2234.8 L665.3 2185.1 L666.3 2185.1 L666.3 2175.8 L667.2 2175.8 L667.2 2231.1 L669.0 2231.1 L669.0 2176.8 L671.8 2176.8 L671.8 2242.2 L672.7 2242.2 L672.7 2175.8 L674.5 2175.8 L674.5 2231.1 L675.5 2231.1 L675.5 2161.1 L677.3 2161.1 L677.3 2229.3 L678.8 2229.3 L678.8 2164.8 L680.1 2164.8 L680.1 2212.7 L680.6 2212.7 L680.6 1709.7 L681.9 1709.7 L681.9 2074.5 L682.9 2074.5 L682.9 1973.2 L685.2 1973.2 L685.2 1962.1 L685.6 1962.1 L685.6 2072.7 L688.4 2072.7 L688.4 2024.8 L690.2 2024.8 L690.2 1997.2 L691.1 1997.2 L691.1 2028.5 L693.9 2028.5 L693.9 1991.6 L694.8 1991.6 L694.8 2037.7 L698.5 2037.7 L698.5 2028.5 L699.1 2028.5 L699.1 2049.6 L702.2 2049.6 L703.1 2049.6 L703.1 2023.8 L705.8 2022.9 L707.7 2022.9 L707.7 2009.1 L708.3 2009.1 L708.3 2039.5 L712.3 2039.5 L712.3 2031.2 L712.7 2031.2 L712.7 2080.9 L716.9 2080.9 L716.9 2076.4 L717.5 2076.4 L717.5 2047.8 L721.2 2047.8 L721.2 2050.6 L721.6 2050.6 L721.6 2260.6 L720.6 2260.6 L720.6 2296.5 L721.6 2296.5 L721.6 2262.4 L726.1 2253.2 L726.7 2253.2 L726.7 2164.8 L729.8 2164.8 L729.8 2161.1 L730.8 2161.1 L730.8 2129.8 L731.6 2129.8 L731.6 2244.0 L734.4 2244.0 L734.4 2242.2 L734.8 2242.2 L734.8 1808.4 L736.3 1808.4 L736.3 1927.1 L740.0 1958.4 L740.0 2081.9 L741.8 2081.9 L741.8 2058.8 L743.7 2058.8 L743.7 2102.2 L744.5 2102.2 L744.5 2058.8 L747.3 2058.8 L747.3 2083.7 L748.2 2083.7 L748.2 2010.0 L751.9 2010.0 L751.9 2013.7 L752.5 2013.7 L752.5 2049.6 L755.6 2049.6 L755.6 2021.1 L757.4 2021.1 L757.4 2049.6 L761.1 2049.6 L761.1 2043.2 L761.7 2043.2 L761.7 1991.6 L763.9 1991.6 L763.9 2008.2 L765.8 2008.2 L765.8 2017.4 L766.2 2017.4 L766.2 2063.5 L768.5 2063.5 L768.5 2054.3 L770.3 2054.3 L770.3 2034.0 L771.3 2034.0 L771.3 2058.8 L775.0 2058.8 L775.0 2054.3 L775.8 2054.3 L775.8 2256.9 L776.8 2256.9 L776.8 2242.2 L779.5 2242.2 L779.5 2263.4 L780.1 2263.4 L780.1 2233.9 L783.2 2233.9 L783.2 2225.6 L784.2 2225.6 L784.2 2165.7 L785.1 2165.7 L785.1 2225.6 L785.0 2165.7 L785.0 2231.1 L786.0 2231.1 L786.0 2201.6 L788.7 2201.6 L789.1 2201.6 L789.1 1937.2 L789.7 1937.2 L789.7 2162.9 L792.4 2162.9 L792.4 2083.7 L793.3 2083.7 L793.3 2164.8 L795.2 2164.8 L795.2 2096.6 L797.0 2096.6 L797.0 2136.2 L797.9 2136.2 L797.9 2107.7 L800.7 2107.7 L800.7 2118.7 L801.6 2118.7 L801.6 2065.3 L804.4 2065.3 L804.4 2081.9 L806.2 2081.9 L806.2 2059.8 L806.8 2059.8 L806.8 2095.7 L808.9 2095.7 L808.9 2070.8 L811.2 2069.9 L811.8 2069.9 L811.8 2111.4 L814.5 2111.4 L814.5 2100.3 L815.4 2100.3 L815.4 2127.9 L816.3 2127.9 L816.3 2098.5 L820.0 2098.5 L820.0 2128.8 L821.0 2128.8 L821.0 2098.5 L823.7 2098.5 L823.7 2109.5 L824.7 2109.5 L824.7 2067.2 L827.1 2067.2 L827.1 2072.7 L828.3 2072.7 L828.3 2065.3 L828.7 2065.3 L828.7 2221.9 L830.2 2221.9 L830.2 2174.0 L833.3 2174.0 L833.3 2187.9 L833.9 2187.9 L833.9 2127.0 L838.1 2127.0 L838.1 2125.1 L838.4 2125.1 L838.4 2182.3 L839.0 2182.3 L839.0 2092.9 L842.1 2092.9 L842.1 2096.6 L842.7 2096.6 L842.7 1626.6 L843.7 1626.6 L843.7 2046.9 L845.8 2046.9 L845.8 2080.9 L846.8 2080.9 L846.8 2043.2 L848.6 2043.2 L848.6 2059.8 L851.0 2059.8 L851.0 2102.2 L851.3 2102.2 L851.3 2063.5 L855.0 2063.5 L855.0 2095.7 L856.0 2095.7 L856.0 2072.7 L857.8 2072.7 L857.8 2090.1 L859.7 2090.1 L859.7 2057.0 L860.5 2057.0 L860.5 2089.3 L864.2 2089.3 L864.2 2077.2 L864.6 2077.2 L864.6 2114.1 L867.9 2114.1 L867.9 2111.4 L868.9 2111.4 L868.9 2059.8 L870.7 2060.7 L871.3 2060.7 L871.3 2124.3 L873.4 2124.3 L873.4 2114.1 L874.4 2114.1 L874.4 2139.0 L875.3 2139.0 L875.3 2116.9 L878.1 2116.9 L878.1 2114.1 L879.0 2114.1 L879.0 2137.2 L881.8 2137.2 L881.8 2143.6 L882.7 2143.6 L882.7 2282.7 L883.6 2282.7 L883.6 2142.7 L885.4 2142.7 L885.4 2168.5 L887.3 2168.5 L887.3 2126.1 L888.2 2126.1 L888.2 2183.2 L890.1 2183.2 L890.1 2127.9 L891.9 2127.9 L891.9 2153.7 L892.8 2153.7 L892.8 2095.7 L895.2 2095.7 L895.2 2126.1 L895.6 2126.1 L895.6 1919.7 L896.7 1919.7 L896.7 1922.5 L897.3 1922.5 L897.3 2061.6 L900.8 2062.5 L901.4 2062.5 L901.4 2097.5 L904.8 2097.5 L904.8 2074.5 L905.7 2074.5 L905.7 2113.2 L907.6 2113.2 L907.6 2073.6 L909.4 2073.6 L909.4 2101.2 L910.4 2101.2 L910.4 2040.4 L914.0 2057.9 L914.9 2057.9 L914.9 2118.7 L914.0 2118.7 L914.0 2159.3 L916.8 2159.3 L916.8 2144.5 L918.0 2144.5 L918.0 2124.3 L919.6 2124.3 L919.6 2150.1 L922.3 2150.1 L922.3 2126.1 L923.3 2126.1 L923.3 2089.3 L923.5 2089.3 L923.5 2151.9 L926.0 2151.9 L926.0 2083.7 L927.8 2083.7 L927.8 2069.0 L928.8 2069.0 L928.8 2139.0 L932.1 2139.0 L932.1 2067.2 L932.8 2067.2 L932.8 2111.4 L937.0 2120.6 L936.4 2120.6 L936.4 2157.4 L939.8 2157.4 L939.8 2080.0 L940.7 2080.0 L940.7 2137.2 L944.4 2137.2 L944.4 2079.1 L945.4 2079.1 L945.4 2036.7 L947.2 2036.7 L947.2 2133.5 L949.0 2133.5 L949.0 2037.7 L950.9 2037.7 L950.9 2080.0 L951.8 2080.0 L951.8 2057.9 L954.6 2057.9 L954.6 2046.9 L954.9 2046.9 L954.9 2113.2 L957.3 2113.2 L957.3 2104.9 L959.1 2104.9 L959.1 2096.6 L959.1 2156.4 L961.9 2155.6 L962.8 2155.6 L962.8 2122.4 L965.6 2122.4 L965.6 2151.9 L966.5 2151.9 L966.5 2118.7 L969.3 2118.7 L969.3 2127.0 L968.3 2127.0 L968.3 2069.9 L972.0 2069.9 L972.0 2080.0 L973.0 2080.0 L973.0 2052.4 L976.7 2052.4 L976.7 2085.6 L977.6 2085.6 L977.6 2043.2 L980.4 2043.2 L980.4 2057.9 L981.8 2057.9 L981.8 2027.5 L982.2 2027.5 L982.2 2104.9 L986.8 2105.8 L986.8 2156.4 L989.6 2156.4 L989.6 2142.7 L990.4 2142.7 L990.4 2214.5 L994.1 2214.5 L994.1 2207.2 L995.1 2207.2 L995.1 2125.1 L997.8 2125.1 L997.8 2137.2 L998.8 2137.2 L998.8 2194.3 L1000.2 2194.3 L1000.2 2107.7 L1001.5 2107.7 L1001.5 2197.9 L1003.9 2197.9 L1003.9 2135.3 L1004.3 2135.3 L1004.3 2220.1 L1006.2 2220.1 L1006.2 2168.5 L1008.9 2168.5 L1008.9 2224.7 L1009.8 2224.7 L1009.8 2172.2 L1012.6 2172.2 L1012.6 2192.4 L1013.1 2192.4 L1013.1 2148.2 L1014.4 2148.2 L1014.4 2190.6 L1017.5 2190.6 L1017.5 2172.2 L1017.5 2210.8 L1019.9 2210.8 L1019.9 2175.8 L1021.8 2175.8 L1021.8 2212.7 L1022.7 2212.7 L1022.7 2151.9 L1026.4 2151.9 L1026.4 2142.7 L1026.7 2142.7 L1026.7 2186.9 L1028.5 2186.9 L1028.5 2140.8 L1031.9 2140.8 L1031.9 2139.0 L1032.8 2139.0 L1032.8 2179.5 L1035.6 2179.5 L1035.6 2135.3 L1036.5 2135.3 L1036.5 2181.4 L1038.3 2181.4 L1038.3 2133.5 L1040.2 2133.5 L1040.2 2174.0 L1042.0 2174.0 L1042.0 2135.3 L1043.9 2135.3 L1043.9 2118.7 L1045.1 2118.7 L1045.1 2179.5 L1046.3 2179.5 L1046.3 2116.9 L1046.7 2116.9 L1046.7 2179.5 L1049.4 2179.5 L1049.4 2205.3 L1050.0 2205.3 L1050.0 2168.5 L1053.1 2168.5 L1053.1 2175.8 L1054.1 2175.8 L1054.1 2150.1 L1054.9 2150.1 L1054.9 2174.0 L1058.6 2174.0 L1058.6 2184.2 L1057.7 2184.2 L1057.7 1970.4 L1059.2 2000.8 L1061.4 2015.6 L1061.9 2015.6 L1061.9 2045.9 L1065.1 2045.9 L1065.1 2037.7 L1066.0 2037.7 L1066.0 2008.2 L1069.7 2008.2 L1069.6 2008.2 L1070.6 2008.2 L1070.6 2032.2 L1072.4 2032.2 L1072.4 2017.4 L1076.1 2017.4 L1076.6 2017.4 L1076.6 2062.5 L1079.8 2062.5 L1079.8 2044.1 L1080.7 2044.1 L1080.7 2104.0 L1083.9 2104.0 L1083.9 2115.9 L1084.7 2115.9 L1084.7 2061.6 L1087.2 2061.6 L1087.2 2069.0 L1089.0 2069.0 L1089.0 2095.7 L1089.9 2095.7 L1089.9 2083.7 L1092.7 2083.7 L1092.7 2079.1 L1093.5 2079.1 L1093.5 2066.2 L1094.5 2066.2 L1094.5 2082.8 L1097.2 2082.8 L1097.2 2076.4 L1098.2 2076.4 L1098.2 2282.7 L1100.0 2282.7 L1100.0 2266.1 L1102.8 2266.1 L1102.8 2295.6 L1103.1 2295.6 L1103.1 2005.4 L1103.7 2005.4 L1103.7 2096.6 L1107.4 2116.9 L1107.9 2116.9 L1107.9 2196.1 L1112.9 2196.1 L1113.4 2196.1 L1113.4 2120.6 L1111.6 2120.6 L1111.6 1956.5 L1112.4 1956.5 L1112.4 2043.2 L1115.7 2043.2 L1115.7 2038.6 L1116.6 2038.6 L1116.6 2115.0 L1118.5 2115.0 L1118.5 2083.7 L1120.3 2083.7 L1120.3 2071.7 L1120.8 2071.7 L1120.8 2096.6 L1124.0 2096.6 L1124.0 2105.8 L1124.9 2105.8 L1124.9 2078.2 L1126.7 2078.2 L1126.7 2083.7 L1129.5 2083.7 L1129.5 2108.6 L1130.4 2108.6 L1130.4 2087.4 L1133.2 2087.4 L1133.2 2100.3 L1134.1 2100.3 L1134.1 2072.7 L1138.1 2072.7 L1138.1 2114.1 L1138.7 2114.1 L1138.7 2054.3 L1141.4 2054.3 L1141.4 2098.5 L1143.3 2098.5 L1143.3 2045.0 L1145.1 2045.0 L1145.1 2098.5 L1147.9 2098.5 L1147.9 2000.8 L1148.5 2000.8 L1148.5 2098.5 L1148.8 2098.5 L1148.8 2085.6 L1152.5 2085.6 L1152.5 2091.1 L1152.9 2091.1 L1152.9 2182.3 L1155.3 2182.3 L1155.3 2129.8 L1157.7 2130.7 L1158.0 2130.7 L1158.0 2162.9 L1160.8 2162.9 L1160.8 2210.8 L1161.7 2210.8 L1161.7 2153.7 L1164.5 2153.7 L1164.5 2178.6 L1165.4 2178.6 L1165.4 1945.5 L1166.9 1945.5 L1166.9 2072.7 L1169.1 2072.7 L1169.1 2032.2 L1170.6 2032.2 L1170.6 2072.7 L1174.3 2072.7 L1174.3 2078.2 L1175.0 2078.2 L1175.0 2052.4 L1176.4 2052.4 L1176.4 2069.0 L1179.8 2069.0 L1179.8 2089.3 L1180.1 2089.3 L1180.1 2047.8 L1183.5 2046.9 L1183.8 2046.9 L1183.8 2111.4 L1187.5 2111.4 L1187.5 2091.1 L1188.5 2091.1 L1188.5 2139.0 L1190.3 2139.0 L1190.3 2096.6 L1192.7 2096.6 L1192.7 2083.7 L1193.4 2083.7 L1193.4 2109.5 L1196.7 2109.5 L1196.7 2094.8 L1197.7 2094.8 L1197.7 2124.3 L1198.5 2124.3 L1198.5 2098.5 L1201.4 2098.5 L1201.4 2085.6 L1202.2 2085.6 L1202.2 2104.9 L1206.9 2105.8 L1205.9 2105.8 L1205.9 2245.0 L1209.6 2245.0 L1209.6 2216.4 L1211.2 2216.4 L1211.2 2237.6 L1211.4 2237.6 L1211.4 2147.2 L1215.1 2147.2 L1215.1 2194.3 L1216.7 2194.3 L1216.7 2110.4 L1219.8 2110.4 L1219.8 2177.7 L1219.8 1809.4 L1220.7 1809.4 L1220.7 1934.4 L1224.3 1934.4 L1224.3 1930.7 L1225.3 1930.7 L1225.3 1982.4 L1229.0 1982.4 L1229.0 1976.9 L1229.6 1976.9 L1229.6 2003.6 L1232.7 2003.6 L1232.7 2007.2 L1233.3 2007.2 L1233.3 1967.6 L1234.5 1967.6 L1234.5 1999.0 L1237.6 1999.0 L1237.6 2000.8 L1237.6 2051.4 L1240.9 2051.4 L1240.9 2046.9 L1242.5 2046.9 L1242.5 2028.5 L1243.7 2028.5 L1243.7 2045.0 L1246.4 2045.0 L1246.4 2031.2 L1246.8 2031.2 L1246.8 2110.4 L1249.3 2110.4 L1249.3 2095.7 L1251.1 2095.7 L1251.1 2121.4 L1252.0 2121.4 L1252.0 2089.3 L1253.8 2089.3 L1253.8 2096.6 L1256.6 2096.6 L1256.6 2091.1 L1256.6 2126.1 L1259.3 2126.1 L1259.3 2118.7 L1260.3 2118.7 L1260.3 2288.2 L1260.9 2288.2 L1260.9 2115.0 L1260.3 2115.0 L1260.3 1999.0 L1264.9 1858.0 L1265.3 1858.0 L1265.3 2103.0 L1267.7 2103.0 L1267.7 2092.9 L1269.5 2092.9 L1269.5 2104.9 L1270.4 2104.9 L1270.4 2085.6 L1273.2 2084.6 L1273.8 2084.6 L1273.8 2007.2 L1275.0 2007.2 L1275.0 2032.2 L1277.8 2032.2 L1277.8 2037.7 L1278.1 2037.7 L1278.1 2164.8 L1280.6 2164.8 L1280.6 2140.8 L1282.4 2140.8 L1282.4 2177.7 L1283.0 2177.7 L1283.0 1908.6 L1284.3 2032.2 L1287.0 2146.4 L1287.9 2146.4 L1287.9 2043.2 L1290.7 2043.2 L1290.7 2151.9 L1291.6 2151.9 L1291.6 1946.4 L1293.5 2113.2 L1295.9 2139.0 L1296.6 2139.0 L1296.6 2078.2 L1299.9 2079.1 L1300.8 2079.1 L1300.8 2066.2 L1300.8 2113.2 L1303.6 2113.2 L1303.6 2089.3 L1305.5 2089.3 L1305.5 2081.9 L1305.5 2103.0 L1310.0 2103.0 L1310.0 2093.8 L1309.7 2093.8 L1309.7 2025.7 L1312.8 2025.7 L1312.8 2034.0 L1313.7 2034.0 L1313.7 2053.3 L1315.6 2053.3 L1315.6 2036.7 L1318.4 2036.7 L1318.4 2063.5 L1318.7 2063.5 L1318.7 1988.8 L1321.1 1988.8 L1321.1 2008.2 L1323.5 2008.2 L1323.5 2014.6 L1323.9 2014.6 L1323.9 1934.4 L1326.6 1975.0 L1327.6 1975.0 L1327.6 1898.6 L1327.2 1898.6 L1327.2 2130.7 L1331.3 2130.7 L1331.3 2124.3 L1332.2 2124.3 L1332.2 2202.6 L1333.1 2202.6 L1333.1 2126.1 L1336.8 2090.1 L1337.7 2090.1 L1337.7 2146.4 L1340.5 2146.4 L1340.5 2134.3 L1340.8 2134.3 L1340.8 2160.1 L1344.2 2160.1 L1344.2 2150.9 L1345.0 2150.9 L1345.0 2115.9 L1346.0 2115.9 L1346.0 2150.9 L1349.7 2150.9 L1349.7 2158.3 L1350.6 2158.3 L1350.6 2109.5 L1352.4 2109.5 L1352.4 2157.4 L1354.3 2157.4 L1354.3 2046.9 L1354.2 2046.9 L1355.2 2046.9 L1355.2 2185.1 L1358.9 2185.1 L1358.9 2183.2 L1359.3 2183.2 L1359.3 2223.7 L1361.6 2223.7 L1361.6 2194.3 L1364.4 2194.3 L1364.4 2229.3 L1364.9 2229.3 L1364.9 2192.4 L1368.1 2192.4 L1368.1 2194.3 L1368.5 2194.3 L1368.5 2159.3 L1370.8 2159.3 L1370.8 2194.3 L1372.6 2194.3 L1372.6 2158.3 L1373.0 2158.3 L1373.0 2201.6 L1377.3 2214.5 L1377.8 2214.5 L1377.8 2067.2 L1380.0 2067.2 L1381.0 2067.2 L1381.0 2047.8 L1381.8 2047.8 L1381.8 2122.4 L1385.9 2122.4 L1385.9 2124.3 L1386.5 2124.3 L1386.5 2166.6 L1388.3 2166.6 L1388.3 2151.9 L1390.2 2151.9 L1390.2 2175.8 L1390.7 2175.8 L1390.7 1858.0 L1391.0 1858.0 L1391.0 2070.8 L1393.9 2070.8 L1393.9 2068.0 L1394.3 2068.0 L1394.3 2094.8 L1397.5 2094.8 L1397.5 2072.7 L1399.4 2072.7 L1399.4 2066.2 L1399.9 2066.2 L1399.9 2103.0 L1402.5 2103.0 L1402.5 2083.7 L1404.3 2084.6 L1404.9 2084.6 L1404.9 2127.0 L1406.8 2127.0 L1406.8 2098.5 L1409.5 2098.5 L1409.5 2127.9 L1410.4 2127.9 L1410.4 2100.3 L1413.1 2100.3 L1413.1 2126.1 L1414.1 2126.1 L1414.1 2083.7 L1416.4 2083.7 L1416.4 2087.4 L1417.8 2087.4 L1417.8 2061.6 L1418.3 2061.6 L1418.3 2118.7 L1420.5 2118.7 L1420.5 2108.6 L1422.0 2109.5 L1422.4 2109.5 L1422.4 2186.9 L1424.2 2186.9 L1424.2 2161.1 L1426.4 2161.1 L1426.4 2150.1 L1427.0 2150.1 L1427.0 2162.9 L1431.6 2162.9 L1431.6 2165.7 L1431.6 2262.4 L1433.0 2262.4 L1433.0 2165.7 L1434.6 2165.7 L1434.6 2218.2 L1435.4 2218.2 L1435.4 1448.6 L1436.5 1448.6 L1436.5 2075.4 L1439.3 2075.4 L1439.3 2032.2 L1441.8 2032.2 L1441.8 2074.5 L1444.1 2074.5 L1444.1 2029.3 L1444.5 2029.3 L1444.5 2101.2 L1448.1 2112.2 L1449.1 2125.1 L1449.6 2125.1 L1449.6 2081.9 L1451.8 2081.9 L1451.8 2120.6 L1453.3 2120.6 L1453.3 2064.3 L1454.6 2064.3 L1454.6 2094.8 L1457.4 2094.8 L1457.4 2071.7 L1458.3 2071.7 L1458.3 2094.8 L1461.0 2094.8 L1461.0 2102.2 L1462.5 2102.2 L1462.5 2124.3 L1463.9 2124.3 L1463.9 2069.9 L1466.6 2070.8 L1467.0 2070.8 L1467.0 2055.1 L1469.4 2055.1 L1469.4 2072.7 L1471.7 2072.7 L1471.7 2077.2 L1472.1 2077.2 L1472.1 2052.4 L1475.8 2051.4 L1476.2 2051.4 L1476.2 2137.2 L1479.5 2072.7 L1480.9 2073.6 L1481.3 2073.6 L1481.3 2159.3 L1483.1 2159.3 L1483.1 2146.4 L1485.0 2146.4 L1485.0 2122.4 L1485.4 2122.4 L1485.4 2174.0 L1488.7 2174.0 L1488.7 2148.2 L1489.6 2148.2 L1489.6 2201.6 L1491.5 2201.6 L1491.5 2151.9 L1493.8 2151.9 L1493.8 2146.4 L1494.2 2146.4 L1494.2 2240.3 L1497.0 2240.3 L1497.0 2242.2 L1497.9 2242.2 L1497.9 2218.2 L1499.7 2218.2 L1499.7 2242.2 L1501.6 2242.2 L1501.6 2245.8 L1503.0 2245.8 L1503.0 2210.8 L1504.4 2210.8 L1504.4 2243.1 L1506.2 2243.1 L1506.2 2216.4 L1508.1 2216.4 L1508.1 2242.2 L1511.8 2242.2 L1511.8 2250.5 L1510.8 2250.5 L1510.8 2220.1 L1513.6 2220.1 L1513.6 2245.8 L1515.4 2245.8 L1515.4 2240.3 L1516.3 2240.3 L1516.3 2203.5 L1518.1 2203.5 L1518.1 2227.4 L1521.0 2227.4 L1521.0 2229.3 L1521.0 2179.5 L1524.6 2179.5 L1524.6 2176.8 L1525.5 2176.8 L1525.5 2188.7 L1525.9 2188.7 L1525.9 2138.0 L1528.3 2138.0 L1528.3 2170.3 L1530.2 2185.1 L1530.7 2185.1 L1530.7 2098.5 L1532.9 2098.5 L1532.9 2105.8 L1534.4 2105.8 L1534.4 2150.1 L1535.7 2150.1 L1535.7 2104.0 L1538.4 2104.0 L1538.4 2139.0 L1539.4 2139.0 L1539.4 2073.6 L1541.2 2073.6 L1541.2 2129.8 L1543.1 2129.8 L1543.1 2077.2 L1543.9 2077.2 L1543.9 2116.9 L1545.8 2116.9 L1545.8 2102.2 L1547.6 2102.2 L1547.6 2137.2 L1547.6 2100.3 L1551.3 2100.3 L1551.3 2138.0 L1552.3 2138.0 L1552.3 2104.9 L1555.0 2104.9 L1555.0 2141.7 L1556.8 2141.7 L1556.8 2104.0 L1558.7 2104.0 L1558.7 2142.7 L1560.5 2142.7 L1560.5 2106.7 L1562.4 2106.7 L1562.4 2144.5 L1564.2 2144.5 L1564.2 2109.5 L1565.2 2109.5 L1565.2 2162.9 L1565.8 2162.9 L1565.8 2091.1 L1567.9 2090.1 L1568.9 2090.1 L1568.9 2135.3 L1570.1 2135.3 L1570.1 2066.2 L1571.6 2066.2 L1571.6 2104.9 L1574.4 2104.9 L1574.4 2080.9 L1575.3 2080.9 L1575.3 2107.7 L1579.9 2107.7 L1579.9 2110.4 L1579.9 2096.6" fill="none" stroke="#0e0ed2" stroke-width="3.0" stroke-linejoin="round" stroke-linecap="round"/>
<rect x="186" y="1429.6" width="455" height="75.4" rx="6" ry="6" fill="#fff" stroke="#dcdcdc" stroke-width="1.6"/>
<line x1="201" y1="1461.8" x2="294" y2="1461.8" stroke="#0a0aa8" stroke-width="2.8"/>
<text x="339" y="1477.2" font-size="44.4">total_spillover</text>
<rect x="292.7" y="1531.0" width="111.2" height="802.0" fill="rgb(255,0,0)" fill-opacity="0.5"/>
<rect x="780.8" y="1531.0" width="217.6" height="800.0" fill="rgb(255,125,25)" fill-opacity="0.5"/>
<rect x="1320.6" y="1533.0" width="113.2" height="799.0" fill="rgb(255,235,130)" fill-opacity="0.5"/>
<rect x="1487" y="1531.0" width="95.9" height="802.0" fill="rgb(100,225,210)" fill-opacity="0.5"/>
<rect x="164.1" y="1407.2" width="1484.5" height="931.1" fill="none" stroke="#404040" stroke-width="2"/>
<line x1="156.1" y1="2199.9" x2="164.1" y2="2199.9" stroke="#404040" stroke-width="2"/>
<text x="146.8" y="2214.8" font-size="43.8" text-anchor="end">0.3</text>
<line x1="156.1" y1="2042.9" x2="164.1" y2="2042.9" stroke="#404040" stroke-width="2"/>
<text x="146.8" y="2057.8" font-size="43.8" text-anchor="end">0.4</text>
<line x1="156.1" y1="1886.0" x2="164.1" y2="1886.0" stroke="#404040" stroke-width="2"/>
<text x="146.8" y="1900.9" font-size="43.8" text-anchor="end">0.5</text>
<line x1="156.1" y1="1729.0" x2="164.1" y2="1729.0" stroke="#404040" stroke-width="2"/>
<text x="146.8" y="1743.9" font-size="43.8" text-anchor="end">0.6</text>
<line x1="156.1" y1="1572.1" x2="164.1" y2="1572.1" stroke="#404040" stroke-width="2"/>
<text x="146.8" y="1587.0" font-size="43.8" text-anchor="end">0.7</text>
<line x1="156.1" y1="1415.1" x2="164.1" y2="1415.1" stroke="#404040" stroke-width="2"/>
<text x="146.8" y="1430.0" font-size="43.8" text-anchor="end">0.8</text>
<line x1="241.1" y1="2338.3" x2="241.1" y2="2346.3" stroke="#404040" stroke-width="2"/>
<text transform="translate(237.1 2399.5) rotate(-45)" x="0" y="15.7" font-size="44" text-anchor="middle">2000</text>
<line x1="456.7" y1="2338.3" x2="456.7" y2="2346.3" stroke="#404040" stroke-width="2"/>
<text transform="translate(452.7 2399.5) rotate(-45)" x="0" y="15.7" font-size="44" text-anchor="middle">2004</text>
<line x1="672.4" y1="2338.3" x2="672.4" y2="2346.3" stroke="#404040" stroke-width="2"/>
<text transform="translate(668.4 2399.5) rotate(-45)" x="0" y="15.7" font-size="44" text-anchor="middle">2008</text>
<line x1="888.0" y1="2338.3" x2="888.0" y2="2346.3" stroke="#404040" stroke-width="2"/>
<text transform="translate(884.0 2399.5) rotate(-45)" x="0" y="15.7" font-size="44" text-anchor="middle">2012</text>
<line x1="1103.7" y1="2338.3" x2="1103.7" y2="2346.3" stroke="#404040" stroke-width="2"/>
<text transform="translate(1099.7 2399.5) rotate(-45)" x="0" y="15.7" font-size="44" text-anchor="middle">2016</text>
<line x1="1319.3" y1="2338.3" x2="1319.3" y2="2346.3" stroke="#404040" stroke-width="2"/>
<text transform="translate(1315.3 2399.5) rotate(-45)" x="0" y="15.7" font-size="44" text-anchor="middle">2020</text>
<line x1="1534.9" y1="2338.3" x2="1534.9" y2="2346.3" stroke="#404040" stroke-width="2"/>
<text transform="translate(1530.9 2399.5) rotate(-45)" x="0" y="15.7" font-size="44" text-anchor="middle">2024</text>
<text x="912.6" y="1392.7" font-size="53" text-anchor="middle">total_spillover</text>
<text x="905.3" y="2494.2" font-size="43.9" text-anchor="middle">Date</text>
<text transform="translate(66 1876) rotate(-90)" font-size="44.3" text-anchor="middle">Mean Spillover Index</text>
<g font-size="24" fill="#111">
<text x="336.5" y="1921.5" >Iraq War</text>
<text x="166.5" y="2257.6" >September</text>
<text x="168.0" y="2308.6" >11 attacks</text>
<text x="287.5" y="2320.8" >War in Afghanistan</text>
<text x="864.3" y="1841.0" >Arab Spring</text>
<text x="1203.0" y="1639.4" >United</text>
<text x="1203.0" y="1690.5" >States–China</text>
<text x="1203.0" y="1741.2" >trade war</text>
<text x="1445.5" y="1568.4" >COVID-19</text>
<text x="1445.5" y="1619.2" >pandemic</text>
<text x="1469.8" y="1717.8" >Russia-Ukrai</text>
<text x="1469.8" y="1768.9" word-spacing="7.5">ne conflict in</text>
<text x="1469.8" y="1819.6" >2022</text>
<text x="1294.0" y="2274.6" >Major escalation of the Israel-</text>
<text x="1294.0" y="2325.5" >Palestinian conflict</text>
</g>
<path d="M383.7 1948.4 L403.9 2113.0 M390.0 2094.4 L403.9 2113.0 L413.1 2092.1" fill="none" stroke="#111" stroke-width="2.1" stroke-linecap="round" stroke-linejoin="miter"/>
<path d="M272.2 2279.9 L339.6 2194.1 M320.4 2198.8 L339.6 2194.1 L337.3 2216.2" fill="none" stroke="#111" stroke-width="2.1" stroke-linecap="round" stroke-linejoin="miter"/>
<path d="M344.3 2295.0 L348.9 2217.3 M336.6 2234.7 L348.9 2217.3 L359.8 2233.5" fill="none" stroke="#111" stroke-width="2.1" stroke-linecap="round" stroke-linejoin="miter"/>
<path d="M900.0 1858.2 L850.9 2025.5 M846.6 2004.1 L850.9 2025.5 L868.7 2008.9" fill="none" stroke="#111" stroke-width="2.1" stroke-linecap="round" stroke-linejoin="miter"/>
<path d="M1263.0 1749.7 L1235.8 1922.9 M1227.6 1902.6 L1235.8 1922.9 L1250.5 1905.7" fill="none" stroke="#111" stroke-width="2.1" stroke-linecap="round" stroke-linejoin="miter"/>
<path d="M1480.8 1634.1 L1327.2 1880.6 M1327.9 1860.3 L1327.2 1880.6 L1348.5 1870.3" fill="none" stroke="#111" stroke-width="2.1" stroke-linecap="round" stroke-linejoin="miter"/>
<path d="M1491.7 1834.6 L1441.5 2001.1 M1433.0 1979.0 L1441.5 2001.1 L1461.2 1986.5" fill="none" stroke="#111" stroke-width="2.1" stroke-linecap="round" stroke-linejoin="miter"/>
<path d="M1546.0 2257.0 L1531.5 2233.8 M1532.5 2255.8 L1531.5 2233.8 L1551.9 2243.9" fill="none" stroke="#111" stroke-width="2.1" stroke-linecap="round" stroke-linejoin="miter"/>
</g>
</svg></body></html>
